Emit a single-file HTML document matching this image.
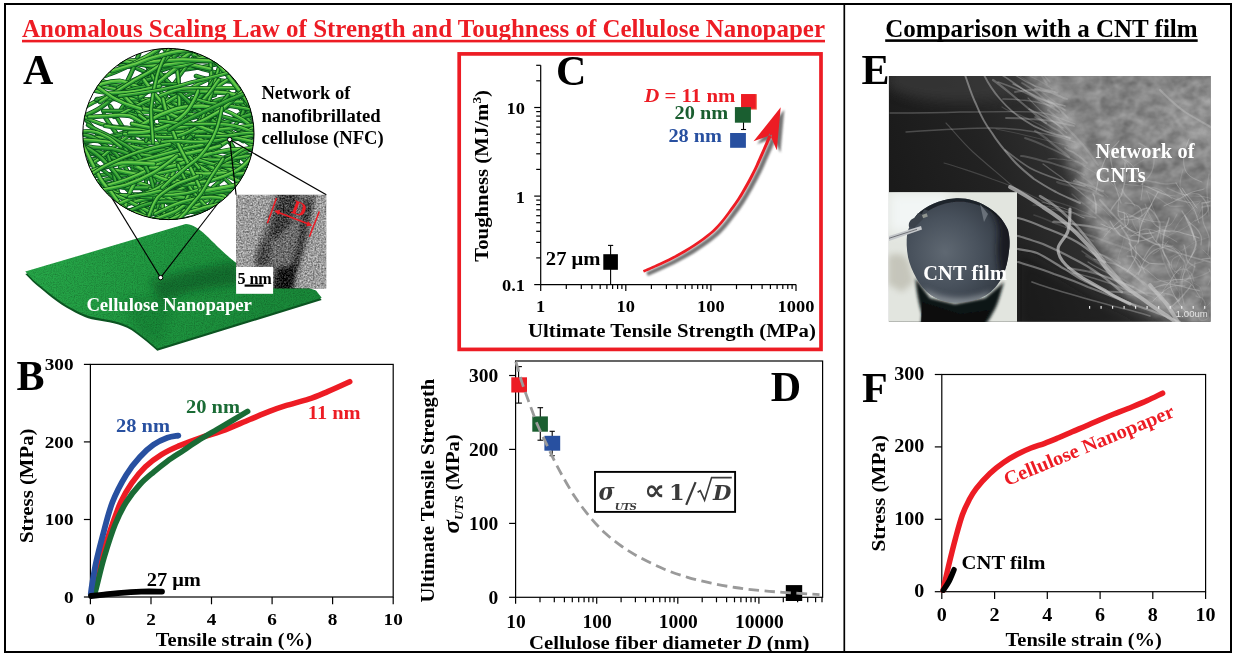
<!DOCTYPE html>
<html lang="en"><head><meta charset="utf-8"><title>Anomalous Scaling Law of Strength and Toughness of Cellulose Nanopaper</title>
<style>
html,body{margin:0;padding:0;background:#fff;}
body{width:1237px;height:656px;overflow:hidden;font-family:"Liberation Serif",serif;}
svg{display:block;}
text{font-family:"Liberation Serif",serif;}
.b{font-weight:bold;}
.bi{font-weight:bold;font-style:italic;}
.ax{stroke:#000;stroke-width:1.2;fill:none;}
</style></head><body>
<svg width="1237" height="656" viewBox="0 0 1237 656">
<!-- p0_head.py -->
<rect x="0" y="0" width="1237" height="656" fill="#fff"/>
<rect x="5" y="4" width="1226" height="648" fill="none" stroke="#000" stroke-width="2"/>
<line x1="844.3" y1="4" x2="844.3" y2="652" stroke="#000" stroke-width="1.7"/>
<text x="22" y="37" class="b" font-size="24.7" fill="#ED1C24" textLength="803" lengthAdjust="spacingAndGlyphs">Anomalous Scaling Law of Strength and Toughness of Cellulose Nanopaper</text>
<rect x="22" y="39.8" width="803" height="2.6" fill="#ED1C24"/>
<text x="885.2" y="37" class="b" font-size="24.7" fill="#000" textLength="312.5" lengthAdjust="spacingAndGlyphs">Comparison with a CNT film</text>
<rect x="885.2" y="39.3" width="312.5" height="2.6" fill="#000"/>

<!-- p1_A.py -->
<defs>
<clipPath id="circ"><circle cx="168.4" cy="134" r="85.6"/></clipPath>
<clipPath id="shc"><path d="M25.3 271.6L185.7 224.1C192 224.6 197 227.5 203 232.5C212 240.5 222 252 236.2 262.9L316 290.5L321.7 297.8L157.3 348.4C150 342 143 336 136.6 331.4C130 326.5 124 324 118.5 322.3C112 320.3 106 319.4 100.4 318.5C94 317.4 89 316.3 84.8 314.6C78 311.8 72 308.5 66.7 305.5C60 301.5 54 297 48.6 292.6C43 288 38 284 33.1 279.7Z"/></clipPath><clipPath id="temc"><rect x="236.1" y="194.8" width="90.2" height="93.8"/></clipPath>
<linearGradient id="shg" gradientUnits="userSpaceOnUse" x1="60" y1="240" x2="260" y2="330"><stop offset="0" stop-color="#26A648"/><stop offset="0.45" stop-color="#209A41"/><stop offset="1" stop-color="#1A8B3A"/></linearGradient>
<filter id="grain" x="0" y="0" width="100%" height="100%"><feTurbulence type="fractalNoise" baseFrequency="0.9" numOctaves="2" seed="3" result="n"/><feColorMatrix in="n" type="matrix" values="0 0 0 0 0  0 0 0 0 0  0 0 0 0 0  0.9 0.9 0 0 -0.75"/><feComposite in2="SourceGraphic" operator="in"/></filter>
<filter id="tem" x="0" y="0" width="100%" height="100%" color-interpolation-filters="sRGB"><feTurbulence type="fractalNoise" baseFrequency="0.6" numOctaves="2" seed="11" result="n"/><feColorMatrix in="n" type="matrix" values="1 0 0 0 0  1 0 0 0 0  1 0 0 0 0  0 0 0 0 1" result="g"/><feComposite in="SourceGraphic" in2="g" operator="arithmetic" k1="0" k2="1" k3="0.7" k4="-0.35"/></filter>
<filter id="b2"><feGaussianBlur stdDeviation="2.2"/></filter>
<filter id="b4"><feGaussianBlur stdDeviation="4"/></filter>
</defs>
<path d="M25.3 271.6L185.7 224.1C192 224.6 197 227.5 203 232.5C212 240.5 222 252 236.2 262.9L316 290.5L321.7 297.8L157.3 348.4C150 342 143 336 136.6 331.4C130 326.5 124 324 118.5 322.3C112 320.3 106 319.4 100.4 318.5C94 317.4 89 316.3 84.8 314.6C78 311.8 72 308.5 66.7 305.5C60 301.5 54 297 48.6 292.6C43 288 38 284 33.1 279.7Z" fill="#0B5421" transform="translate(0 2.3)"/>
<path d="M25.3 271.6L185.7 224.1C192 224.6 197 227.5 203 232.5C212 240.5 222 252 236.2 262.9L316 290.5L321.7 297.8L157.3 348.4C150 342 143 336 136.6 331.4C130 326.5 124 324 118.5 322.3C112 320.3 106 319.4 100.4 318.5C94 317.4 89 316.3 84.8 314.6C78 311.8 72 308.5 66.7 305.5C60 301.5 54 297 48.6 292.6C43 288 38 284 33.1 279.7Z" fill="url(#shg)"/>
<g clip-path="url(#shc)"><path d="M150 282C170 274 200 268 240 262L240 284C210 287 185 292 160 302Z" fill="#0B5A25" opacity="0.62" filter="url(#b4)"/><path d="M120 300C140 296 160 296 175 300L160 345L140 335Z" fill="#0E6A2B" opacity="0.3" filter="url(#b4)"/></g>
<path d="M25.3 271.6L185.7 224.1C192 224.6 197 227.5 203 232.5C212 240.5 222 252 236.2 262.9L316 290.5L321.7 297.8L157.3 348.4C150 342 143 336 136.6 331.4C130 326.5 124 324 118.5 322.3C112 320.3 106 319.4 100.4 318.5C94 317.4 89 316.3 84.8 314.6C78 311.8 72 308.5 66.7 305.5C60 301.5 54 297 48.6 292.6C43 288 38 284 33.1 279.7Z" fill="#0a4a1c" opacity="0.35" filter="url(#grain)"/>
<text x="86.4" y="311.4" class="b" font-size="18.8" fill="#fff" textLength="165.5">Cellulose Nanopaper</text>
<g stroke="#000" stroke-width="1.1"><line x1="160.6" y1="277.6" x2="110" y2="194.9"/><line x1="160.6" y1="277.6" x2="226" y2="193"/></g>
<circle cx="160.6" cy="277.6" r="2.2" fill="#fff" stroke="#000" stroke-width="1"/>
<circle cx="168.4" cy="134" r="85.6" fill="#fff"/>
<g clip-path="url(#circ)" fill="none" stroke-linecap="round">
<circle cx="168.4" cy="134" r="86" fill="#fff"/>
<path d="M91 55C95 56 106 60 113 63C120 65 128 66 136 68C143 71 150 74 157 78C163 82 172 89 176 92" stroke="#08481a" stroke-width="4.1"/><path d="M91 55C95 56 106 60 113 63C120 65 128 66 136 68C143 71 150 74 157 78C163 82 172 89 176 92" stroke="#1F8A2C" stroke-width="2.7"/><path d="M91 55C95 56 106 60 113 63C120 65 128 66 136 68C143 71 150 74 157 78C163 82 172 89 176 92" stroke="#48B03C" stroke-width="1.1" transform="translate(0 -.7)"/>
<path d="M70 148C74 149 85 152 93 154C101 156 109 156 117 158C125 160 132 162 140 164C147 167 158 172 162 173" stroke="#08481a" stroke-width="4.7"/><path d="M70 148C74 149 85 152 93 154C101 156 109 156 117 158C125 160 132 162 140 164C147 167 158 172 162 173" stroke="#1F8A2C" stroke-width="3.3"/><path d="M70 148C74 149 85 152 93 154C101 156 109 156 117 158C125 160 132 162 140 164C147 167 158 172 162 173" stroke="#48B03C" stroke-width="1.7" transform="translate(0 -.7)"/>
<path d="M130 152C134 152 148 154 157 155C166 157 175 159 184 160C193 162 202 163 211 165C220 167 233 171 237 172" stroke="#08481a" stroke-width="4.4"/><path d="M130 152C134 152 148 154 157 155C166 157 175 159 184 160C193 162 202 163 211 165C220 167 233 171 237 172" stroke="#1F8A2C" stroke-width="3.0"/><path d="M130 152C134 152 148 154 157 155C166 157 175 159 184 160C193 162 202 163 211 165C220 167 233 171 237 172" stroke="#48B03C" stroke-width="1.4" transform="translate(0 -.7)"/>
<path d="M191 128C193 133 196 147 201 154C207 162 215 170 224 171C232 173 243 169 251 164C258 160 268 149 271 145" stroke="#08481a" stroke-width="4.7"/><path d="M191 128C193 133 196 147 201 154C207 162 215 170 224 171C232 173 243 169 251 164C258 160 268 149 271 145" stroke="#1F8A2C" stroke-width="3.3"/><path d="M191 128C193 133 196 147 201 154C207 162 215 170 224 171C232 173 243 169 251 164C258 160 268 149 271 145" stroke="#48B03C" stroke-width="1.7" transform="translate(0 -.7)"/>
<path d="M108 20C113 22 127 30 137 35C146 40 157 47 166 47C176 47 188 41 196 35C204 28 213 14 216 10" stroke="#08481a" stroke-width="4.8"/><path d="M108 20C113 22 127 30 137 35C146 40 157 47 166 47C176 47 188 41 196 35C204 28 213 14 216 10" stroke="#1F8A2C" stroke-width="3.4"/><path d="M108 20C113 22 127 30 137 35C146 40 157 47 166 47C176 47 188 41 196 35C204 28 213 14 216 10" stroke="#48B03C" stroke-width="1.8" transform="translate(0 -.7)"/>
<path d="M104 180C109 179 124 175 134 173C144 170 155 170 164 165C172 160 178 150 183 141C187 132 189 116 191 111" stroke="#08481a" stroke-width="4.4"/><path d="M104 180C109 179 124 175 134 173C144 170 155 170 164 165C172 160 178 150 183 141C187 132 189 116 191 111" stroke="#1F8A2C" stroke-width="3.0"/><path d="M104 180C109 179 124 175 134 173C144 170 155 170 164 165C172 160 178 150 183 141C187 132 189 116 191 111" stroke="#48B03C" stroke-width="1.4" transform="translate(0 -.7)"/>
<path d="M172 72C176 71 187 69 195 68C203 67 211 65 219 64C227 63 234 63 242 62C250 61 262 60 266 59" stroke="#08481a" stroke-width="4.3"/><path d="M172 72C176 71 187 69 195 68C203 67 211 65 219 64C227 63 234 63 242 62C250 61 262 60 266 59" stroke="#1F8A2C" stroke-width="2.9"/><path d="M172 72C176 71 187 69 195 68C203 67 211 65 219 64C227 63 234 63 242 62C250 61 262 60 266 59" stroke="#48B03C" stroke-width="1.3" transform="translate(0 -.7)"/>
<path d="M117 234C119 232 126 225 130 221C134 216 139 212 142 206C145 201 146 194 146 188C147 182 144 172 144 169" stroke="#08481a" stroke-width="4.0"/><path d="M117 234C119 232 126 225 130 221C134 216 139 212 142 206C145 201 146 194 146 188C147 182 144 172 144 169" stroke="#1F8A2C" stroke-width="2.6"/><path d="M117 234C119 232 126 225 130 221C134 216 139 212 142 206C145 201 146 194 146 188C147 182 144 172 144 169" stroke="#48B03C" stroke-width="1.0" transform="translate(0 -.7)"/>
<path d="M110 106C113 110 119 122 124 129C130 135 136 143 144 146C152 150 162 150 170 150C179 151 192 152 197 152" stroke="#08481a" stroke-width="4.4"/><path d="M110 106C113 110 119 122 124 129C130 135 136 143 144 146C152 150 162 150 170 150C179 151 192 152 197 152" stroke="#1F8A2C" stroke-width="3.0"/><path d="M110 106C113 110 119 122 124 129C130 135 136 143 144 146C152 150 162 150 170 150C179 151 192 152 197 152" stroke="#48B03C" stroke-width="1.4" transform="translate(0 -.7)"/>
<path d="M64 172C66 171 74 168 79 166C84 164 89 161 94 159C99 157 105 155 110 153C115 152 123 149 125 148" stroke="#08481a" stroke-width="4.3"/><path d="M64 172C66 171 74 168 79 166C84 164 89 161 94 159C99 157 105 155 110 153C115 152 123 149 125 148" stroke="#1F8A2C" stroke-width="2.9"/><path d="M64 172C66 171 74 168 79 166C84 164 89 161 94 159C99 157 105 155 110 153C115 152 123 149 125 148" stroke="#48B03C" stroke-width="1.3" transform="translate(0 -.7)"/>
<path d="M199 144C202 145 212 148 218 150C225 152 232 155 239 155C245 156 252 155 259 154C266 154 276 153 280 153" stroke="#08481a" stroke-width="4.1"/><path d="M199 144C202 145 212 148 218 150C225 152 232 155 239 155C245 156 252 155 259 154C266 154 276 153 280 153" stroke="#1F8A2C" stroke-width="2.7"/><path d="M199 144C202 145 212 148 218 150C225 152 232 155 239 155C245 156 252 155 259 154C266 154 276 153 280 153" stroke="#48B03C" stroke-width="1.1" transform="translate(0 -.7)"/>
<path d="M119 114C121 112 126 106 129 102C133 98 136 94 139 90C143 86 147 83 151 79C154 76 160 71 162 69" stroke="#08481a" stroke-width="4.5"/><path d="M119 114C121 112 126 106 129 102C133 98 136 94 139 90C143 86 147 83 151 79C154 76 160 71 162 69" stroke="#1F8A2C" stroke-width="3.1"/><path d="M119 114C121 112 126 106 129 102C133 98 136 94 139 90C143 86 147 83 151 79C154 76 160 71 162 69" stroke="#48B03C" stroke-width="1.5" transform="translate(0 -.7)"/>
<path d="M172 178C178 177 194 178 205 177C215 175 226 173 236 171C247 169 257 166 268 164C279 162 295 160 300 159" stroke="#08481a" stroke-width="4.9"/><path d="M172 178C178 177 194 178 205 177C215 175 226 173 236 171C247 169 257 166 268 164C279 162 295 160 300 159" stroke="#1F8A2C" stroke-width="3.5"/><path d="M172 178C178 177 194 178 205 177C215 175 226 173 236 171C247 169 257 166 268 164C279 162 295 160 300 159" stroke="#48B03C" stroke-width="1.9" transform="translate(0 -.7)"/>
<path d="M187 230C190 227 199 217 205 211C212 205 219 200 226 194C232 188 239 182 245 176C252 170 262 162 266 159" stroke="#08481a" stroke-width="4.4"/><path d="M187 230C190 227 199 217 205 211C212 205 219 200 226 194C232 188 239 182 245 176C252 170 262 162 266 159" stroke="#1F8A2C" stroke-width="3.0"/><path d="M187 230C190 227 199 217 205 211C212 205 219 200 226 194C232 188 239 182 245 176C252 170 262 162 266 159" stroke="#48B03C" stroke-width="1.4" transform="translate(0 -.7)"/>
<path d="M119 112C121 109 126 101 130 96C134 91 138 86 143 81C148 77 154 74 160 71C166 69 175 66 178 65" stroke="#08481a" stroke-width="4.1"/><path d="M119 112C121 109 126 101 130 96C134 91 138 86 143 81C148 77 154 74 160 71C166 69 175 66 178 65" stroke="#1F8A2C" stroke-width="2.7"/><path d="M119 112C121 109 126 101 130 96C134 91 138 86 143 81C148 77 154 74 160 71C166 69 175 66 178 65" stroke="#48B03C" stroke-width="1.1" transform="translate(0 -.7)"/>
<path d="M156 156C161 155 176 150 186 145C196 141 206 135 215 130C225 124 234 118 243 112C251 105 263 94 267 90" stroke="#08481a" stroke-width="4.2"/><path d="M156 156C161 155 176 150 186 145C196 141 206 135 215 130C225 124 234 118 243 112C251 105 263 94 267 90" stroke="#1F8A2C" stroke-width="2.8"/><path d="M156 156C161 155 176 150 186 145C196 141 206 135 215 130C225 124 234 118 243 112C251 105 263 94 267 90" stroke="#48B03C" stroke-width="1.2" transform="translate(0 -.7)"/>
<path d="M217 9C218 13 220 28 222 38C223 48 223 58 226 67C229 77 235 85 240 94C245 102 253 115 256 119" stroke="#08481a" stroke-width="4.6"/><path d="M217 9C218 13 220 28 222 38C223 48 223 58 226 67C229 77 235 85 240 94C245 102 253 115 256 119" stroke="#1F8A2C" stroke-width="3.2"/><path d="M217 9C218 13 220 28 222 38C223 48 223 58 226 67C229 77 235 85 240 94C245 102 253 115 256 119" stroke="#48B03C" stroke-width="1.6" transform="translate(0 -.7)"/>
<path d="M226 90C228 92 234 100 238 105C242 111 246 116 250 122C253 127 258 132 262 137C266 142 272 150 274 153" stroke="#08481a" stroke-width="4.8"/><path d="M226 90C228 92 234 100 238 105C242 111 246 116 250 122C253 127 258 132 262 137C266 142 272 150 274 153" stroke="#1F8A2C" stroke-width="3.4"/><path d="M226 90C228 92 234 100 238 105C242 111 246 116 250 122C253 127 258 132 262 137C266 142 272 150 274 153" stroke="#48B03C" stroke-width="1.8" transform="translate(0 -.7)"/>
<path d="M90 160C96 159 114 156 125 155C137 153 149 152 161 150C172 147 184 144 195 141C207 139 224 136 230 135" stroke="#08481a" stroke-width="4.2"/><path d="M90 160C96 159 114 156 125 155C137 153 149 152 161 150C172 147 184 144 195 141C207 139 224 136 230 135" stroke="#1F8A2C" stroke-width="2.8"/><path d="M90 160C96 159 114 156 125 155C137 153 149 152 161 150C172 147 184 144 195 141C207 139 224 136 230 135" stroke="#48B03C" stroke-width="1.2" transform="translate(0 -.7)"/>
<path d="M182 60C185 62 195 67 202 69C209 71 218 74 224 72C231 71 238 66 244 61C249 56 256 47 258 44" stroke="#08481a" stroke-width="4.2"/><path d="M182 60C185 62 195 67 202 69C209 71 218 74 224 72C231 71 238 66 244 61C249 56 256 47 258 44" stroke="#1F8A2C" stroke-width="2.8"/><path d="M182 60C185 62 195 67 202 69C209 71 218 74 224 72C231 71 238 66 244 61C249 56 256 47 258 44" stroke="#48B03C" stroke-width="1.2" transform="translate(0 -.7)"/>
<path d="M170 131C174 131 186 133 194 134C203 135 212 138 219 135C227 133 235 127 239 120C244 114 246 101 247 97" stroke="#08481a" stroke-width="4.5"/><path d="M170 131C174 131 186 133 194 134C203 135 212 138 219 135C227 133 235 127 239 120C244 114 246 101 247 97" stroke="#1F8A2C" stroke-width="3.1"/><path d="M170 131C174 131 186 133 194 134C203 135 212 138 219 135C227 133 235 127 239 120C244 114 246 101 247 97" stroke="#48B03C" stroke-width="1.5" transform="translate(0 -.7)"/>
<path d="M104 115C105 117 110 125 114 130C117 135 121 140 124 145C126 150 129 156 131 162C133 167 134 176 135 179" stroke="#08481a" stroke-width="4.8"/><path d="M104 115C105 117 110 125 114 130C117 135 121 140 124 145C126 150 129 156 131 162C133 167 134 176 135 179" stroke="#1F8A2C" stroke-width="3.4"/><path d="M104 115C105 117 110 125 114 130C117 135 121 140 124 145C126 150 129 156 131 162C133 167 134 176 135 179" stroke="#48B03C" stroke-width="1.8" transform="translate(0 -.7)"/>
<path d="M149 199C154 196 170 189 180 183C190 177 199 169 209 164C219 159 230 155 242 152C253 149 270 148 276 148" stroke="#08481a" stroke-width="4.1"/><path d="M149 199C154 196 170 189 180 183C190 177 199 169 209 164C219 159 230 155 242 152C253 149 270 148 276 148" stroke="#1F8A2C" stroke-width="2.7"/><path d="M149 199C154 196 170 189 180 183C190 177 199 169 209 164C219 159 230 155 242 152C253 149 270 148 276 148" stroke="#48B03C" stroke-width="1.1" transform="translate(0 -.7)"/>
<path d="M128 112C131 111 142 108 150 107C157 106 164 105 171 104C179 103 186 102 193 101C201 99 211 96 215 95" stroke="#08481a" stroke-width="4.5"/><path d="M128 112C131 111 142 108 150 107C157 106 164 105 171 104C179 103 186 102 193 101C201 99 211 96 215 95" stroke="#1F8A2C" stroke-width="3.1"/><path d="M128 112C131 111 142 108 150 107C157 106 164 105 171 104C179 103 186 102 193 101C201 99 211 96 215 95" stroke="#48B03C" stroke-width="1.5" transform="translate(0 -.7)"/>
<path d="M174 103C178 101 188 94 196 92C204 90 213 89 221 91C228 93 236 98 242 104C247 109 254 120 256 123" stroke="#08481a" stroke-width="4.1"/><path d="M174 103C178 101 188 94 196 92C204 90 213 89 221 91C228 93 236 98 242 104C247 109 254 120 256 123" stroke="#1F8A2C" stroke-width="2.7"/><path d="M174 103C178 101 188 94 196 92C204 90 213 89 221 91C228 93 236 98 242 104C247 109 254 120 256 123" stroke="#48B03C" stroke-width="1.1" transform="translate(0 -.7)"/>
<path d="M136 144C141 142 158 135 169 131C181 127 193 126 204 120C214 114 223 106 232 98C241 89 253 76 257 71" stroke="#08481a" stroke-width="4.3"/><path d="M136 144C141 142 158 135 169 131C181 127 193 126 204 120C214 114 223 106 232 98C241 89 253 76 257 71" stroke="#1F8A2C" stroke-width="2.9"/><path d="M136 144C141 142 158 135 169 131C181 127 193 126 204 120C214 114 223 106 232 98C241 89 253 76 257 71" stroke="#48B03C" stroke-width="1.3" transform="translate(0 -.7)"/>
<path d="M65 148C68 147 77 145 82 143C88 142 94 141 99 139C105 138 110 136 116 135C122 133 130 132 133 131" stroke="#08481a" stroke-width="4.5"/><path d="M65 148C68 147 77 145 82 143C88 142 94 141 99 139C105 138 110 136 116 135C122 133 130 132 133 131" stroke="#1F8A2C" stroke-width="3.1"/><path d="M65 148C68 147 77 145 82 143C88 142 94 141 99 139C105 138 110 136 116 135C122 133 130 132 133 131" stroke="#48B03C" stroke-width="1.5" transform="translate(0 -.7)"/>
<path d="M165 164C169 163 181 158 189 154C196 151 204 146 212 144C220 141 229 139 237 138C246 136 258 136 263 135" stroke="#08481a" stroke-width="4.5"/><path d="M165 164C169 163 181 158 189 154C196 151 204 146 212 144C220 141 229 139 237 138C246 136 258 136 263 135" stroke="#1F8A2C" stroke-width="3.1"/><path d="M165 164C169 163 181 158 189 154C196 151 204 146 212 144C220 141 229 139 237 138C246 136 258 136 263 135" stroke="#48B03C" stroke-width="1.5" transform="translate(0 -.7)"/>
<path d="M184 185C188 184 200 182 207 179C215 177 223 175 231 173C238 170 246 167 253 165C261 162 272 157 276 156" stroke="#08481a" stroke-width="4.1"/><path d="M184 185C188 184 200 182 207 179C215 177 223 175 231 173C238 170 246 167 253 165C261 162 272 157 276 156" stroke="#1F8A2C" stroke-width="2.7"/><path d="M184 185C188 184 200 182 207 179C215 177 223 175 231 173C238 170 246 167 253 165C261 162 272 157 276 156" stroke="#48B03C" stroke-width="1.1" transform="translate(0 -.7)"/>
<path d="M198 156C202 157 211 161 218 163C224 165 231 165 238 166C245 167 251 167 258 168C265 169 275 169 279 169" stroke="#08481a" stroke-width="4.5"/><path d="M198 156C202 157 211 161 218 163C224 165 231 165 238 166C245 167 251 167 258 168C265 169 275 169 279 169" stroke="#1F8A2C" stroke-width="3.1"/><path d="M198 156C202 157 211 161 218 163C224 165 231 165 238 166C245 167 251 167 258 168C265 169 275 169 279 169" stroke="#48B03C" stroke-width="1.5" transform="translate(0 -.7)"/>
<path d="M108 138C111 137 121 135 127 134C134 132 140 131 146 129C153 128 159 126 165 124C171 122 181 119 184 118" stroke="#08481a" stroke-width="4.3"/><path d="M108 138C111 137 121 135 127 134C134 132 140 131 146 129C153 128 159 126 165 124C171 122 181 119 184 118" stroke="#1F8A2C" stroke-width="2.9"/><path d="M108 138C111 137 121 135 127 134C134 132 140 131 146 129C153 128 159 126 165 124C171 122 181 119 184 118" stroke="#48B03C" stroke-width="1.3" transform="translate(0 -.7)"/>
<path d="M129 112C133 114 147 121 157 126C166 130 175 135 185 139C194 144 203 149 212 154C221 159 235 165 240 167" stroke="#08481a" stroke-width="4.7"/><path d="M129 112C133 114 147 121 157 126C166 130 175 135 185 139C194 144 203 149 212 154C221 159 235 165 240 167" stroke="#1F8A2C" stroke-width="3.3"/><path d="M129 112C133 114 147 121 157 126C166 130 175 135 185 139C194 144 203 149 212 154C221 159 235 165 240 167" stroke="#48B03C" stroke-width="1.7" transform="translate(0 -.7)"/>
<path d="M220 129C222 131 227 139 231 144C234 149 237 154 242 158C246 162 252 165 258 167C263 169 272 172 275 173" stroke="#08481a" stroke-width="4.6"/><path d="M220 129C222 131 227 139 231 144C234 149 237 154 242 158C246 162 252 165 258 167C263 169 272 172 275 173" stroke="#1F8A2C" stroke-width="3.2"/><path d="M220 129C222 131 227 139 231 144C234 149 237 154 242 158C246 162 252 165 258 167C263 169 272 172 275 173" stroke="#48B03C" stroke-width="1.6" transform="translate(0 -.7)"/>
<path d="M35 127C41 126 58 124 69 121C79 118 91 114 100 108C109 102 118 94 125 85C131 76 137 59 139 54" stroke="#08481a" stroke-width="4.7"/><path d="M35 127C41 126 58 124 69 121C79 118 91 114 100 108C109 102 118 94 125 85C131 76 137 59 139 54" stroke="#1F8A2C" stroke-width="3.3"/><path d="M35 127C41 126 58 124 69 121C79 118 91 114 100 108C109 102 118 94 125 85C131 76 137 59 139 54" stroke="#48B03C" stroke-width="1.7" transform="translate(0 -.7)"/>
<path d="M112 161C117 161 133 162 144 162C154 163 165 164 175 164C186 164 196 163 207 162C217 162 233 161 238 161" stroke="#08481a" stroke-width="4.4"/><path d="M112 161C117 161 133 162 144 162C154 163 165 164 175 164C186 164 196 163 207 162C217 162 233 161 238 161" stroke="#1F8A2C" stroke-width="3.0"/><path d="M112 161C117 161 133 162 144 162C154 163 165 164 175 164C186 164 196 163 207 162C217 162 233 161 238 161" stroke="#48B03C" stroke-width="1.4" transform="translate(0 -.7)"/>
<path d="M106 160C111 160 126 160 136 162C146 163 155 169 165 169C174 168 185 165 193 160C200 154 207 140 210 136" stroke="#08481a" stroke-width="4.5"/><path d="M106 160C111 160 126 160 136 162C146 163 155 169 165 169C174 168 185 165 193 160C200 154 207 140 210 136" stroke="#1F8A2C" stroke-width="3.1"/><path d="M106 160C111 160 126 160 136 162C146 163 155 169 165 169C174 168 185 165 193 160C200 154 207 140 210 136" stroke="#48B03C" stroke-width="1.5" transform="translate(0 -.7)"/>
<path d="M153 188C157 186 169 182 177 179C185 176 192 171 201 170C209 169 218 170 226 172C234 174 246 179 250 181" stroke="#08481a" stroke-width="4.8"/><path d="M153 188C157 186 169 182 177 179C185 176 192 171 201 170C209 169 218 170 226 172C234 174 246 179 250 181" stroke="#1F8A2C" stroke-width="3.4"/><path d="M153 188C157 186 169 182 177 179C185 176 192 171 201 170C209 169 218 170 226 172C234 174 246 179 250 181" stroke="#48B03C" stroke-width="1.8" transform="translate(0 -.7)"/>
<path d="M119 197C122 196 133 194 140 194C147 193 154 193 161 194C168 195 175 196 181 198C188 200 198 205 201 206" stroke="#08481a" stroke-width="4.1"/><path d="M119 197C122 196 133 194 140 194C147 193 154 193 161 194C168 195 175 196 181 198C188 200 198 205 201 206" stroke="#1F8A2C" stroke-width="2.7"/><path d="M119 197C122 196 133 194 140 194C147 193 154 193 161 194C168 195 175 196 181 198C188 200 198 205 201 206" stroke="#48B03C" stroke-width="1.1" transform="translate(0 -.7)"/>
<path d="M124 260C128 255 139 242 147 233C154 224 162 215 170 207C178 198 187 190 194 181C202 172 213 158 216 154" stroke="#08481a" stroke-width="4.3"/><path d="M124 260C128 255 139 242 147 233C154 224 162 215 170 207C178 198 187 190 194 181C202 172 213 158 216 154" stroke="#1F8A2C" stroke-width="2.9"/><path d="M124 260C128 255 139 242 147 233C154 224 162 215 170 207C178 198 187 190 194 181C202 172 213 158 216 154" stroke="#48B03C" stroke-width="1.3" transform="translate(0 -.7)"/>
<path d="M132 163C132 157 133 141 134 131C136 120 137 110 139 99C142 89 145 79 149 69C153 59 161 45 163 41" stroke="#08481a" stroke-width="4.4"/><path d="M132 163C132 157 133 141 134 131C136 120 137 110 139 99C142 89 145 79 149 69C153 59 161 45 163 41" stroke="#1F8A2C" stroke-width="3.0"/><path d="M132 163C132 157 133 141 134 131C136 120 137 110 139 99C142 89 145 79 149 69C153 59 161 45 163 41" stroke="#48B03C" stroke-width="1.4" transform="translate(0 -.7)"/>
<path d="M143 109C146 109 157 108 164 107C171 107 178 107 185 108C192 109 199 111 205 114C212 116 222 121 225 123" stroke="#08481a" stroke-width="4.5"/><path d="M143 109C146 109 157 108 164 107C171 107 178 107 185 108C192 109 199 111 205 114C212 116 222 121 225 123" stroke="#1F8A2C" stroke-width="3.1"/><path d="M143 109C146 109 157 108 164 107C171 107 178 107 185 108C192 109 199 111 205 114C212 116 222 121 225 123" stroke="#48B03C" stroke-width="1.5" transform="translate(0 -.7)"/>
<path d="M131 210C136 210 152 208 162 209C172 209 183 209 193 212C203 214 212 220 221 225C230 230 242 241 246 244" stroke="#08481a" stroke-width="4.3"/><path d="M131 210C136 210 152 208 162 209C172 209 183 209 193 212C203 214 212 220 221 225C230 230 242 241 246 244" stroke="#1F8A2C" stroke-width="2.9"/><path d="M131 210C136 210 152 208 162 209C172 209 183 209 193 212C203 214 212 220 221 225C230 230 242 241 246 244" stroke="#48B03C" stroke-width="1.3" transform="translate(0 -.7)"/>
<path d="M122 98C126 99 136 103 142 104C149 105 157 107 163 105C169 102 175 95 177 89C180 83 178 72 178 68" stroke="#08481a" stroke-width="4.1"/><path d="M122 98C126 99 136 103 142 104C149 105 157 107 163 105C169 102 175 95 177 89C180 83 178 72 178 68" stroke="#1F8A2C" stroke-width="2.7"/><path d="M122 98C126 99 136 103 142 104C149 105 157 107 163 105C169 102 175 95 177 89C180 83 178 72 178 68" stroke="#48B03C" stroke-width="1.1" transform="translate(0 -.7)"/>
<path d="M199 112C203 113 215 118 222 121C230 125 237 130 244 133C252 137 260 140 269 140C277 141 289 138 293 137" stroke="#08481a" stroke-width="4.2"/><path d="M199 112C203 113 215 118 222 121C230 125 237 130 244 133C252 137 260 140 269 140C277 141 289 138 293 137" stroke="#1F8A2C" stroke-width="2.8"/><path d="M199 112C203 113 215 118 222 121C230 125 237 130 244 133C252 137 260 140 269 140C277 141 289 138 293 137" stroke="#48B03C" stroke-width="1.2" transform="translate(0 -.7)"/>
<path d="M134 217C138 216 150 214 158 212C166 210 174 210 182 207C189 204 197 200 203 196C210 191 218 182 222 180" stroke="#08481a" stroke-width="4.5"/><path d="M134 217C138 216 150 214 158 212C166 210 174 210 182 207C189 204 197 200 203 196C210 191 218 182 222 180" stroke="#1F8A2C" stroke-width="3.1"/><path d="M134 217C138 216 150 214 158 212C166 210 174 210 182 207C189 204 197 200 203 196C210 191 218 182 222 180" stroke="#48B03C" stroke-width="1.5" transform="translate(0 -.7)"/>
<path d="M196 76C199 77 209 80 216 80C223 81 230 82 236 81C243 80 250 77 256 75C263 73 272 69 276 68" stroke="#08481a" stroke-width="4.6"/><path d="M196 76C199 77 209 80 216 80C223 81 230 82 236 81C243 80 250 77 256 75C263 73 272 69 276 68" stroke="#1F8A2C" stroke-width="3.2"/><path d="M196 76C199 77 209 80 216 80C223 81 230 82 236 81C243 80 250 77 256 75C263 73 272 69 276 68" stroke="#48B03C" stroke-width="1.6" transform="translate(0 -.7)"/>
<path d="M116 158C120 157 132 156 140 155C148 154 156 150 164 150C171 151 180 153 187 156C193 160 200 171 203 173" stroke="#08481a" stroke-width="4.5"/><path d="M116 158C120 157 132 156 140 155C148 154 156 150 164 150C171 151 180 153 187 156C193 160 200 171 203 173" stroke="#1F8A2C" stroke-width="3.1"/><path d="M116 158C120 157 132 156 140 155C148 154 156 150 164 150C171 151 180 153 187 156C193 160 200 171 203 173" stroke="#48B03C" stroke-width="1.5" transform="translate(0 -.7)"/>
<path d="M142 189C146 188 160 185 169 184C178 183 187 182 196 184C205 186 214 190 221 196C228 201 235 213 238 217" stroke="#08481a" stroke-width="4.2"/><path d="M142 189C146 188 160 185 169 184C178 183 187 182 196 184C205 186 214 190 221 196C228 201 235 213 238 217" stroke="#1F8A2C" stroke-width="2.8"/><path d="M142 189C146 188 160 185 169 184C178 183 187 182 196 184C205 186 214 190 221 196C228 201 235 213 238 217" stroke="#48B03C" stroke-width="1.2" transform="translate(0 -.7)"/>
<path d="M152 61C157 61 170 60 179 60C188 59 197 62 206 61C214 60 223 58 232 56C240 53 253 48 257 46" stroke="#08481a" stroke-width="4.9"/><path d="M152 61C157 61 170 60 179 60C188 59 197 62 206 61C214 60 223 58 232 56C240 53 253 48 257 46" stroke="#1F8A2C" stroke-width="3.5"/><path d="M152 61C157 61 170 60 179 60C188 59 197 62 206 61C214 60 223 58 232 56C240 53 253 48 257 46" stroke="#48B03C" stroke-width="1.9" transform="translate(0 -.7)"/>
<path d="M199 127C203 127 213 126 220 127C227 127 234 127 240 129C247 132 253 135 258 140C263 144 269 153 271 156" stroke="#08481a" stroke-width="4.2"/><path d="M199 127C203 127 213 126 220 127C227 127 234 127 240 129C247 132 253 135 258 140C263 144 269 153 271 156" stroke="#1F8A2C" stroke-width="2.8"/><path d="M199 127C203 127 213 126 220 127C227 127 234 127 240 129C247 132 253 135 258 140C263 144 269 153 271 156" stroke="#48B03C" stroke-width="1.2" transform="translate(0 -.7)"/>
<path d="M88 177C94 176 110 174 121 173C132 172 143 172 154 168C164 165 173 158 183 154C193 149 208 142 213 140" stroke="#08481a" stroke-width="4.2"/><path d="M88 177C94 176 110 174 121 173C132 172 143 172 154 168C164 165 173 158 183 154C193 149 208 142 213 140" stroke="#1F8A2C" stroke-width="2.8"/><path d="M88 177C94 176 110 174 121 173C132 172 143 172 154 168C164 165 173 158 183 154C193 149 208 142 213 140" stroke="#48B03C" stroke-width="1.2" transform="translate(0 -.7)"/>
<path d="M121 88C125 87 136 84 144 81C152 79 161 79 168 75C175 71 181 65 186 59C191 53 197 42 199 39" stroke="#08481a" stroke-width="4.0"/><path d="M121 88C125 87 136 84 144 81C152 79 161 79 168 75C175 71 181 65 186 59C191 53 197 42 199 39" stroke="#1F8A2C" stroke-width="2.6"/><path d="M121 88C125 87 136 84 144 81C152 79 161 79 168 75C175 71 181 65 186 59C191 53 197 42 199 39" stroke="#48B03C" stroke-width="1.0" transform="translate(0 -.7)"/>
<path d="M91 161C96 165 111 176 121 184C130 192 139 201 149 209C158 217 168 224 178 232C188 239 204 249 209 253" stroke="#08481a" stroke-width="4.0"/><path d="M91 161C96 165 111 176 121 184C130 192 139 201 149 209C158 217 168 224 178 232C188 239 204 249 209 253" stroke="#1F8A2C" stroke-width="2.6"/><path d="M91 161C96 165 111 176 121 184C130 192 139 201 149 209C158 217 168 224 178 232C188 239 204 249 209 253" stroke="#48B03C" stroke-width="1.0" transform="translate(0 -.7)"/>
<path d="M103 111C107 111 117 111 125 111C132 111 139 111 146 110C153 110 160 107 167 106C174 106 185 106 188 106" stroke="#08481a" stroke-width="4.3"/><path d="M103 111C107 111 117 111 125 111C132 111 139 111 146 110C153 110 160 107 167 106C174 106 185 106 188 106" stroke="#1F8A2C" stroke-width="2.9"/><path d="M103 111C107 111 117 111 125 111C132 111 139 111 146 110C153 110 160 107 167 106C174 106 185 106 188 106" stroke="#48B03C" stroke-width="1.3" transform="translate(0 -.7)"/>
<path d="M161 143C166 141 183 136 195 132C206 128 217 125 229 121C240 118 251 114 263 111C274 108 292 106 298 105" stroke="#08481a" stroke-width="4.7"/><path d="M161 143C166 141 183 136 195 132C206 128 217 125 229 121C240 118 251 114 263 111C274 108 292 106 298 105" stroke="#1F8A2C" stroke-width="3.3"/><path d="M161 143C166 141 183 136 195 132C206 128 217 125 229 121C240 118 251 114 263 111C274 108 292 106 298 105" stroke="#48B03C" stroke-width="1.7" transform="translate(0 -.7)"/>
<path d="M82 192C86 191 96 188 103 186C110 184 116 182 123 180C130 179 137 178 144 178C151 178 161 181 165 182" stroke="#08481a" stroke-width="4.7"/><path d="M82 192C86 191 96 188 103 186C110 184 116 182 123 180C130 179 137 178 144 178C151 178 161 181 165 182" stroke="#1F8A2C" stroke-width="3.3"/><path d="M82 192C86 191 96 188 103 186C110 184 116 182 123 180C130 179 137 178 144 178C151 178 161 181 165 182" stroke="#48B03C" stroke-width="1.7" transform="translate(0 -.7)"/>
<path d="M154 227C158 226 167 222 174 221C180 219 187 220 194 217C200 215 206 211 210 205C214 200 217 190 218 187" stroke="#08481a" stroke-width="4.8"/><path d="M154 227C158 226 167 222 174 221C180 219 187 220 194 217C200 215 206 211 210 205C214 200 217 190 218 187" stroke="#1F8A2C" stroke-width="3.4"/><path d="M154 227C158 226 167 222 174 221C180 219 187 220 194 217C200 215 206 211 210 205C214 200 217 190 218 187" stroke="#48B03C" stroke-width="1.8" transform="translate(0 -.7)"/>
<path d="M181 142C185 145 196 154 203 160C211 166 218 172 225 179C232 185 239 192 245 199C251 207 258 219 261 223" stroke="#08481a" stroke-width="4.2"/><path d="M181 142C185 145 196 154 203 160C211 166 218 172 225 179C232 185 239 192 245 199C251 207 258 219 261 223" stroke="#1F8A2C" stroke-width="2.8"/><path d="M181 142C185 145 196 154 203 160C211 166 218 172 225 179C232 185 239 192 245 199C251 207 258 219 261 223" stroke="#48B03C" stroke-width="1.2" transform="translate(0 -.7)"/>
<path d="M11 120C17 122 34 127 46 131C58 135 70 139 81 144C93 148 104 154 115 159C127 164 144 171 150 173" stroke="#08481a" stroke-width="4.4"/><path d="M11 120C17 122 34 127 46 131C58 135 70 139 81 144C93 148 104 154 115 159C127 164 144 171 150 173" stroke="#1F8A2C" stroke-width="3.0"/><path d="M11 120C17 122 34 127 46 131C58 135 70 139 81 144C93 148 104 154 115 159C127 164 144 171 150 173" stroke="#48B03C" stroke-width="1.4" transform="translate(0 -.7)"/>
<path d="M95 170C99 169 114 165 124 162C133 160 144 160 153 157C162 154 172 149 180 144C188 138 197 126 201 122" stroke="#08481a" stroke-width="4.7"/><path d="M95 170C99 169 114 165 124 162C133 160 144 160 153 157C162 154 172 149 180 144C188 138 197 126 201 122" stroke="#1F8A2C" stroke-width="3.3"/><path d="M95 170C99 169 114 165 124 162C133 160 144 160 153 157C162 154 172 149 180 144C188 138 197 126 201 122" stroke="#48B03C" stroke-width="1.7" transform="translate(0 -.7)"/>
<path d="M80 71C83 72 93 78 100 80C107 83 114 86 121 86C129 86 136 83 143 81C150 79 161 76 165 75" stroke="#08481a" stroke-width="4.6"/><path d="M80 71C83 72 93 78 100 80C107 83 114 86 121 86C129 86 136 83 143 81C150 79 161 76 165 75" stroke="#1F8A2C" stroke-width="3.2"/><path d="M80 71C83 72 93 78 100 80C107 83 114 86 121 86C129 86 136 83 143 81C150 79 161 76 165 75" stroke="#48B03C" stroke-width="1.6" transform="translate(0 -.7)"/>
<path d="M35 92C41 94 58 99 68 105C78 112 87 120 94 129C101 139 106 150 110 161C114 172 117 190 119 196" stroke="#08481a" stroke-width="4.3"/><path d="M35 92C41 94 58 99 68 105C78 112 87 120 94 129C101 139 106 150 110 161C114 172 117 190 119 196" stroke="#1F8A2C" stroke-width="2.9"/><path d="M35 92C41 94 58 99 68 105C78 112 87 120 94 129C101 139 106 150 110 161C114 172 117 190 119 196" stroke="#48B03C" stroke-width="1.3" transform="translate(0 -.7)"/>
<path d="M143 58C144 61 148 68 151 73C154 79 156 84 159 89C162 94 166 98 171 101C176 105 184 108 187 109" stroke="#08481a" stroke-width="4.2"/><path d="M143 58C144 61 148 68 151 73C154 79 156 84 159 89C162 94 166 98 171 101C176 105 184 108 187 109" stroke="#2C9C33" stroke-width="2.8"/><path d="M143 58C144 61 148 68 151 73C154 79 156 84 159 89C162 94 166 98 171 101C176 105 184 108 187 109" stroke="#6ACB4A" stroke-width="1.2" transform="translate(0 -.7)"/>
<path d="M127 154C132 154 147 155 157 157C167 158 177 161 187 163C197 164 207 166 217 169C227 171 241 176 246 177" stroke="#08481a" stroke-width="4.1"/><path d="M127 154C132 154 147 155 157 157C167 158 177 161 187 163C197 164 207 166 217 169C227 171 241 176 246 177" stroke="#2C9C33" stroke-width="2.7"/><path d="M127 154C132 154 147 155 157 157C167 158 177 161 187 163C197 164 207 166 217 169C227 171 241 176 246 177" stroke="#6ACB4A" stroke-width="1.1" transform="translate(0 -.7)"/>
<path d="M88 136C93 137 108 139 119 140C129 141 139 142 149 143C159 144 169 144 179 146C190 147 205 151 210 151" stroke="#08481a" stroke-width="4.5"/><path d="M88 136C93 137 108 139 119 140C129 141 139 142 149 143C159 144 169 144 179 146C190 147 205 151 210 151" stroke="#2C9C33" stroke-width="3.1"/><path d="M88 136C93 137 108 139 119 140C129 141 139 142 149 143C159 144 169 144 179 146C190 147 205 151 210 151" stroke="#6ACB4A" stroke-width="1.5" transform="translate(0 -.7)"/>
<path d="M116 215C119 214 128 211 135 209C141 207 147 205 153 202C159 200 164 197 171 194C177 192 186 190 189 189" stroke="#08481a" stroke-width="4.8"/><path d="M116 215C119 214 128 211 135 209C141 207 147 205 153 202C159 200 164 197 171 194C177 192 186 190 189 189" stroke="#2C9C33" stroke-width="3.4"/><path d="M116 215C119 214 128 211 135 209C141 207 147 205 153 202C159 200 164 197 171 194C177 192 186 190 189 189" stroke="#6ACB4A" stroke-width="1.8" transform="translate(0 -.7)"/>
<path d="M154 213C156 209 162 196 167 187C171 178 175 170 178 160C181 151 183 142 184 132C185 123 185 108 186 103" stroke="#08481a" stroke-width="4.8"/><path d="M154 213C156 209 162 196 167 187C171 178 175 170 178 160C181 151 183 142 184 132C185 123 185 108 186 103" stroke="#2C9C33" stroke-width="3.4"/><path d="M154 213C156 209 162 196 167 187C171 178 175 170 178 160C181 151 183 142 184 132C185 123 185 108 186 103" stroke="#6ACB4A" stroke-width="1.8" transform="translate(0 -.7)"/>
<path d="M170 225C169 222 163 214 163 209C162 203 163 195 167 191C170 188 178 187 184 187C190 187 198 192 201 193" stroke="#08481a" stroke-width="4.6"/><path d="M170 225C169 222 163 214 163 209C162 203 163 195 167 191C170 188 178 187 184 187C190 187 198 192 201 193" stroke="#35AA38" stroke-width="3.2"/><path d="M170 225C169 222 163 214 163 209C162 203 163 195 167 191C170 188 178 187 184 187C190 187 198 192 201 193" stroke="#6ACB4A" stroke-width="1.6" transform="translate(0 -.7)"/>
<path d="M59 175C63 175 74 178 82 180C90 182 98 185 105 188C112 191 120 194 127 198C133 202 142 211 145 214" stroke="#08481a" stroke-width="4.1"/><path d="M59 175C63 175 74 178 82 180C90 182 98 185 105 188C112 191 120 194 127 198C133 202 142 211 145 214" stroke="#2C9C33" stroke-width="2.7"/><path d="M59 175C63 175 74 178 82 180C90 182 98 185 105 188C112 191 120 194 127 198C133 202 142 211 145 214" stroke="#6ACB4A" stroke-width="1.1" transform="translate(0 -.7)"/>
<path d="M157 220C161 219 174 215 183 213C192 211 201 210 211 209C220 207 229 206 238 205C247 204 261 202 265 202" stroke="#08481a" stroke-width="4.3"/><path d="M157 220C161 219 174 215 183 213C192 211 201 210 211 209C220 207 229 206 238 205C247 204 261 202 265 202" stroke="#2C9C33" stroke-width="2.9"/><path d="M157 220C161 219 174 215 183 213C192 211 201 210 211 209C220 207 229 206 238 205C247 204 261 202 265 202" stroke="#6ACB4A" stroke-width="1.3" transform="translate(0 -.7)"/>
<path d="M136 134C140 133 152 129 160 127C168 125 176 122 184 120C192 118 200 116 208 114C216 111 228 106 232 105" stroke="#08481a" stroke-width="4.4"/><path d="M136 134C140 133 152 129 160 127C168 125 176 122 184 120C192 118 200 116 208 114C216 111 228 106 232 105" stroke="#2C9C33" stroke-width="3.0"/><path d="M136 134C140 133 152 129 160 127C168 125 176 122 184 120C192 118 200 116 208 114C216 111 228 106 232 105" stroke="#6ACB4A" stroke-width="1.4" transform="translate(0 -.7)"/>
<path d="M125 91C128 88 138 81 144 75C151 70 156 64 163 60C171 56 179 54 187 53C195 51 207 50 212 50" stroke="#08481a" stroke-width="4.7"/><path d="M125 91C128 88 138 81 144 75C151 70 156 64 163 60C171 56 179 54 187 53C195 51 207 50 212 50" stroke="#2C9C33" stroke-width="3.3"/><path d="M125 91C128 88 138 81 144 75C151 70 156 64 163 60C171 56 179 54 187 53C195 51 207 50 212 50" stroke="#6ACB4A" stroke-width="1.7" transform="translate(0 -.7)"/>
<path d="M14 147C19 145 37 140 49 138C61 136 74 132 85 135C96 137 107 146 116 154C124 163 132 180 135 185" stroke="#08481a" stroke-width="4.4"/><path d="M14 147C19 145 37 140 49 138C61 136 74 132 85 135C96 137 107 146 116 154C124 163 132 180 135 185" stroke="#1F8A2C" stroke-width="3.0"/><path d="M14 147C19 145 37 140 49 138C61 136 74 132 85 135C96 137 107 146 116 154C124 163 132 180 135 185" stroke="#48B03C" stroke-width="1.4" transform="translate(0 -.7)"/>
<path d="M39 156C43 153 57 142 65 133C73 125 78 112 87 106C97 100 110 95 121 96C132 97 147 110 152 113" stroke="#08481a" stroke-width="4.2"/><path d="M39 156C43 153 57 142 65 133C73 125 78 112 87 106C97 100 110 95 121 96C132 97 147 110 152 113" stroke="#2C9C33" stroke-width="2.8"/><path d="M39 156C43 153 57 142 65 133C73 125 78 112 87 106C97 100 110 95 121 96C132 97 147 110 152 113" stroke="#6ACB4A" stroke-width="1.2" transform="translate(0 -.7)"/>
<path d="M97 99C104 99 122 99 134 99C146 99 158 100 170 100C182 100 194 101 206 101C218 102 236 102 242 102" stroke="#08481a" stroke-width="4.5"/><path d="M97 99C104 99 122 99 134 99C146 99 158 100 170 100C182 100 194 101 206 101C218 102 236 102 242 102" stroke="#35AA38" stroke-width="3.1"/><path d="M97 99C104 99 122 99 134 99C146 99 158 100 170 100C182 100 194 101 206 101C218 102 236 102 242 102" stroke="#6ACB4A" stroke-width="1.5" transform="translate(0 -.7)"/>
<path d="M113 223C116 221 123 216 128 213C132 210 138 208 142 204C147 201 151 197 155 193C159 188 164 181 165 178" stroke="#08481a" stroke-width="4.9"/><path d="M113 223C116 221 123 216 128 213C132 210 138 208 142 204C147 201 151 197 155 193C159 188 164 181 165 178" stroke="#2C9C33" stroke-width="3.5"/><path d="M113 223C116 221 123 216 128 213C132 210 138 208 142 204C147 201 151 197 155 193C159 188 164 181 165 178" stroke="#6ACB4A" stroke-width="1.9" transform="translate(0 -.7)"/>
<path d="M110 185C113 184 121 183 126 183C132 183 137 182 142 184C147 185 152 188 156 191C161 195 166 201 168 203" stroke="#08481a" stroke-width="4.6"/><path d="M110 185C113 184 121 183 126 183C132 183 137 182 142 184C147 185 152 188 156 191C161 195 166 201 168 203" stroke="#2C9C33" stroke-width="3.2"/><path d="M110 185C113 184 121 183 126 183C132 183 137 182 142 184C147 185 152 188 156 191C161 195 166 201 168 203" stroke="#6ACB4A" stroke-width="1.6" transform="translate(0 -.7)"/>
<path d="M74 177C76 175 84 170 88 166C93 163 98 160 103 156C108 152 112 148 117 144C121 141 129 135 131 134" stroke="#08481a" stroke-width="4.1"/><path d="M74 177C76 175 84 170 88 166C93 163 98 160 103 156C108 152 112 148 117 144C121 141 129 135 131 134" stroke="#2C9C33" stroke-width="2.7"/><path d="M74 177C76 175 84 170 88 166C93 163 98 160 103 156C108 152 112 148 117 144C121 141 129 135 131 134" stroke="#6ACB4A" stroke-width="1.1" transform="translate(0 -.7)"/>
<path d="M66 143C70 144 83 146 91 147C100 149 109 147 117 150C125 152 133 156 140 161C146 167 153 179 155 182" stroke="#08481a" stroke-width="4.6"/><path d="M66 143C70 144 83 146 91 147C100 149 109 147 117 150C125 152 133 156 140 161C146 167 153 179 155 182" stroke="#1F8A2C" stroke-width="3.2"/><path d="M66 143C70 144 83 146 91 147C100 149 109 147 117 150C125 152 133 156 140 161C146 167 153 179 155 182" stroke="#48B03C" stroke-width="1.6" transform="translate(0 -.7)"/>
<path d="M170 94C175 96 188 100 196 104C205 108 213 112 221 116C230 119 239 120 248 123C257 126 269 132 274 133" stroke="#08481a" stroke-width="4.2"/><path d="M170 94C175 96 188 100 196 104C205 108 213 112 221 116C230 119 239 120 248 123C257 126 269 132 274 133" stroke="#1F8A2C" stroke-width="2.8"/><path d="M170 94C175 96 188 100 196 104C205 108 213 112 221 116C230 119 239 120 248 123C257 126 269 132 274 133" stroke="#48B03C" stroke-width="1.2" transform="translate(0 -.7)"/>
<path d="M19 149C24 148 40 145 51 144C62 142 72 140 83 140C94 140 105 142 116 143C126 145 142 149 147 150" stroke="#08481a" stroke-width="4.5"/><path d="M19 149C24 148 40 145 51 144C62 142 72 140 83 140C94 140 105 142 116 143C126 145 142 149 147 150" stroke="#2C9C33" stroke-width="3.1"/><path d="M19 149C24 148 40 145 51 144C62 142 72 140 83 140C94 140 105 142 116 143C126 145 142 149 147 150" stroke="#6ACB4A" stroke-width="1.5" transform="translate(0 -.7)"/>
<path d="M163 199C166 198 174 196 179 195C184 194 190 193 195 193C200 193 206 194 211 195C216 196 224 198 227 198" stroke="#08481a" stroke-width="4.7"/><path d="M163 199C166 198 174 196 179 195C184 194 190 193 195 193C200 193 206 194 211 195C216 196 224 198 227 198" stroke="#2C9C33" stroke-width="3.3"/><path d="M163 199C166 198 174 196 179 195C184 194 190 193 195 193C200 193 206 194 211 195C216 196 224 198 227 198" stroke="#6ACB4A" stroke-width="1.7" transform="translate(0 -.7)"/>
<path d="M182 125C185 125 193 124 198 124C203 124 208 125 214 125C219 126 224 126 229 127C235 128 242 131 244 132" stroke="#08481a" stroke-width="4.2"/><path d="M182 125C185 125 193 124 198 124C203 124 208 125 214 125C219 126 224 126 229 127C235 128 242 131 244 132" stroke="#2C9C33" stroke-width="2.8"/><path d="M182 125C185 125 193 124 198 124C203 124 208 125 214 125C219 126 224 126 229 127C235 128 242 131 244 132" stroke="#6ACB4A" stroke-width="1.2" transform="translate(0 -.7)"/>
<path d="M84 178C90 179 108 185 120 187C132 189 144 187 157 188C169 190 182 192 192 197C202 203 214 218 219 222" stroke="#08481a" stroke-width="4.7"/><path d="M84 178C90 179 108 185 120 187C132 189 144 187 157 188C169 190 182 192 192 197C202 203 214 218 219 222" stroke="#1F8A2C" stroke-width="3.3"/><path d="M84 178C90 179 108 185 120 187C132 189 144 187 157 188C169 190 182 192 192 197C202 203 214 218 219 222" stroke="#48B03C" stroke-width="1.7" transform="translate(0 -.7)"/>
<path d="M195 136C196 133 198 122 201 117C204 111 209 105 215 101C220 98 228 98 234 97C241 96 251 97 255 97" stroke="#08481a" stroke-width="4.6"/><path d="M195 136C196 133 198 122 201 117C204 111 209 105 215 101C220 98 228 98 234 97C241 96 251 97 255 97" stroke="#1F8A2C" stroke-width="3.2"/><path d="M195 136C196 133 198 122 201 117C204 111 209 105 215 101C220 98 228 98 234 97C241 96 251 97 255 97" stroke="#48B03C" stroke-width="1.6" transform="translate(0 -.7)"/>
<path d="M113 170C117 170 128 173 135 174C142 175 150 175 157 176C164 177 171 178 178 181C185 183 195 188 198 190" stroke="#08481a" stroke-width="4.8"/><path d="M113 170C117 170 128 173 135 174C142 175 150 175 157 176C164 177 171 178 178 181C185 183 195 188 198 190" stroke="#2C9C33" stroke-width="3.4"/><path d="M113 170C117 170 128 173 135 174C142 175 150 175 157 176C164 177 171 178 178 181C185 183 195 188 198 190" stroke="#6ACB4A" stroke-width="1.8" transform="translate(0 -.7)"/>
<path d="M170 223C172 218 178 205 181 197C185 188 190 180 194 171C197 162 200 153 203 145C207 136 214 124 217 120" stroke="#08481a" stroke-width="4.8"/><path d="M170 223C172 218 178 205 181 197C185 188 190 180 194 171C197 162 200 153 203 145C207 136 214 124 217 120" stroke="#1F8A2C" stroke-width="3.4"/><path d="M170 223C172 218 178 205 181 197C185 188 190 180 194 171C197 162 200 153 203 145C207 136 214 124 217 120" stroke="#48B03C" stroke-width="1.8" transform="translate(0 -.7)"/>
<path d="M186 147C189 148 199 151 206 153C213 155 220 157 227 159C233 162 240 165 246 169C252 172 261 178 265 180" stroke="#08481a" stroke-width="4.2"/><path d="M186 147C189 148 199 151 206 153C213 155 220 157 227 159C233 162 240 165 246 169C252 172 261 178 265 180" stroke="#2C9C33" stroke-width="2.8"/><path d="M186 147C189 148 199 151 206 153C213 155 220 157 227 159C233 162 240 165 246 169C252 172 261 178 265 180" stroke="#6ACB4A" stroke-width="1.2" transform="translate(0 -.7)"/>
<path d="M136 113C142 113 160 111 172 110C184 109 197 112 209 109C220 106 232 99 240 91C249 82 257 65 260 59" stroke="#08481a" stroke-width="4.3"/><path d="M136 113C142 113 160 111 172 110C184 109 197 112 209 109C220 106 232 99 240 91C249 82 257 65 260 59" stroke="#35AA38" stroke-width="2.9"/><path d="M136 113C142 113 160 111 172 110C184 109 197 112 209 109C220 106 232 99 240 91C249 82 257 65 260 59" stroke="#6ACB4A" stroke-width="1.3" transform="translate(0 -.7)"/>
<path d="M146 141C148 135 153 119 158 109C163 99 169 90 176 81C182 72 189 63 196 54C204 46 217 35 221 32" stroke="#08481a" stroke-width="4.0"/><path d="M146 141C148 135 153 119 158 109C163 99 169 90 176 81C182 72 189 63 196 54C204 46 217 35 221 32" stroke="#2C9C33" stroke-width="2.6"/><path d="M146 141C148 135 153 119 158 109C163 99 169 90 176 81C182 72 189 63 196 54C204 46 217 35 221 32" stroke="#6ACB4A" stroke-width="1.0" transform="translate(0 -.7)"/>
<path d="M102 207C107 206 124 203 135 200C146 197 156 193 167 190C178 186 188 181 199 178C209 175 226 174 232 173" stroke="#08481a" stroke-width="4.4"/><path d="M102 207C107 206 124 203 135 200C146 197 156 193 167 190C178 186 188 181 199 178C209 175 226 174 232 173" stroke="#2C9C33" stroke-width="3.0"/><path d="M102 207C107 206 124 203 135 200C146 197 156 193 167 190C178 186 188 181 199 178C209 175 226 174 232 173" stroke="#6ACB4A" stroke-width="1.4" transform="translate(0 -.7)"/>
<path d="M150 7C153 12 162 26 169 34C176 42 185 50 194 55C203 60 215 63 225 65C236 67 252 67 258 68" stroke="#08481a" stroke-width="4.0"/><path d="M150 7C153 12 162 26 169 34C176 42 185 50 194 55C203 60 215 63 225 65C236 67 252 67 258 68" stroke="#2C9C33" stroke-width="2.6"/><path d="M150 7C153 12 162 26 169 34C176 42 185 50 194 55C203 60 215 63 225 65C236 67 252 67 258 68" stroke="#6ACB4A" stroke-width="1.0" transform="translate(0 -.7)"/>
<path d="M77 204C81 204 93 205 101 206C109 207 117 208 124 209C132 211 139 214 147 217C154 219 165 223 169 224" stroke="#08481a" stroke-width="4.3"/><path d="M77 204C81 204 93 205 101 206C109 207 117 208 124 209C132 211 139 214 147 217C154 219 165 223 169 224" stroke="#2C9C33" stroke-width="2.9"/><path d="M77 204C81 204 93 205 101 206C109 207 117 208 124 209C132 211 139 214 147 217C154 219 165 223 169 224" stroke="#6ACB4A" stroke-width="1.3" transform="translate(0 -.7)"/>
<path d="M155 203C158 201 169 194 177 191C184 187 192 184 199 179C206 175 213 170 220 167C227 163 239 158 243 156" stroke="#08481a" stroke-width="4.3"/><path d="M155 203C158 201 169 194 177 191C184 187 192 184 199 179C206 175 213 170 220 167C227 163 239 158 243 156" stroke="#35AA38" stroke-width="2.9"/><path d="M155 203C158 201 169 194 177 191C184 187 192 184 199 179C206 175 213 170 220 167C227 163 239 158 243 156" stroke="#6ACB4A" stroke-width="1.3" transform="translate(0 -.7)"/>
<path d="M53 72C57 73 70 78 78 80C87 83 96 84 104 87C113 89 122 90 130 94C138 97 150 104 154 106" stroke="#08481a" stroke-width="4.1"/><path d="M53 72C57 73 70 78 78 80C87 83 96 84 104 87C113 89 122 90 130 94C138 97 150 104 154 106" stroke="#2C9C33" stroke-width="2.7"/><path d="M53 72C57 73 70 78 78 80C87 83 96 84 104 87C113 89 122 90 130 94C138 97 150 104 154 106" stroke="#6ACB4A" stroke-width="1.1" transform="translate(0 -.7)"/>
<path d="M157 102C162 103 175 109 184 112C194 115 203 118 212 122C221 126 230 131 238 136C246 141 258 150 262 153" stroke="#08481a" stroke-width="4.5"/><path d="M157 102C162 103 175 109 184 112C194 115 203 118 212 122C221 126 230 131 238 136C246 141 258 150 262 153" stroke="#35AA38" stroke-width="3.1"/><path d="M157 102C162 103 175 109 184 112C194 115 203 118 212 122C221 126 230 131 238 136C246 141 258 150 262 153" stroke="#6ACB4A" stroke-width="1.5" transform="translate(0 -.7)"/>
<path d="M118 88C122 86 133 80 140 77C147 73 155 71 162 67C168 62 174 57 180 51C186 45 194 36 196 33" stroke="#08481a" stroke-width="4.6"/><path d="M118 88C122 86 133 80 140 77C147 73 155 71 162 67C168 62 174 57 180 51C186 45 194 36 196 33" stroke="#1F8A2C" stroke-width="3.2"/><path d="M118 88C122 86 133 80 140 77C147 73 155 71 162 67C168 62 174 57 180 51C186 45 194 36 196 33" stroke="#48B03C" stroke-width="1.6" transform="translate(0 -.7)"/>
<path d="M168 143C173 145 185 153 194 157C203 162 211 167 220 172C228 176 237 180 246 185C254 190 266 199 270 202" stroke="#08481a" stroke-width="4.7"/><path d="M168 143C173 145 185 153 194 157C203 162 211 167 220 172C228 176 237 180 246 185C254 190 266 199 270 202" stroke="#35AA38" stroke-width="3.3"/><path d="M168 143C173 145 185 153 194 157C203 162 211 167 220 172C228 176 237 180 246 185C254 190 266 199 270 202" stroke="#6ACB4A" stroke-width="1.7" transform="translate(0 -.7)"/>
<path d="M152 113C155 111 165 103 172 99C179 95 186 91 193 87C200 83 207 80 215 76C222 73 232 66 235 64" stroke="#08481a" stroke-width="4.3"/><path d="M152 113C155 111 165 103 172 99C179 95 186 91 193 87C200 83 207 80 215 76C222 73 232 66 235 64" stroke="#2C9C33" stroke-width="2.9"/><path d="M152 113C155 111 165 103 172 99C179 95 186 91 193 87C200 83 207 80 215 76C222 73 232 66 235 64" stroke="#6ACB4A" stroke-width="1.3" transform="translate(0 -.7)"/>
<path d="M147 26C149 30 158 40 163 47C168 54 174 62 177 70C179 79 179 88 179 97C180 106 179 119 179 123" stroke="#08481a" stroke-width="4.5"/><path d="M147 26C149 30 158 40 163 47C168 54 174 62 177 70C179 79 179 88 179 97C180 106 179 119 179 123" stroke="#2C9C33" stroke-width="3.1"/><path d="M147 26C149 30 158 40 163 47C168 54 174 62 177 70C179 79 179 88 179 97C180 106 179 119 179 123" stroke="#6ACB4A" stroke-width="1.5" transform="translate(0 -.7)"/>
<path d="M165 178C169 173 178 156 184 146C190 135 198 125 203 114C208 102 210 90 211 78C212 65 208 47 207 41" stroke="#08481a" stroke-width="4.4"/><path d="M165 178C169 173 178 156 184 146C190 135 198 125 203 114C208 102 210 90 211 78C212 65 208 47 207 41" stroke="#2C9C33" stroke-width="3.0"/><path d="M165 178C169 173 178 156 184 146C190 135 198 125 203 114C208 102 210 90 211 78C212 65 208 47 207 41" stroke="#6ACB4A" stroke-width="1.4" transform="translate(0 -.7)"/>
<path d="M141 137C146 134 161 123 171 118C182 113 194 106 206 106C217 106 230 112 240 118C250 123 263 137 268 141" stroke="#08481a" stroke-width="4.1"/><path d="M141 137C146 134 161 123 171 118C182 113 194 106 206 106C217 106 230 112 240 118C250 123 263 137 268 141" stroke="#35AA38" stroke-width="2.7"/><path d="M141 137C146 134 161 123 171 118C182 113 194 106 206 106C217 106 230 112 240 118C250 123 263 137 268 141" stroke="#6ACB4A" stroke-width="1.1" transform="translate(0 -.7)"/>
<path d="M155 174C161 173 178 169 190 166C202 164 215 163 226 159C238 156 249 149 260 145C271 140 288 133 294 131" stroke="#08481a" stroke-width="4.3"/><path d="M155 174C161 173 178 169 190 166C202 164 215 163 226 159C238 156 249 149 260 145C271 140 288 133 294 131" stroke="#2C9C33" stroke-width="2.9"/><path d="M155 174C161 173 178 169 190 166C202 164 215 163 226 159C238 156 249 149 260 145C271 140 288 133 294 131" stroke="#6ACB4A" stroke-width="1.3" transform="translate(0 -.7)"/>
<path d="M95 216C99 215 110 210 118 208C126 205 133 202 141 200C149 198 158 198 166 197C174 197 186 198 190 198" stroke="#08481a" stroke-width="4.3"/><path d="M95 216C99 215 110 210 118 208C126 205 133 202 141 200C149 198 158 198 166 197C174 197 186 198 190 198" stroke="#2C9C33" stroke-width="2.9"/><path d="M95 216C99 215 110 210 118 208C126 205 133 202 141 200C149 198 158 198 166 197C174 197 186 198 190 198" stroke="#6ACB4A" stroke-width="1.3" transform="translate(0 -.7)"/>
<path d="M122 218C124 213 127 195 133 186C138 176 146 164 155 160C165 156 179 159 189 162C200 165 214 176 219 179" stroke="#08481a" stroke-width="4.7"/><path d="M122 218C124 213 127 195 133 186C138 176 146 164 155 160C165 156 179 159 189 162C200 165 214 176 219 179" stroke="#35AA38" stroke-width="3.3"/><path d="M122 218C124 213 127 195 133 186C138 176 146 164 155 160C165 156 179 159 189 162C200 165 214 176 219 179" stroke="#6ACB4A" stroke-width="1.7" transform="translate(0 -.7)"/>
<path d="M69 100C71 99 79 94 85 91C90 88 96 86 102 84C108 82 114 81 120 81C126 82 135 86 138 87" stroke="#08481a" stroke-width="4.8"/><path d="M69 100C71 99 79 94 85 91C90 88 96 86 102 84C108 82 114 81 120 81C126 82 135 86 138 87" stroke="#35AA38" stroke-width="3.4"/><path d="M69 100C71 99 79 94 85 91C90 88 96 86 102 84C108 82 114 81 120 81C126 82 135 86 138 87" stroke="#6ACB4A" stroke-width="1.8" transform="translate(0 -.7)"/>
<path d="M186 106C190 103 201 96 209 92C217 87 224 82 232 77C239 72 247 67 254 62C262 57 274 51 277 48" stroke="#08481a" stroke-width="4.4"/><path d="M186 106C190 103 201 96 209 92C217 87 224 82 232 77C239 72 247 67 254 62C262 57 274 51 277 48" stroke="#2C9C33" stroke-width="3.0"/><path d="M186 106C190 103 201 96 209 92C217 87 224 82 232 77C239 72 247 67 254 62C262 57 274 51 277 48" stroke="#6ACB4A" stroke-width="1.4" transform="translate(0 -.7)"/>
<path d="M111 59C115 60 128 61 136 63C145 64 154 68 162 67C171 66 179 61 186 56C193 51 202 41 205 38" stroke="#08481a" stroke-width="4.8"/><path d="M111 59C115 60 128 61 136 63C145 64 154 68 162 67C171 66 179 61 186 56C193 51 202 41 205 38" stroke="#2C9C33" stroke-width="3.4"/><path d="M111 59C115 60 128 61 136 63C145 64 154 68 162 67C171 66 179 61 186 56C193 51 202 41 205 38" stroke="#6ACB4A" stroke-width="1.8" transform="translate(0 -.7)"/>
<path d="M98 239C102 238 116 232 125 229C134 226 144 223 153 221C163 218 172 215 181 212C190 209 204 202 208 200" stroke="#08481a" stroke-width="4.5"/><path d="M98 239C102 238 116 232 125 229C134 226 144 223 153 221C163 218 172 215 181 212C190 209 204 202 208 200" stroke="#2C9C33" stroke-width="3.1"/><path d="M98 239C102 238 116 232 125 229C134 226 144 223 153 221C163 218 172 215 181 212C190 209 204 202 208 200" stroke="#6ACB4A" stroke-width="1.5" transform="translate(0 -.7)"/>
<path d="M149 125C154 127 170 134 180 140C190 145 199 152 209 158C219 163 229 170 240 174C250 177 268 179 274 180" stroke="#08481a" stroke-width="4.5"/><path d="M149 125C154 127 170 134 180 140C190 145 199 152 209 158C219 163 229 170 240 174C250 177 268 179 274 180" stroke="#35AA38" stroke-width="3.1"/><path d="M149 125C154 127 170 134 180 140C190 145 199 152 209 158C219 163 229 170 240 174C250 177 268 179 274 180" stroke="#6ACB4A" stroke-width="1.5" transform="translate(0 -.7)"/>
<path d="M77 194C82 194 95 194 103 195C112 195 121 195 130 196C139 196 147 197 156 198C165 199 178 201 182 202" stroke="#08481a" stroke-width="4.3"/><path d="M77 194C82 194 95 194 103 195C112 195 121 195 130 196C139 196 147 197 156 198C165 199 178 201 182 202" stroke="#2C9C33" stroke-width="2.9"/><path d="M77 194C82 194 95 194 103 195C112 195 121 195 130 196C139 196 147 197 156 198C165 199 178 201 182 202" stroke="#6ACB4A" stroke-width="1.3" transform="translate(0 -.7)"/>
<path d="M135 166C140 168 154 176 163 179C173 183 184 185 194 187C204 190 214 192 224 196C233 201 246 210 250 213" stroke="#08481a" stroke-width="4.5"/><path d="M135 166C140 168 154 176 163 179C173 183 184 185 194 187C204 190 214 192 224 196C233 201 246 210 250 213" stroke="#35AA38" stroke-width="3.1"/><path d="M135 166C140 168 154 176 163 179C173 183 184 185 194 187C204 190 214 192 224 196C233 201 246 210 250 213" stroke="#6ACB4A" stroke-width="1.5" transform="translate(0 -.7)"/>
<path d="M142 117C146 120 158 130 165 137C173 143 180 152 189 156C198 160 210 160 220 160C230 160 245 156 250 156" stroke="#08481a" stroke-width="4.2"/><path d="M142 117C146 120 158 130 165 137C173 143 180 152 189 156C198 160 210 160 220 160C230 160 245 156 250 156" stroke="#2C9C33" stroke-width="2.8"/><path d="M142 117C146 120 158 130 165 137C173 143 180 152 189 156C198 160 210 160 220 160C230 160 245 156 250 156" stroke="#6ACB4A" stroke-width="1.2" transform="translate(0 -.7)"/>
<path d="M158 71C161 74 170 84 177 91C184 97 190 104 198 109C205 115 212 120 220 126C227 131 239 139 243 141" stroke="#08481a" stroke-width="4.6"/><path d="M158 71C161 74 170 84 177 91C184 97 190 104 198 109C205 115 212 120 220 126C227 131 239 139 243 141" stroke="#1F8A2C" stroke-width="3.2"/><path d="M158 71C161 74 170 84 177 91C184 97 190 104 198 109C205 115 212 120 220 126C227 131 239 139 243 141" stroke="#48B03C" stroke-width="1.6" transform="translate(0 -.7)"/>
<path d="M35 122C39 125 51 133 59 137C67 141 77 142 85 147C93 151 101 157 107 164C114 170 122 182 124 186" stroke="#08481a" stroke-width="4.8"/><path d="M35 122C39 125 51 133 59 137C67 141 77 142 85 147C93 151 101 157 107 164C114 170 122 182 124 186" stroke="#1F8A2C" stroke-width="3.4"/><path d="M35 122C39 125 51 133 59 137C67 141 77 142 85 147C93 151 101 157 107 164C114 170 122 182 124 186" stroke="#48B03C" stroke-width="1.8" transform="translate(0 -.7)"/>
<path d="M128 113C131 114 139 117 145 117C152 118 158 118 164 118C170 117 176 114 181 112C187 109 195 105 198 103" stroke="#08481a" stroke-width="4.1"/><path d="M128 113C131 114 139 117 145 117C152 118 158 118 164 118C170 117 176 114 181 112C187 109 195 105 198 103" stroke="#1F8A2C" stroke-width="2.7"/><path d="M128 113C131 114 139 117 145 117C152 118 158 118 164 118C170 117 176 114 181 112C187 109 195 105 198 103" stroke="#48B03C" stroke-width="1.1" transform="translate(0 -.7)"/>
<path d="M190 111C192 109 196 102 199 98C203 94 206 90 210 86C213 81 216 77 220 73C223 69 230 64 232 62" stroke="#08481a" stroke-width="4.4"/><path d="M190 111C192 109 196 102 199 98C203 94 206 90 210 86C213 81 216 77 220 73C223 69 230 64 232 62" stroke="#1F8A2C" stroke-width="3.0"/><path d="M190 111C192 109 196 102 199 98C203 94 206 90 210 86C213 81 216 77 220 73C223 69 230 64 232 62" stroke="#48B03C" stroke-width="1.4" transform="translate(0 -.7)"/>
<path d="M68 199C73 197 90 191 100 188C111 184 123 182 133 177C144 173 154 167 164 161C173 155 187 144 191 141" stroke="#08481a" stroke-width="4.7"/><path d="M68 199C73 197 90 191 100 188C111 184 123 182 133 177C144 173 154 167 164 161C173 155 187 144 191 141" stroke="#2C9C33" stroke-width="3.3"/><path d="M68 199C73 197 90 191 100 188C111 184 123 182 133 177C144 173 154 167 164 161C173 155 187 144 191 141" stroke="#6ACB4A" stroke-width="1.7" transform="translate(0 -.7)"/>
<path d="M150 168C154 168 165 168 173 166C181 164 188 161 196 158C203 156 211 153 218 152C226 150 238 149 242 149" stroke="#08481a" stroke-width="4.6"/><path d="M150 168C154 168 165 168 173 166C181 164 188 161 196 158C203 156 211 153 218 152C226 150 238 149 242 149" stroke="#35AA38" stroke-width="3.2"/><path d="M150 168C154 168 165 168 173 166C181 164 188 161 196 158C203 156 211 153 218 152C226 150 238 149 242 149" stroke="#6ACB4A" stroke-width="1.6" transform="translate(0 -.7)"/>
<path d="M88 125C92 128 105 134 113 138C121 143 131 147 137 154C143 161 148 170 151 179C154 188 155 202 155 207" stroke="#08481a" stroke-width="4.5"/><path d="M88 125C92 128 105 134 113 138C121 143 131 147 137 154C143 161 148 170 151 179C154 188 155 202 155 207" stroke="#1F8A2C" stroke-width="3.1"/><path d="M88 125C92 128 105 134 113 138C121 143 131 147 137 154C143 161 148 170 151 179C154 188 155 202 155 207" stroke="#48B03C" stroke-width="1.5" transform="translate(0 -.7)"/>
<path d="M170 90C174 90 188 91 198 91C207 92 217 92 226 93C235 95 245 97 254 99C263 101 276 106 281 108" stroke="#08481a" stroke-width="4.8"/><path d="M170 90C174 90 188 91 198 91C207 92 217 92 226 93C235 95 245 97 254 99C263 101 276 106 281 108" stroke="#2C9C33" stroke-width="3.4"/><path d="M170 90C174 90 188 91 198 91C207 92 217 92 226 93C235 95 245 97 254 99C263 101 276 106 281 108" stroke="#6ACB4A" stroke-width="1.8" transform="translate(0 -.7)"/>
<path d="M61 171C67 173 83 181 94 185C105 190 115 195 126 200C137 205 147 211 158 216C169 220 187 223 193 225" stroke="#08481a" stroke-width="4.2"/><path d="M61 171C67 173 83 181 94 185C105 190 115 195 126 200C137 205 147 211 158 216C169 220 187 223 193 225" stroke="#35AA38" stroke-width="2.8"/><path d="M61 171C67 173 83 181 94 185C105 190 115 195 126 200C137 205 147 211 158 216C169 220 187 223 193 225" stroke="#6ACB4A" stroke-width="1.2" transform="translate(0 -.7)"/>
<path d="M171 155C173 153 181 146 186 141C191 137 197 132 202 127C207 123 211 117 215 112C219 106 226 98 228 95" stroke="#08481a" stroke-width="4.5"/><path d="M171 155C173 153 181 146 186 141C191 137 197 132 202 127C207 123 211 117 215 112C219 106 226 98 228 95" stroke="#1F8A2C" stroke-width="3.1"/><path d="M171 155C173 153 181 146 186 141C191 137 197 132 202 127C207 123 211 117 215 112C219 106 226 98 228 95" stroke="#48B03C" stroke-width="1.5" transform="translate(0 -.7)"/>
<path d="M185 150C190 149 204 145 213 143C222 141 231 140 241 138C250 136 259 134 268 133C278 132 292 131 296 131" stroke="#08481a" stroke-width="4.5"/><path d="M185 150C190 149 204 145 213 143C222 141 231 140 241 138C250 136 259 134 268 133C278 132 292 131 296 131" stroke="#2C9C33" stroke-width="3.1"/><path d="M185 150C190 149 204 145 213 143C222 141 231 140 241 138C250 136 259 134 268 133C278 132 292 131 296 131" stroke="#6ACB4A" stroke-width="1.5" transform="translate(0 -.7)"/>
<path d="M81 52C86 53 102 60 112 61C123 62 134 60 145 60C156 60 167 61 178 62C188 64 204 68 210 69" stroke="#08481a" stroke-width="4.8"/><path d="M81 52C86 53 102 60 112 61C123 62 134 60 145 60C156 60 167 61 178 62C188 64 204 68 210 69" stroke="#2C9C33" stroke-width="3.4"/><path d="M81 52C86 53 102 60 112 61C123 62 134 60 145 60C156 60 167 61 178 62C188 64 204 68 210 69" stroke="#6ACB4A" stroke-width="1.8" transform="translate(0 -.7)"/>
<path d="M114 117C120 115 136 106 147 101C158 97 169 91 181 89C193 87 205 89 217 88C229 88 248 88 254 88" stroke="#08481a" stroke-width="4.2"/><path d="M114 117C120 115 136 106 147 101C158 97 169 91 181 89C193 87 205 89 217 88C229 88 248 88 254 88" stroke="#2C9C33" stroke-width="2.8"/><path d="M114 117C120 115 136 106 147 101C158 97 169 91 181 89C193 87 205 89 217 88C229 88 248 88 254 88" stroke="#6ACB4A" stroke-width="1.2" transform="translate(0 -.7)"/>
<path d="M150 189C152 190 160 193 165 196C170 198 174 202 179 204C184 206 190 207 195 208C201 209 209 208 212 208" stroke="#08481a" stroke-width="4.5"/><path d="M150 189C152 190 160 193 165 196C170 198 174 202 179 204C184 206 190 207 195 208C201 209 209 208 212 208" stroke="#35AA38" stroke-width="3.1"/><path d="M150 189C152 190 160 193 165 196C170 198 174 202 179 204C184 206 190 207 195 208C201 209 209 208 212 208" stroke="#6ACB4A" stroke-width="1.5" transform="translate(0 -.7)"/>
<path d="M122 94C125 97 132 104 136 109C141 114 144 120 149 124C153 129 159 133 164 137C170 140 179 145 182 146" stroke="#08481a" stroke-width="4.8"/><path d="M122 94C125 97 132 104 136 109C141 114 144 120 149 124C153 129 159 133 164 137C170 140 179 145 182 146" stroke="#2C9C33" stroke-width="3.4"/><path d="M122 94C125 97 132 104 136 109C141 114 144 120 149 124C153 129 159 133 164 137C170 140 179 145 182 146" stroke="#6ACB4A" stroke-width="1.8" transform="translate(0 -.7)"/>
<path d="M186 172C189 173 198 174 204 174C210 174 216 173 222 173C228 173 234 174 240 174C246 173 255 171 258 170" stroke="#08481a" stroke-width="4.7"/><path d="M186 172C189 173 198 174 204 174C210 174 216 173 222 173C228 173 234 174 240 174C246 173 255 171 258 170" stroke="#2C9C33" stroke-width="3.3"/><path d="M186 172C189 173 198 174 204 174C210 174 216 173 222 173C228 173 234 174 240 174C246 173 255 171 258 170" stroke="#6ACB4A" stroke-width="1.7" transform="translate(0 -.7)"/>
<path d="M96 100C100 99 109 95 116 94C122 92 129 90 136 88C142 87 149 86 156 85C162 84 173 84 176 84" stroke="#08481a" stroke-width="4.0"/><path d="M96 100C100 99 109 95 116 94C122 92 129 90 136 88C142 87 149 86 156 85C162 84 173 84 176 84" stroke="#1F8A2C" stroke-width="2.6"/><path d="M96 100C100 99 109 95 116 94C122 92 129 90 136 88C142 87 149 86 156 85C162 84 173 84 176 84" stroke="#48B03C" stroke-width="1.0" transform="translate(0 -.7)"/>
<path d="M51 96C55 98 66 107 75 112C83 117 92 121 101 124C110 127 120 127 130 128C140 128 154 127 159 126" stroke="#08481a" stroke-width="4.1"/><path d="M51 96C55 98 66 107 75 112C83 117 92 121 101 124C110 127 120 127 130 128C140 128 154 127 159 126" stroke="#2C9C33" stroke-width="2.7"/><path d="M51 96C55 98 66 107 75 112C83 117 92 121 101 124C110 127 120 127 130 128C140 128 154 127 159 126" stroke="#6ACB4A" stroke-width="1.1" transform="translate(0 -.7)"/>
<path d="M140 97C144 95 153 87 159 82C165 77 172 71 178 67C185 63 193 60 200 57C208 54 220 50 223 49" stroke="#08481a" stroke-width="4.8"/><path d="M140 97C144 95 153 87 159 82C165 77 172 71 178 67C185 63 193 60 200 57C208 54 220 50 223 49" stroke="#2C9C33" stroke-width="3.4"/><path d="M140 97C144 95 153 87 159 82C165 77 172 71 178 67C185 63 193 60 200 57C208 54 220 50 223 49" stroke="#6ACB4A" stroke-width="1.8" transform="translate(0 -.7)"/>
<path d="M192 158C196 159 208 163 217 165C225 166 234 166 242 166C251 166 260 165 268 164C277 164 289 163 294 162" stroke="#08481a" stroke-width="4.1"/><path d="M192 158C196 159 208 163 217 165C225 166 234 166 242 166C251 166 260 165 268 164C277 164 289 163 294 162" stroke="#2C9C33" stroke-width="2.7"/><path d="M192 158C196 159 208 163 217 165C225 166 234 166 242 166C251 166 260 165 268 164C277 164 289 163 294 162" stroke="#6ACB4A" stroke-width="1.1" transform="translate(0 -.7)"/>
<path d="M191 158C192 153 196 137 200 126C203 116 207 106 211 95C214 85 217 74 220 63C223 53 228 37 230 32" stroke="#08481a" stroke-width="4.2"/><path d="M191 158C192 153 196 137 200 126C203 116 207 106 211 95C214 85 217 74 220 63C223 53 228 37 230 32" stroke="#2C9C33" stroke-width="2.8"/><path d="M191 158C192 153 196 137 200 126C203 116 207 106 211 95C214 85 217 74 220 63C223 53 228 37 230 32" stroke="#6ACB4A" stroke-width="1.2" transform="translate(0 -.7)"/>
<path d="M143 61C147 61 156 64 162 65C169 66 176 67 182 66C188 65 194 62 200 59C205 55 212 48 214 46" stroke="#08481a" stroke-width="4.2"/><path d="M143 61C147 61 156 64 162 65C169 66 176 67 182 66C188 65 194 62 200 59C205 55 212 48 214 46" stroke="#35AA38" stroke-width="2.8"/><path d="M143 61C147 61 156 64 162 65C169 66 176 67 182 66C188 65 194 62 200 59C205 55 212 48 214 46" stroke="#6ACB4A" stroke-width="1.2" transform="translate(0 -.7)"/>
<path d="M144 193C150 193 165 193 176 192C186 192 197 193 207 193C218 192 228 190 239 190C249 190 265 192 270 192" stroke="#08481a" stroke-width="4.8"/><path d="M144 193C150 193 165 193 176 192C186 192 197 193 207 193C218 192 228 190 239 190C249 190 265 192 270 192" stroke="#1F8A2C" stroke-width="3.4"/><path d="M144 193C150 193 165 193 176 192C186 192 197 193 207 193C218 192 228 190 239 190C249 190 265 192 270 192" stroke="#48B03C" stroke-width="1.8" transform="translate(0 -.7)"/>
<path d="M213 150C216 148 224 144 229 140C235 137 240 133 245 130C251 126 256 122 261 119C267 116 276 113 279 112" stroke="#08481a" stroke-width="4.4"/><path d="M213 150C216 148 224 144 229 140C235 137 240 133 245 130C251 126 256 122 261 119C267 116 276 113 279 112" stroke="#2C9C33" stroke-width="3.0"/><path d="M213 150C216 148 224 144 229 140C235 137 240 133 245 130C251 126 256 122 261 119C267 116 276 113 279 112" stroke="#6ACB4A" stroke-width="1.4" transform="translate(0 -.7)"/>
<path d="M79 134C80 138 84 148 88 155C91 161 94 168 98 174C101 181 106 187 111 192C115 198 122 207 125 209" stroke="#08481a" stroke-width="4.9"/><path d="M79 134C80 138 84 148 88 155C91 161 94 168 98 174C101 181 106 187 111 192C115 198 122 207 125 209" stroke="#2C9C33" stroke-width="3.5"/><path d="M79 134C80 138 84 148 88 155C91 161 94 168 98 174C101 181 106 187 111 192C115 198 122 207 125 209" stroke="#6ACB4A" stroke-width="1.9" transform="translate(0 -.7)"/>
<path d="M139 115C142 117 150 123 155 128C160 132 166 135 171 140C176 144 181 148 186 153C191 158 197 166 199 168" stroke="#08481a" stroke-width="4.1"/><path d="M139 115C142 117 150 123 155 128C160 132 166 135 171 140C176 144 181 148 186 153C191 158 197 166 199 168" stroke="#35AA38" stroke-width="2.7"/><path d="M139 115C142 117 150 123 155 128C160 132 166 135 171 140C176 144 181 148 186 153C191 158 197 166 199 168" stroke="#6ACB4A" stroke-width="1.1" transform="translate(0 -.7)"/>
<path d="M120 167C126 165 143 160 154 157C165 154 176 151 187 148C198 146 210 144 221 140C232 137 248 130 253 128" stroke="#08481a" stroke-width="4.3"/><path d="M120 167C126 165 143 160 154 157C165 154 176 151 187 148C198 146 210 144 221 140C232 137 248 130 253 128" stroke="#2C9C33" stroke-width="2.9"/><path d="M120 167C126 165 143 160 154 157C165 154 176 151 187 148C198 146 210 144 221 140C232 137 248 130 253 128" stroke="#6ACB4A" stroke-width="1.3" transform="translate(0 -.7)"/>
<path d="M96 55C101 56 114 59 123 61C132 63 142 65 151 66C160 66 169 65 179 63C188 62 201 58 206 57" stroke="#08481a" stroke-width="4.4"/><path d="M96 55C101 56 114 59 123 61C132 63 142 65 151 66C160 66 169 65 179 63C188 62 201 58 206 57" stroke="#35AA38" stroke-width="3.0"/><path d="M96 55C101 56 114 59 123 61C132 63 142 65 151 66C160 66 169 65 179 63C188 62 201 58 206 57" stroke="#6ACB4A" stroke-width="1.4" transform="translate(0 -.7)"/>
<path d="M144 80C146 83 153 92 158 98C163 104 168 109 173 114C179 120 183 126 189 131C195 136 204 142 207 144" stroke="#08481a" stroke-width="4.8"/><path d="M144 80C146 83 153 92 158 98C163 104 168 109 173 114C179 120 183 126 189 131C195 136 204 142 207 144" stroke="#2C9C33" stroke-width="3.4"/><path d="M144 80C146 83 153 92 158 98C163 104 168 109 173 114C179 120 183 126 189 131C195 136 204 142 207 144" stroke="#6ACB4A" stroke-width="1.8" transform="translate(0 -.7)"/>
<path d="M128 242C132 240 143 236 150 232C158 228 166 225 172 220C178 215 182 207 186 200C190 193 193 181 195 177" stroke="#08481a" stroke-width="4.5"/><path d="M128 242C132 240 143 236 150 232C158 228 166 225 172 220C178 215 182 207 186 200C190 193 193 181 195 177" stroke="#2C9C33" stroke-width="3.1"/><path d="M128 242C132 240 143 236 150 232C158 228 166 225 172 220C178 215 182 207 186 200C190 193 193 181 195 177" stroke="#6ACB4A" stroke-width="1.5" transform="translate(0 -.7)"/>
<path d="M178 165C179 167 182 174 185 179C187 184 190 188 193 192C197 196 200 200 204 204C208 208 214 212 216 214" stroke="#08481a" stroke-width="4.2"/><path d="M178 165C179 167 182 174 185 179C187 184 190 188 193 192C197 196 200 200 204 204C208 208 214 212 216 214" stroke="#2C9C33" stroke-width="2.8"/><path d="M178 165C179 167 182 174 185 179C187 184 190 188 193 192C197 196 200 200 204 204C208 208 214 212 216 214" stroke="#6ACB4A" stroke-width="1.2" transform="translate(0 -.7)"/>
<path d="M115 234C118 233 129 229 136 226C142 224 149 221 156 219C163 216 170 214 176 211C183 207 191 200 194 198" stroke="#08481a" stroke-width="4.5"/><path d="M115 234C118 233 129 229 136 226C142 224 149 221 156 219C163 216 170 214 176 211C183 207 191 200 194 198" stroke="#2C9C33" stroke-width="3.1"/><path d="M115 234C118 233 129 229 136 226C142 224 149 221 156 219C163 216 170 214 176 211C183 207 191 200 194 198" stroke="#6ACB4A" stroke-width="1.5" transform="translate(0 -.7)"/>
<path d="M89 117C92 117 103 116 109 116C116 115 124 115 130 116C136 118 142 123 148 127C153 131 159 140 161 142" stroke="#08481a" stroke-width="4.6"/><path d="M89 117C92 117 103 116 109 116C116 115 124 115 130 116C136 118 142 123 148 127C153 131 159 140 161 142" stroke="#2C9C33" stroke-width="3.2"/><path d="M89 117C92 117 103 116 109 116C116 115 124 115 130 116C136 118 142 123 148 127C153 131 159 140 161 142" stroke="#6ACB4A" stroke-width="1.6" transform="translate(0 -.7)"/>
<path d="M135 164C138 164 149 162 156 161C163 159 170 157 177 155C185 154 192 153 199 151C206 150 217 147 220 146" stroke="#08481a" stroke-width="4.8"/><path d="M135 164C138 164 149 162 156 161C163 159 170 157 177 155C185 154 192 153 199 151C206 150 217 147 220 146" stroke="#2C9C33" stroke-width="3.4"/><path d="M135 164C138 164 149 162 156 161C163 159 170 157 177 155C185 154 192 153 199 151C206 150 217 147 220 146" stroke="#6ACB4A" stroke-width="1.8" transform="translate(0 -.7)"/>
<path d="M105 126C111 127 130 129 142 130C154 132 167 132 179 132C191 132 204 132 216 130C229 129 247 126 253 125" stroke="#08481a" stroke-width="4.3"/><path d="M105 126C111 127 130 129 142 130C154 132 167 132 179 132C191 132 204 132 216 130C229 129 247 126 253 125" stroke="#2C9C33" stroke-width="2.9"/><path d="M105 126C111 127 130 129 142 130C154 132 167 132 179 132C191 132 204 132 216 130C229 129 247 126 253 125" stroke="#6ACB4A" stroke-width="1.3" transform="translate(0 -.7)"/>
<path d="M140 63C146 63 164 60 176 60C188 59 200 61 213 61C225 60 237 58 249 57C261 55 279 52 285 51" stroke="#08481a" stroke-width="4.7"/><path d="M140 63C146 63 164 60 176 60C188 59 200 61 213 61C225 60 237 58 249 57C261 55 279 52 285 51" stroke="#2C9C33" stroke-width="3.3"/><path d="M140 63C146 63 164 60 176 60C188 59 200 61 213 61C225 60 237 58 249 57C261 55 279 52 285 51" stroke="#6ACB4A" stroke-width="1.7" transform="translate(0 -.7)"/>
<path d="M149 193C155 192 170 187 181 185C192 183 203 183 213 180C223 177 235 173 243 166C251 160 260 145 263 141" stroke="#08481a" stroke-width="4.7"/><path d="M149 193C155 192 170 187 181 185C192 183 203 183 213 180C223 177 235 173 243 166C251 160 260 145 263 141" stroke="#2C9C33" stroke-width="3.3"/><path d="M149 193C155 192 170 187 181 185C192 183 203 183 213 180C223 177 235 173 243 166C251 160 260 145 263 141" stroke="#6ACB4A" stroke-width="1.7" transform="translate(0 -.7)"/>
<path d="M114 264C119 261 132 250 141 243C150 235 158 227 168 221C178 215 189 212 200 209C211 205 229 203 234 201" stroke="#08481a" stroke-width="4.3"/><path d="M114 264C119 261 132 250 141 243C150 235 158 227 168 221C178 215 189 212 200 209C211 205 229 203 234 201" stroke="#2C9C33" stroke-width="2.9"/><path d="M114 264C119 261 132 250 141 243C150 235 158 227 168 221C178 215 189 212 200 209C211 205 229 203 234 201" stroke="#6ACB4A" stroke-width="1.3" transform="translate(0 -.7)"/>
<path d="M127 106C131 107 144 109 153 110C161 111 171 114 179 112C187 111 196 106 202 101C209 95 216 83 219 80" stroke="#08481a" stroke-width="4.5"/><path d="M127 106C131 107 144 109 153 110C161 111 171 114 179 112C187 111 196 106 202 101C209 95 216 83 219 80" stroke="#2C9C33" stroke-width="3.1"/><path d="M127 106C131 107 144 109 153 110C161 111 171 114 179 112C187 111 196 106 202 101C209 95 216 83 219 80" stroke="#6ACB4A" stroke-width="1.5" transform="translate(0 -.7)"/>
<path d="M201 44C205 49 217 63 225 72C232 81 240 91 247 101C254 111 260 122 266 132C271 143 279 160 282 165" stroke="#08481a" stroke-width="4.8"/><path d="M201 44C205 49 217 63 225 72C232 81 240 91 247 101C254 111 260 122 266 132C271 143 279 160 282 165" stroke="#35AA38" stroke-width="3.4"/><path d="M201 44C205 49 217 63 225 72C232 81 240 91 247 101C254 111 260 122 266 132C271 143 279 160 282 165" stroke="#6ACB4A" stroke-width="1.8" transform="translate(0 -.7)"/>
<path d="M124 134C128 134 140 136 148 136C156 137 164 138 172 137C179 136 187 133 194 129C201 126 210 117 213 115" stroke="#08481a" stroke-width="4.3"/><path d="M124 134C128 134 140 136 148 136C156 137 164 138 172 137C179 136 187 133 194 129C201 126 210 117 213 115" stroke="#2C9C33" stroke-width="2.9"/><path d="M124 134C128 134 140 136 148 136C156 137 164 138 172 137C179 136 187 133 194 129C201 126 210 117 213 115" stroke="#6ACB4A" stroke-width="1.3" transform="translate(0 -.7)"/>
<path d="M163 99C164 103 167 116 170 124C173 132 176 140 180 148C184 156 188 163 192 171C196 179 201 190 203 194" stroke="#08481a" stroke-width="4.7"/><path d="M163 99C164 103 167 116 170 124C173 132 176 140 180 148C184 156 188 163 192 171C196 179 201 190 203 194" stroke="#2C9C33" stroke-width="3.3"/><path d="M163 99C164 103 167 116 170 124C173 132 176 140 180 148C184 156 188 163 192 171C196 179 201 190 203 194" stroke="#6ACB4A" stroke-width="1.7" transform="translate(0 -.7)"/>
<path d="M167 113C172 115 187 122 198 126C208 130 219 134 229 136C240 139 251 142 262 143C273 144 290 141 296 141" stroke="#08481a" stroke-width="4.5"/><path d="M167 113C172 115 187 122 198 126C208 130 219 134 229 136C240 139 251 142 262 143C273 144 290 141 296 141" stroke="#2C9C33" stroke-width="3.1"/><path d="M167 113C172 115 187 122 198 126C208 130 219 134 229 136C240 139 251 142 262 143C273 144 290 141 296 141" stroke="#6ACB4A" stroke-width="1.5" transform="translate(0 -.7)"/>
<path d="M39 96C44 94 62 88 74 84C86 80 99 79 110 74C122 70 133 64 144 58C155 52 170 41 175 37" stroke="#08481a" stroke-width="4.6"/><path d="M39 96C44 94 62 88 74 84C86 80 99 79 110 74C122 70 133 64 144 58C155 52 170 41 175 37" stroke="#2C9C33" stroke-width="3.2"/><path d="M39 96C44 94 62 88 74 84C86 80 99 79 110 74C122 70 133 64 144 58C155 52 170 41 175 37" stroke="#6ACB4A" stroke-width="1.6" transform="translate(0 -.7)"/>
<path d="M83 218C87 216 99 211 108 208C116 205 124 202 132 198C140 195 148 193 156 189C164 185 175 178 179 175" stroke="#08481a" stroke-width="4.5"/><path d="M83 218C87 216 99 211 108 208C116 205 124 202 132 198C140 195 148 193 156 189C164 185 175 178 179 175" stroke="#2C9C33" stroke-width="3.1"/><path d="M83 218C87 216 99 211 108 208C116 205 124 202 132 198C140 195 148 193 156 189C164 185 175 178 179 175" stroke="#6ACB4A" stroke-width="1.5" transform="translate(0 -.7)"/>
<path d="M142 195C145 195 152 195 157 195C163 195 168 195 173 195C178 194 183 194 188 193C193 192 200 189 203 189" stroke="#08481a" stroke-width="4.2"/><path d="M142 195C145 195 152 195 157 195C163 195 168 195 173 195C178 194 183 194 188 193C193 192 200 189 203 189" stroke="#2C9C33" stroke-width="2.8"/><path d="M142 195C145 195 152 195 157 195C163 195 168 195 173 195C178 194 183 194 188 193C193 192 200 189 203 189" stroke="#6ACB4A" stroke-width="1.2" transform="translate(0 -.7)"/>
<path d="M216 166C218 165 225 160 230 158C235 155 239 151 244 149C249 148 255 147 260 146C265 145 273 144 276 143" stroke="#08481a" stroke-width="4.2"/><path d="M216 166C218 165 225 160 230 158C235 155 239 151 244 149C249 148 255 147 260 146C265 145 273 144 276 143" stroke="#2C9C33" stroke-width="2.8"/><path d="M216 166C218 165 225 160 230 158C235 155 239 151 244 149C249 148 255 147 260 146C265 145 273 144 276 143" stroke="#6ACB4A" stroke-width="1.2" transform="translate(0 -.7)"/>
<path d="M86 240C90 237 102 229 110 224C118 219 125 213 134 209C143 205 152 202 161 202C171 201 185 203 190 203" stroke="#08481a" stroke-width="4.3"/><path d="M86 240C90 237 102 229 110 224C118 219 125 213 134 209C143 205 152 202 161 202C171 201 185 203 190 203" stroke="#1F8A2C" stroke-width="2.9"/><path d="M86 240C90 237 102 229 110 224C118 219 125 213 134 209C143 205 152 202 161 202C171 201 185 203 190 203" stroke="#48B03C" stroke-width="1.3" transform="translate(0 -.7)"/>
<path d="M129 197C132 196 141 195 147 194C153 193 160 191 166 189C172 187 178 185 183 183C189 181 198 177 201 176" stroke="#08481a" stroke-width="4.3"/><path d="M129 197C132 196 141 195 147 194C153 193 160 191 166 189C172 187 178 185 183 183C189 181 198 177 201 176" stroke="#2C9C33" stroke-width="2.9"/><path d="M129 197C132 196 141 195 147 194C153 193 160 191 166 189C172 187 178 185 183 183C189 181 198 177 201 176" stroke="#6ACB4A" stroke-width="1.3" transform="translate(0 -.7)"/>
<path d="M192 98C195 99 204 102 210 103C217 104 223 105 229 106C236 107 242 108 248 109C255 110 264 113 267 114" stroke="#08481a" stroke-width="4.1"/><path d="M192 98C195 99 204 102 210 103C217 104 223 105 229 106C236 107 242 108 248 109C255 110 264 113 267 114" stroke="#2C9C33" stroke-width="2.7"/><path d="M192 98C195 99 204 102 210 103C217 104 223 105 229 106C236 107 242 108 248 109C255 110 264 113 267 114" stroke="#6ACB4A" stroke-width="1.1" transform="translate(0 -.7)"/>
<path d="M141 240C142 236 145 225 148 218C151 211 153 203 158 197C163 192 170 188 177 184C184 181 195 178 198 176" stroke="#08481a" stroke-width="4.5"/><path d="M141 240C142 236 145 225 148 218C151 211 153 203 158 197C163 192 170 188 177 184C184 181 195 178 198 176" stroke="#2C9C33" stroke-width="3.1"/><path d="M141 240C142 236 145 225 148 218C151 211 153 203 158 197C163 192 170 188 177 184C184 181 195 178 198 176" stroke="#6ACB4A" stroke-width="1.5" transform="translate(0 -.7)"/>
<path d="M100 102C105 99 120 89 130 83C140 77 151 72 160 65C168 57 176 47 183 38C189 28 197 12 200 7" stroke="#08481a" stroke-width="4.5"/><path d="M100 102C105 99 120 89 130 83C140 77 151 72 160 65C168 57 176 47 183 38C189 28 197 12 200 7" stroke="#2C9C33" stroke-width="3.1"/><path d="M100 102C105 99 120 89 130 83C140 77 151 72 160 65C168 57 176 47 183 38C189 28 197 12 200 7" stroke="#6ACB4A" stroke-width="1.5" transform="translate(0 -.7)"/>
<path d="M67 198C72 197 87 193 96 191C106 189 116 188 126 185C135 182 144 178 153 173C162 168 173 159 177 156" stroke="#08481a" stroke-width="4.6"/><path d="M67 198C72 197 87 193 96 191C106 189 116 188 126 185C135 182 144 178 153 173C162 168 173 159 177 156" stroke="#2C9C33" stroke-width="3.2"/><path d="M67 198C72 197 87 193 96 191C106 189 116 188 126 185C135 182 144 178 153 173C162 168 173 159 177 156" stroke="#6ACB4A" stroke-width="1.6" transform="translate(0 -.7)"/>
<path d="M141 125C144 124 153 118 160 115C166 113 173 109 180 108C187 106 195 106 202 106C209 107 220 109 223 109" stroke="#08481a" stroke-width="4.8"/><path d="M141 125C144 124 153 118 160 115C166 113 173 109 180 108C187 106 195 106 202 106C209 107 220 109 223 109" stroke="#35AA38" stroke-width="3.4"/><path d="M141 125C144 124 153 118 160 115C166 113 173 109 180 108C187 106 195 106 202 106C209 107 220 109 223 109" stroke="#6ACB4A" stroke-width="1.8" transform="translate(0 -.7)"/>
<path d="M43 71C47 73 61 79 71 83C80 86 90 90 100 92C110 94 120 93 130 92C140 91 155 87 160 86" stroke="#08481a" stroke-width="4.3"/><path d="M43 71C47 73 61 79 71 83C80 86 90 90 100 92C110 94 120 93 130 92C140 91 155 87 160 86" stroke="#35AA38" stroke-width="2.9"/><path d="M43 71C47 73 61 79 71 83C80 86 90 90 100 92C110 94 120 93 130 92C140 91 155 87 160 86" stroke="#6ACB4A" stroke-width="1.3" transform="translate(0 -.7)"/>
<path d="M87 78C89 79 95 84 99 88C103 91 108 94 112 97C117 100 122 102 126 104C131 106 139 108 141 109" stroke="#08481a" stroke-width="4.4"/><path d="M87 78C89 79 95 84 99 88C103 91 108 94 112 97C117 100 122 102 126 104C131 106 139 108 141 109" stroke="#35AA38" stroke-width="3.0"/><path d="M87 78C89 79 95 84 99 88C103 91 108 94 112 97C117 100 122 102 126 104C131 106 139 108 141 109" stroke="#6ACB4A" stroke-width="1.4" transform="translate(0 -.7)"/>
<path d="M200 191C202 191 210 190 215 189C221 188 226 187 231 186C236 185 241 183 247 183C252 183 260 184 263 184" stroke="#08481a" stroke-width="4.8"/><path d="M200 191C202 191 210 190 215 189C221 188 226 187 231 186C236 185 241 183 247 183C252 183 260 184 263 184" stroke="#35AA38" stroke-width="3.4"/><path d="M200 191C202 191 210 190 215 189C221 188 226 187 231 186C236 185 241 183 247 183C252 183 260 184 263 184" stroke="#6ACB4A" stroke-width="1.8" transform="translate(0 -.7)"/>
<path d="M28 179C33 179 49 178 60 176C70 175 81 173 91 171C101 168 112 164 122 163C132 162 149 164 154 164" stroke="#08481a" stroke-width="4.7"/><path d="M28 179C33 179 49 178 60 176C70 175 81 173 91 171C101 168 112 164 122 163C132 162 149 164 154 164" stroke="#35AA38" stroke-width="3.3"/><path d="M28 179C33 179 49 178 60 176C70 175 81 173 91 171C101 168 112 164 122 163C132 162 149 164 154 164" stroke="#6ACB4A" stroke-width="1.7" transform="translate(0 -.7)"/>
<path d="M132 124C137 125 152 129 162 129C172 129 183 128 192 125C202 122 211 116 220 111C228 105 239 94 243 91" stroke="#08481a" stroke-width="4.7"/><path d="M132 124C137 125 152 129 162 129C172 129 183 128 192 125C202 122 211 116 220 111C228 105 239 94 243 91" stroke="#2C9C33" stroke-width="3.3"/><path d="M132 124C137 125 152 129 162 129C172 129 183 128 192 125C202 122 211 116 220 111C228 105 239 94 243 91" stroke="#6ACB4A" stroke-width="1.7" transform="translate(0 -.7)"/>
<path d="M162 142C164 142 172 141 178 141C183 141 189 142 194 142C200 142 205 142 211 141C216 141 224 139 227 138" stroke="#08481a" stroke-width="4.2"/><path d="M162 142C164 142 172 141 178 141C183 141 189 142 194 142C200 142 205 142 211 141C216 141 224 139 227 138" stroke="#2C9C33" stroke-width="2.8"/><path d="M162 142C164 142 172 141 178 141C183 141 189 142 194 142C200 142 205 142 211 141C216 141 224 139 227 138" stroke="#6ACB4A" stroke-width="1.2" transform="translate(0 -.7)"/>
<path d="M129 133C133 133 144 133 151 131C158 129 165 127 171 124C178 120 184 115 188 110C192 104 197 94 198 91" stroke="#08481a" stroke-width="4.5"/><path d="M129 133C133 133 144 133 151 131C158 129 165 127 171 124C178 120 184 115 188 110C192 104 197 94 198 91" stroke="#35AA38" stroke-width="3.1"/><path d="M129 133C133 133 144 133 151 131C158 129 165 127 171 124C178 120 184 115 188 110C192 104 197 94 198 91" stroke="#6ACB4A" stroke-width="1.5" transform="translate(0 -.7)"/>
<path d="M49 200C53 197 68 189 78 183C88 177 97 170 107 165C117 160 127 156 138 152C148 149 165 145 170 144" stroke="#08481a" stroke-width="4.3"/><path d="M49 200C53 197 68 189 78 183C88 177 97 170 107 165C117 160 127 156 138 152C148 149 165 145 170 144" stroke="#2C9C33" stroke-width="2.9"/><path d="M49 200C53 197 68 189 78 183C88 177 97 170 107 165C117 160 127 156 138 152C148 149 165 145 170 144" stroke="#6ACB4A" stroke-width="1.3" transform="translate(0 -.7)"/>
<path d="M160 121C164 121 175 123 183 124C191 124 198 124 206 124C214 124 222 124 229 125C237 126 248 130 252 132" stroke="#08481a" stroke-width="4.1"/><path d="M160 121C164 121 175 123 183 124C191 124 198 124 206 124C214 124 222 124 229 125C237 126 248 130 252 132" stroke="#35AA38" stroke-width="2.7"/><path d="M160 121C164 121 175 123 183 124C191 124 198 124 206 124C214 124 222 124 229 125C237 126 248 130 252 132" stroke="#6ACB4A" stroke-width="1.1" transform="translate(0 -.7)"/>
<path d="M65 134C68 133 75 132 80 132C85 131 91 131 95 132C100 133 105 136 109 138C114 141 119 146 121 147" stroke="#08481a" stroke-width="4.2"/><path d="M65 134C68 133 75 132 80 132C85 131 91 131 95 132C100 133 105 136 109 138C114 141 119 146 121 147" stroke="#2C9C33" stroke-width="2.8"/><path d="M65 134C68 133 75 132 80 132C85 131 91 131 95 132C100 133 105 136 109 138C114 141 119 146 121 147" stroke="#6ACB4A" stroke-width="1.2" transform="translate(0 -.7)"/>
<path d="M155 214C160 212 175 203 186 201C197 198 209 196 220 198C231 200 241 206 251 212C260 218 272 231 276 234" stroke="#08481a" stroke-width="4.3"/><path d="M155 214C160 212 175 203 186 201C197 198 209 196 220 198C231 200 241 206 251 212C260 218 272 231 276 234" stroke="#2C9C33" stroke-width="2.9"/><path d="M155 214C160 212 175 203 186 201C197 198 209 196 220 198C231 200 241 206 251 212C260 218 272 231 276 234" stroke="#6ACB4A" stroke-width="1.3" transform="translate(0 -.7)"/>
<path d="M169 130C174 127 188 119 199 114C209 109 219 105 229 100C240 96 250 91 260 87C270 82 285 74 290 72" stroke="#08481a" stroke-width="4.6"/><path d="M169 130C174 127 188 119 199 114C209 109 219 105 229 100C240 96 250 91 260 87C270 82 285 74 290 72" stroke="#1F8A2C" stroke-width="3.2"/><path d="M169 130C174 127 188 119 199 114C209 109 219 105 229 100C240 96 250 91 260 87C270 82 285 74 290 72" stroke="#48B03C" stroke-width="1.6" transform="translate(0 -.7)"/>
<path d="M196 136C200 136 214 137 224 136C233 136 243 132 252 133C261 134 270 138 278 142C287 146 298 154 302 156" stroke="#08481a" stroke-width="4.1"/><path d="M196 136C200 136 214 137 224 136C233 136 243 132 252 133C261 134 270 138 278 142C287 146 298 154 302 156" stroke="#2C9C33" stroke-width="2.7"/><path d="M196 136C200 136 214 137 224 136C233 136 243 132 252 133C261 134 270 138 278 142C287 146 298 154 302 156" stroke="#6ACB4A" stroke-width="1.1" transform="translate(0 -.7)"/>
<path d="M153 143C153 138 151 121 151 109C152 98 154 87 157 76C160 65 165 55 171 45C177 35 187 22 191 17" stroke="#08481a" stroke-width="4.3"/><path d="M153 143C153 138 151 121 151 109C152 98 154 87 157 76C160 65 165 55 171 45C177 35 187 22 191 17" stroke="#2C9C33" stroke-width="2.9"/><path d="M153 143C153 138 151 121 151 109C152 98 154 87 157 76C160 65 165 55 171 45C177 35 187 22 191 17" stroke="#6ACB4A" stroke-width="1.3" transform="translate(0 -.7)"/>
<path d="M171 228C173 225 181 217 186 212C190 206 195 201 200 195C204 190 207 183 211 177C215 171 221 162 223 159" stroke="#08481a" stroke-width="4.3"/><path d="M171 228C173 225 181 217 186 212C190 206 195 201 200 195C204 190 207 183 211 177C215 171 221 162 223 159" stroke="#2C9C33" stroke-width="2.9"/><path d="M171 228C173 225 181 217 186 212C190 206 195 201 200 195C204 190 207 183 211 177C215 171 221 162 223 159" stroke="#6ACB4A" stroke-width="1.3" transform="translate(0 -.7)"/>
<path d="M162 188C165 185 175 176 182 171C188 165 196 161 201 155C207 148 212 141 215 133C219 125 221 112 222 108" stroke="#08481a" stroke-width="4.2"/><path d="M162 188C165 185 175 176 182 171C188 165 196 161 201 155C207 148 212 141 215 133C219 125 221 112 222 108" stroke="#35AA38" stroke-width="2.8"/><path d="M162 188C165 185 175 176 182 171C188 165 196 161 201 155C207 148 212 141 215 133C219 125 221 112 222 108" stroke="#6ACB4A" stroke-width="1.2" transform="translate(0 -.7)"/>
<path d="M112 71C116 70 128 66 136 64C143 61 151 58 159 56C166 54 174 52 182 51C190 50 203 51 207 51" stroke="#08481a" stroke-width="4.8"/><path d="M112 71C116 70 128 66 136 64C143 61 151 58 159 56C166 54 174 52 182 51C190 50 203 51 207 51" stroke="#2C9C33" stroke-width="3.4"/><path d="M112 71C116 70 128 66 136 64C143 61 151 58 159 56C166 54 174 52 182 51C190 50 203 51 207 51" stroke="#6ACB4A" stroke-width="1.8" transform="translate(0 -.7)"/>
<path d="M119 96C124 95 138 94 147 92C156 91 165 89 174 87C183 85 192 82 201 80C210 78 224 74 228 73" stroke="#08481a" stroke-width="4.1"/><path d="M119 96C124 95 138 94 147 92C156 91 165 89 174 87C183 85 192 82 201 80C210 78 224 74 228 73" stroke="#2C9C33" stroke-width="2.7"/><path d="M119 96C124 95 138 94 147 92C156 91 165 89 174 87C183 85 192 82 201 80C210 78 224 74 228 73" stroke="#6ACB4A" stroke-width="1.1" transform="translate(0 -.7)"/>
</g>
<circle cx="168.4" cy="134" r="85.6" fill="none" stroke="#000" stroke-width="1"/>
<g stroke="#000" stroke-width="1.2"><line x1="229.7" y1="139.6" x2="236.1" y2="194.8"/><line x1="229.7" y1="139.6" x2="326.3" y2="194.8"/></g>
<circle cx="229.7" cy="139.6" r="2.2" fill="#fff" stroke="#000" stroke-width="1"/>
<text class="b" font-size="17.9" x="261.4" y="99" textLength="89" lengthAdjust="spacingAndGlyphs">Network of</text>
<text class="b" font-size="17.9" x="261.4" y="121.8" textLength="119.2" lengthAdjust="spacingAndGlyphs">nanofibrillated</text>
<text class="b" font-size="17.9" x="261.4" y="144.3" textLength="122.2" lengthAdjust="spacingAndGlyphs">cellulose (NFC)</text>
<g clip-path="url(#temc)">
<g filter="url(#tem)"><rect x="236.1" y="194.8" width="90.2" height="93.8" fill="#9c9c9c"/><g filter="url(#b2)"><path d="M277 190L317 190L307.3 239.4L299.1 269L293 294L268 294L253 264L258 244Z" fill="#6c6c6c"/><path d="M280 192L300 192L292 222L276 240L268 236Z" fill="#3c3c3c"/><path d="M303 200L314 200L305 246L297 272L288 274L298 240Z" fill="#414141"/><path d="M262 242L272 234L270 262L262 268L255 262Z" fill="#484848"/><path d="M276 268L297 264L293 294L272 294Z" fill="#161616"/></g></g>
</g>
<rect x="236.1" y="266.9" width="37" height="26.9" fill="#fff"/>
<text x="237.6" y="284" class="b" font-size="16.2" textLength="34.2">5 nm</text>
<rect x="244.6" y="284.5" width="18.9" height="2.2" fill="#000"/>
<g stroke="#ED1C24" stroke-width="1.5" fill="none"><line x1="276.5" y1="197.9" x2="267.4" y2="223.3"/><line x1="319.3" y1="211.6" x2="309.4" y2="236.8"/><line x1="276" y1="211.5" x2="310.5" y2="224.8"/></g>
<path d="M274.2 210.8L280.3 210.1L278.4 215.1Z M312.2 225.5L306.1 226.2L308 221.2Z" fill="#ED1C24"/>
<text transform="translate(290.3 212.3) rotate(21)" class="b" font-size="20" fill="#ED1C24">D</text>
<!-- p2_B.py -->
<rect x="90.4" y="364.4" width="302.8" height="232.6" class="ax"/>
<line x1="83.9" y1="597.0" x2="90.4" y2="597.0" class="ax"/>
<text transform="translate(73.6 602.6) scale(1.105 1)" class="b" font-size="17.4" text-anchor="end">0</text>
<line x1="83.9" y1="519.5" x2="90.4" y2="519.5" class="ax"/>
<text transform="translate(73.6 525.1) scale(1.105 1)" class="b" font-size="17.4" text-anchor="end">100</text>
<line x1="83.9" y1="441.9" x2="90.4" y2="441.9" class="ax"/>
<text transform="translate(73.6 447.5) scale(1.105 1)" class="b" font-size="17.4" text-anchor="end">200</text>
<line x1="83.9" y1="364.4" x2="90.4" y2="364.4" class="ax"/>
<text transform="translate(73.6 370.0) scale(1.105 1)" class="b" font-size="17.4" text-anchor="end">300</text>
<line x1="90.4" y1="597.0" x2="90.4" y2="604.3" class="ax"/>
<text transform="translate(90.4 625.3) scale(1.105 1)" class="b" font-size="17.4" text-anchor="middle">0</text>
<line x1="151.0" y1="597.0" x2="151.0" y2="604.3" class="ax"/>
<text transform="translate(151.0 625.3) scale(1.105 1)" class="b" font-size="17.4" text-anchor="middle">2</text>
<line x1="211.5" y1="597.0" x2="211.5" y2="604.3" class="ax"/>
<text transform="translate(211.5 625.3) scale(1.105 1)" class="b" font-size="17.4" text-anchor="middle">4</text>
<line x1="272.1" y1="597.0" x2="272.1" y2="604.3" class="ax"/>
<text transform="translate(272.1 625.3) scale(1.105 1)" class="b" font-size="17.4" text-anchor="middle">6</text>
<line x1="332.6" y1="597.0" x2="332.6" y2="604.3" class="ax"/>
<text transform="translate(332.6 625.3) scale(1.105 1)" class="b" font-size="17.4" text-anchor="middle">8</text>
<line x1="393.2" y1="597.0" x2="393.2" y2="604.3" class="ax"/>
<text transform="translate(393.2 625.3) scale(1.105 1)" class="b" font-size="17.4" text-anchor="middle">10</text>
<text transform="translate(155.8 646.0) scale(1.045 1)" class="b" font-size="19.6">Tensile strain (%)</text>
<text transform="translate(33.2 543.0) rotate(-90) scale(1.05 1)" class="b" font-size="19.8">Stress (MPa)</text>
<path d="M92.2 595.0C92.5 593.8 92.2 594.3 93.8 588.0C95.3 581.7 98.4 567.8 101.5 557.2C104.6 546.6 109.2 533.4 112.4 524.3C115.6 515.1 117.5 509.2 120.7 502.3C123.9 495.4 127.6 489.0 131.7 483.1C135.8 477.2 140.4 471.5 145.4 466.7C150.4 461.9 156.3 457.7 161.8 454.3C167.3 450.9 171.9 448.9 178.3 446.1C184.7 443.4 193.0 440.3 200.3 437.8C207.6 435.3 214.0 434.1 222.2 431.0C230.4 427.9 241.7 422.8 249.7 419.5C257.7 416.2 264.0 413.5 270.0 411.2C276.0 408.9 279.3 407.7 285.7 405.7C292.1 403.7 301.6 401.5 308.6 399.2C315.6 396.9 320.8 394.5 327.6 391.6C334.5 388.7 346.0 383.4 349.7 381.7" fill="none" stroke="#ED1C24" stroke-width="5.6" stroke-linecap="round" stroke-linejoin="round"/>
<path d="M94.3 595.0C94.6 593.8 94.6 594.3 96.3 588.0C98.0 581.7 101.0 567.8 104.2 557.2C107.4 546.6 111.5 533.4 115.2 524.3C118.9 515.1 122.1 508.9 126.2 502.3C130.3 495.7 135.3 489.5 139.9 484.5C144.5 479.5 149.0 476.0 153.6 472.1C158.2 468.2 162.3 464.9 167.3 461.2C172.3 457.5 178.3 453.9 183.8 450.2C189.3 446.5 194.8 442.6 200.3 439.2C205.8 435.8 211.2 432.8 216.7 429.6C222.2 426.4 228.0 423.0 233.2 420.0C238.3 417.0 245.2 412.8 247.6 411.4" fill="none" stroke="#1A6B35" stroke-width="5.6" stroke-linecap="round" stroke-linejoin="round"/>
<path d="M90.8 594.0C91.0 592.5 91.1 590.2 92.0 585.0C92.9 579.8 94.2 571.0 96.0 562.7C97.8 554.4 100.1 545.4 102.8 535.3C105.5 525.2 108.5 512.4 112.4 502.3C116.3 492.2 121.6 482.4 126.2 474.9C130.8 467.3 135.3 462.0 139.9 457.0C144.5 452.0 149.0 447.9 153.6 444.7C158.2 441.5 163.2 439.3 167.3 437.8C171.4 436.3 176.5 436.0 178.3 435.6" fill="none" stroke="#2850A0" stroke-width="5.8" stroke-linecap="round" stroke-linejoin="round"/>
<path d="M91.0 596.0C93.2 595.8 99.5 595.1 104.0 594.6C108.5 594.1 111.8 593.6 118.0 593.1C124.2 592.6 133.7 591.9 141.0 591.6C148.3 591.4 158.5 591.6 162.0 591.6" fill="none" stroke="#000" stroke-width="5.8" stroke-linecap="round" stroke-linejoin="round"/>
<text transform="translate(116.0 432.4) scale(1.1 1)" class="b" font-size="18.6" fill="#2850A0">28 nm</text>
<text transform="translate(186.0 413.3) scale(1.1 1)" class="b" font-size="18.6" fill="#1A6B35">20 nm</text>
<text transform="translate(307.8 419.0) scale(1.1 1)" class="b" font-size="18.6" fill="#ED1C24">11 nm</text>
<text transform="translate(146.7 585.5) scale(1.1 1)" class="b" font-size="18.6">27 μm</text>
<!-- p3_C.py -->
<rect x="459.2" y="53.9" width="361.8" height="295.5" fill="#fff" stroke="#ED1C24" stroke-width="3.7"/>
<line x1="540.7" y1="65.3" x2="540.7" y2="284.6" class="ax"/>
<line x1="540.7" y1="284.6" x2="796.0" y2="284.6" class="ax"/>
<line x1="534.2" y1="284.6" x2="540.7" y2="284.6" class="ax"/>
<line x1="536.2" y1="257.9" x2="540.7" y2="257.9" class="ax"/>
<line x1="536.2" y1="242.4" x2="540.7" y2="242.4" class="ax"/>
<line x1="536.2" y1="231.3" x2="540.7" y2="231.3" class="ax"/>
<line x1="536.2" y1="222.7" x2="540.7" y2="222.7" class="ax"/>
<line x1="536.2" y1="215.7" x2="540.7" y2="215.7" class="ax"/>
<line x1="536.2" y1="209.8" x2="540.7" y2="209.8" class="ax"/>
<line x1="536.2" y1="204.6" x2="540.7" y2="204.6" class="ax"/>
<line x1="536.2" y1="200.1" x2="540.7" y2="200.1" class="ax"/>
<line x1="534.2" y1="196.1" x2="540.7" y2="196.1" class="ax"/>
<line x1="536.2" y1="169.4" x2="540.7" y2="169.4" class="ax"/>
<line x1="536.2" y1="153.8" x2="540.7" y2="153.8" class="ax"/>
<line x1="536.2" y1="142.7" x2="540.7" y2="142.7" class="ax"/>
<line x1="536.2" y1="134.2" x2="540.7" y2="134.2" class="ax"/>
<line x1="536.2" y1="127.1" x2="540.7" y2="127.1" class="ax"/>
<line x1="536.2" y1="121.2" x2="540.7" y2="121.2" class="ax"/>
<line x1="536.2" y1="116.1" x2="540.7" y2="116.1" class="ax"/>
<line x1="536.2" y1="111.6" x2="540.7" y2="111.6" class="ax"/>
<line x1="534.2" y1="107.5" x2="540.7" y2="107.5" class="ax"/>
<line x1="536.2" y1="80.8" x2="540.7" y2="80.8" class="ax"/>
<line x1="536.2" y1="65.3" x2="540.7" y2="65.3" class="ax"/>
<text transform="translate(525.0 291.0) scale(1.06 1)" class="b" font-size="17.4" text-anchor="end">0.1</text>
<text transform="translate(525.0 202.5) scale(1.06 1)" class="b" font-size="17.4" text-anchor="end">1</text>
<text transform="translate(525.0 113.9) scale(1.06 1)" class="b" font-size="17.4" text-anchor="end">10</text>
<line x1="540.7" y1="284.6" x2="540.7" y2="291.1" class="ax"/>
<line x1="566.3" y1="284.6" x2="566.3" y2="289.1" class="ax"/>
<line x1="581.3" y1="284.6" x2="581.3" y2="289.1" class="ax"/>
<line x1="591.9" y1="284.6" x2="591.9" y2="289.1" class="ax"/>
<line x1="600.2" y1="284.6" x2="600.2" y2="289.1" class="ax"/>
<line x1="606.9" y1="284.6" x2="606.9" y2="289.1" class="ax"/>
<line x1="612.6" y1="284.6" x2="612.6" y2="289.1" class="ax"/>
<line x1="617.6" y1="284.6" x2="617.6" y2="289.1" class="ax"/>
<line x1="621.9" y1="284.6" x2="621.9" y2="289.1" class="ax"/>
<line x1="625.8" y1="284.6" x2="625.8" y2="291.1" class="ax"/>
<line x1="651.4" y1="284.6" x2="651.4" y2="289.1" class="ax"/>
<line x1="666.4" y1="284.6" x2="666.4" y2="289.1" class="ax"/>
<line x1="677.0" y1="284.6" x2="677.0" y2="289.1" class="ax"/>
<line x1="685.3" y1="284.6" x2="685.3" y2="289.1" class="ax"/>
<line x1="692.0" y1="284.6" x2="692.0" y2="289.1" class="ax"/>
<line x1="697.7" y1="284.6" x2="697.7" y2="289.1" class="ax"/>
<line x1="702.7" y1="284.6" x2="702.7" y2="289.1" class="ax"/>
<line x1="707.0" y1="284.6" x2="707.0" y2="289.1" class="ax"/>
<line x1="710.9" y1="284.6" x2="710.9" y2="291.1" class="ax"/>
<line x1="736.5" y1="284.6" x2="736.5" y2="289.1" class="ax"/>
<line x1="751.5" y1="284.6" x2="751.5" y2="289.1" class="ax"/>
<line x1="762.1" y1="284.6" x2="762.1" y2="289.1" class="ax"/>
<line x1="770.4" y1="284.6" x2="770.4" y2="289.1" class="ax"/>
<line x1="777.1" y1="284.6" x2="777.1" y2="289.1" class="ax"/>
<line x1="782.8" y1="284.6" x2="782.8" y2="289.1" class="ax"/>
<line x1="787.8" y1="284.6" x2="787.8" y2="289.1" class="ax"/>
<line x1="792.1" y1="284.6" x2="792.1" y2="289.1" class="ax"/>
<line x1="796.0" y1="284.6" x2="796.0" y2="291.1" class="ax"/>
<text transform="translate(540.7 311.8) scale(1.06 1)" class="b" font-size="17.4" text-anchor="middle">1</text>
<text transform="translate(625.8 311.8) scale(1.06 1)" class="b" font-size="17.4" text-anchor="middle">10</text>
<text transform="translate(710.9 311.8) scale(1.06 1)" class="b" font-size="17.4" text-anchor="middle">100</text>
<text transform="translate(796.0 311.8) scale(1.06 1)" class="b" font-size="17.4" text-anchor="middle">1000</text>
<text transform="translate(528.0 337.2) scale(1.067 1)" class="b" font-size="19.5">Ultimate Tensile Strength (MPa)</text>
<text transform="translate(488.3 261.8) rotate(-90) scale(1.068 1)" class="b" font-size="19.5">Toughness (MJ/m<tspan font-size="12.5" dy="-7">3</tspan><tspan dy="7">)</tspan></text>
<g stroke="#000" stroke-width="1.1"><line x1="610.6" y1="245.4" x2="610.6" y2="284.6"/><line x1="608" y1="245.4" x2="613.2" y2="245.4"/><line x1="743.5" y1="120" x2="743.5" y2="129.5"/><line x1="741" y1="129.5" x2="746.1" y2="129.5"/></g>
<rect x="603.3" y="254.2" width="14.6" height="15.6" fill="#000"/>
<rect x="741.1" y="94.1" width="15.7" height="15.5" fill="#F1593F"/><rect x="741.1" y="94.1" width="14.6" height="14.5" fill="#ED1C24"/>
<rect x="734.9" y="107.1" width="16" height="15.6" fill="#1A5E30"/>
<rect x="730.1" y="133" width="15.8" height="14.8" fill="#2850A0"/>
<text transform="translate(644.2 101.8) scale(1.07 1)" class="b" font-size="19.5" fill="#ED1C24"><tspan class="bi">D</tspan> = 11 nm</text>
<text transform="translate(674.6 118.7) scale(1.043 1)" class="b" font-size="19.5" fill="#1A5E30">20 nm</text>
<text transform="translate(668.4 142.3) scale(1.043 1)" class="b" font-size="19.5" fill="#2850A0">28 nm</text>
<text transform="translate(545.8 264.6) scale(1.06 1)" class="b" font-size="19.5">27 μm</text>
<defs><filter id="ash" x="-20%" y="-20%" width="150%" height="150%"><feGaussianBlur stdDeviation="1.1"/></filter></defs>
<path d="M644.2 273.3C646.5 272.3 652.7 269.8 657.7 267.4C662.7 265.1 668.9 262.4 674.5 259.4C680.1 256.5 685.8 253.3 691.5 249.8C697.1 246.2 703.7 241.8 708.5 237.9C713.3 234.1 716.8 230.8 720.5 226.8C724.2 222.9 727.4 218.5 730.7 214.1C734.1 209.7 737.3 205.4 740.5 200.6C743.6 195.7 746.7 190.3 749.6 185.1C752.4 180.0 755.3 174.4 757.6 169.9C759.8 165.3 761.3 161.7 763.1 157.6C765.0 153.5 766.9 149.2 768.6 145.4C770.2 141.6 772.3 136.5 773.1 134.8L753.5 141.3L780.7 107.2L776.8 150.2L768.5 132.8L768.5 132.8C767.8 134.6 765.7 139.6 764.0 143.4C762.4 147.2 760.5 151.6 758.7 155.6C756.9 159.7 755.5 163.2 753.2 167.7C751.0 172.3 748.2 177.8 745.4 182.9C742.6 187.9 739.6 193.3 736.5 198.0C733.5 202.8 730.3 207.0 727.1 211.3C723.8 215.6 720.7 219.9 717.1 223.8C713.6 227.6 710.4 230.7 705.7 234.5C701.0 238.2 694.7 242.5 689.1 246.0C683.6 249.6 678.0 252.7 672.5 255.6C667.0 258.5 660.9 261.2 655.9 263.6C650.9 265.9 644.8 268.5 642.6 269.5Z" fill="#5c5c5c" opacity="0.85" transform="translate(3.6 2.6)" filter="url(#ash)"/>
<path d="M643.9 272.5C646.1 271.6 652.3 269.0 657.3 266.7C662.4 264.3 668.5 261.6 674.1 258.7C679.7 255.7 685.4 252.6 691.0 249.0C696.6 245.5 703.1 241.1 707.9 237.3C712.7 233.5 716.1 230.2 719.8 226.2C723.5 222.3 726.7 217.9 730.0 213.5C733.3 209.2 736.6 204.9 739.7 200.1C742.8 195.3 745.9 189.8 748.8 184.7C751.6 179.6 754.5 174.0 756.7 169.4C759.0 164.9 760.4 161.3 762.3 157.2C764.1 153.1 766.0 148.8 767.7 145.0C769.4 141.2 771.5 136.2 772.2 134.4L753.5 141.3L780.7 107.2L776.8 150.2L769.4 133.2L769.4 133.2C768.6 135.0 766.5 140.0 764.9 143.8C763.3 147.6 761.3 151.9 759.5 156.0C757.7 160.0 756.3 163.6 754.1 168.2C751.9 172.7 749.0 178.2 746.2 183.3C743.4 188.4 740.4 193.8 737.3 198.5C734.2 203.3 731.0 207.5 727.8 211.9C724.5 216.2 721.4 220.5 717.8 224.4C714.2 228.2 711.0 231.4 706.3 235.1C701.6 238.9 695.2 243.2 689.6 246.8C684.0 250.3 678.4 253.4 672.9 256.3C667.3 259.3 661.3 262.0 656.3 264.3C651.3 266.7 645.1 269.3 642.9 270.3Z" fill="#ED1C24"/>
<!-- p4_D.py -->
<rect x="515.6" y="361.0" width="307.0" height="236.3" class="ax"/>
<line x1="509.1" y1="597.3" x2="515.6" y2="597.3" class="ax"/>
<text transform="translate(498.3 603.5) scale(1.09 1)" class="b" font-size="17.9" text-anchor="end">0</text>
<line x1="509.1" y1="523.4" x2="515.6" y2="523.4" class="ax"/>
<text transform="translate(498.3 529.6) scale(1.09 1)" class="b" font-size="17.9" text-anchor="end">100</text>
<line x1="509.1" y1="449.4" x2="515.6" y2="449.4" class="ax"/>
<text transform="translate(498.3 455.6) scale(1.09 1)" class="b" font-size="17.9" text-anchor="end">200</text>
<line x1="509.1" y1="375.5" x2="515.6" y2="375.5" class="ax"/>
<text transform="translate(498.3 381.7) scale(1.09 1)" class="b" font-size="17.9" text-anchor="end">300</text>
<line x1="515.6" y1="597.3" x2="515.6" y2="603.8" class="ax"/>
<line x1="540.0" y1="597.3" x2="540.0" y2="602.3" class="ax"/>
<line x1="554.3" y1="597.3" x2="554.3" y2="602.3" class="ax"/>
<line x1="564.4" y1="597.3" x2="564.4" y2="602.3" class="ax"/>
<line x1="572.3" y1="597.3" x2="572.3" y2="602.3" class="ax"/>
<line x1="578.7" y1="597.3" x2="578.7" y2="602.3" class="ax"/>
<line x1="584.1" y1="597.3" x2="584.1" y2="602.3" class="ax"/>
<line x1="588.8" y1="597.3" x2="588.8" y2="602.3" class="ax"/>
<line x1="593.0" y1="597.3" x2="593.0" y2="602.3" class="ax"/>
<line x1="596.7" y1="597.3" x2="596.7" y2="603.8" class="ax"/>
<line x1="621.1" y1="597.3" x2="621.1" y2="602.3" class="ax"/>
<line x1="635.4" y1="597.3" x2="635.4" y2="602.3" class="ax"/>
<line x1="645.5" y1="597.3" x2="645.5" y2="602.3" class="ax"/>
<line x1="653.4" y1="597.3" x2="653.4" y2="602.3" class="ax"/>
<line x1="659.8" y1="597.3" x2="659.8" y2="602.3" class="ax"/>
<line x1="665.2" y1="597.3" x2="665.2" y2="602.3" class="ax"/>
<line x1="669.9" y1="597.3" x2="669.9" y2="602.3" class="ax"/>
<line x1="674.1" y1="597.3" x2="674.1" y2="602.3" class="ax"/>
<line x1="677.8" y1="597.3" x2="677.8" y2="603.8" class="ax"/>
<line x1="702.2" y1="597.3" x2="702.2" y2="602.3" class="ax"/>
<line x1="716.5" y1="597.3" x2="716.5" y2="602.3" class="ax"/>
<line x1="726.6" y1="597.3" x2="726.6" y2="602.3" class="ax"/>
<line x1="734.5" y1="597.3" x2="734.5" y2="602.3" class="ax"/>
<line x1="740.9" y1="597.3" x2="740.9" y2="602.3" class="ax"/>
<line x1="746.3" y1="597.3" x2="746.3" y2="602.3" class="ax"/>
<line x1="751.0" y1="597.3" x2="751.0" y2="602.3" class="ax"/>
<line x1="755.2" y1="597.3" x2="755.2" y2="602.3" class="ax"/>
<line x1="758.9" y1="597.3" x2="758.9" y2="603.8" class="ax"/>
<line x1="783.3" y1="597.3" x2="783.3" y2="602.3" class="ax"/>
<line x1="797.6" y1="597.3" x2="797.6" y2="602.3" class="ax"/>
<line x1="807.7" y1="597.3" x2="807.7" y2="602.3" class="ax"/>
<line x1="815.6" y1="597.3" x2="815.6" y2="602.3" class="ax"/>
<line x1="822.0" y1="597.3" x2="822.0" y2="602.3" class="ax"/>
<text transform="translate(516.0 628.0) scale(1.09 1)" class="b" font-size="17.9" text-anchor="middle">10</text>
<text transform="translate(597.1 628.0) scale(1.09 1)" class="b" font-size="17.9" text-anchor="middle">100</text>
<text transform="translate(678.2 628.0) scale(1.09 1)" class="b" font-size="17.9" text-anchor="middle">1000</text>
<text transform="translate(759.3 628.0) scale(1.09 1)" class="b" font-size="17.9" text-anchor="middle">10000</text>
<text transform="translate(529.1 648.9) scale(1.048 1)" class="b" font-size="19.8">Cellulose fiber diameter <tspan class="bi">D</tspan> (nm)</text>
<text transform="translate(433.7 602.5) rotate(-90) scale(1.04 1)" class="b" font-size="19.8">Ultimate Tensile Strength</text>
<text transform="translate(458.7 533.5) rotate(-90) scale(1.04 1)" class="b" font-size="19.8"><tspan class="bi" font-size="24">σ</tspan><tspan class="bi" font-size="12.5" dy="4">UTS</tspan><tspan dy="-4"> (MPa)</tspan></text>
<g stroke="#000" stroke-width="1.1"><line x1="518.6" y1="366.6" x2="518.6" y2="403.1"/><line x1="515.6" y1="366.6" x2="521.9" y2="366.6"/><line x1="515.6" y1="403.1" x2="521.9" y2="403.1"/><line x1="540.3" y1="407.7" x2="540.3" y2="440.2"/><line x1="537.5" y1="407.7" x2="543.1" y2="407.7"/><line x1="537.5" y1="440.2" x2="543.1" y2="440.2"/><line x1="552.2" y1="431.3" x2="552.2" y2="455.7"/><line x1="549.6" y1="431.3" x2="554.8" y2="431.3"/><line x1="549.6" y1="455.7" x2="554.8" y2="455.7"/></g>
<rect x="511.3" y="377.3" width="15.7" height="15.2" fill="#ED1C24"/>
<rect x="532.3" y="416.4" width="15.6" height="15.3" fill="#1A5E30"/>
<rect x="544.4" y="435.8" width="15.8" height="14.9" fill="#2850A0"/>
<rect x="785.8" y="585.1" width="16.4" height="15.9" fill="#000"/>
<path d="M515.8 361.5C516.8 365.0 519.6 375.4 522.0 382.6C524.4 389.9 527.3 397.8 530.0 405.0C532.7 412.2 535.1 419.3 538.0 426.0C540.9 432.7 544.3 439.4 547.1 445.4C549.9 451.4 552.5 457.1 555.0 462.0C557.5 466.9 558.7 469.3 562.0 475.1C565.3 480.9 570.3 490.0 575.0 497.0C579.7 504.0 585.0 511.0 590.0 517.0C595.0 523.0 599.7 528.1 605.0 533.0C610.3 537.9 616.2 542.4 622.0 546.5C627.8 550.6 633.0 553.8 640.0 557.5C647.0 561.2 655.9 565.7 663.8 569.0C671.7 572.3 679.7 574.9 687.6 577.3C695.5 579.7 703.4 581.5 711.3 583.2C719.2 584.9 727.2 586.3 735.1 587.5C743.0 588.7 751.0 589.6 758.9 590.4C766.8 591.2 772.6 591.6 782.7 592.3C792.8 593.0 813.4 594.2 819.5 594.6" fill="none" stroke="#9A9A9A" stroke-width="2.8" stroke-dasharray="10.5 5.5"/>
<rect x="595" y="471.9" width="140.1" height="40" fill="#fff" stroke="#000" stroke-width="1.9"/>
<g fill="#3a3a3a" font-family="DejaVu Serif, Liberation Serif, serif" font-weight="bold" font-style="italic"><text transform="translate(598.6 499.5) scale(0.87 1)" font-size="25" style="font-family:'DejaVu Serif',serif">σ</text><text x="614.8" y="510.4" font-size="10" style="font-family:'DejaVu Serif',serif" textLength="22">UTS</text><text x="644.3" y="500.2" font-size="29" font-style="normal" style="font-family:'DejaVu Sans',sans-serif;font-style:normal">∝</text><text x="669" y="499.5" font-size="22.5" style="font-family:'DejaVu Serif',serif;font-style:normal">1</text><text x="713" y="499.5" font-size="20.5" style="font-family:'DejaVu Serif',serif" textLength="18.5" lengthAdjust="spacingAndGlyphs">D</text></g>
<path d="M686.2 504.8L695.6 482.2" stroke="#3a3a3a" stroke-width="2.2" fill="none"/>
<path d="M697.6 492.2L700.3 490.6L704.6 500.2L711.6 477.6L731.8 477.6" stroke="#3a3a3a" stroke-width="1.6" fill="none" stroke-linejoin="miter"/>
<!-- p5_E.py -->
<defs>
<clipPath id="semc"><rect x="888.9" y="76" width="321.6" height="245.7"/></clipPath>
<clipPath id="phc"><rect x="888.9" y="192.2" width="128.1" height="129.5"/></clipPath>
<linearGradient id="semg" gradientUnits="userSpaceOnUse" x1="900" y1="210" x2="1080" y2="150"><stop offset="0" stop-color="#1a1a1a"/><stop offset="0.5" stop-color="#222"/><stop offset="0.85" stop-color="#2e2e2e"/><stop offset="1" stop-color="#383838"/></linearGradient>
<filter id="semn" filterUnits="userSpaceOnUse" x="880" y="66" width="340" height="266" color-interpolation-filters="sRGB"><feTurbulence type="fractalNoise" baseFrequency="0.06 0.08" numOctaves="3" seed="5" result="n"/><feColorMatrix in="n" type="matrix" values="1 0 0 0 0  1 0 0 0 0  1 0 0 0 0  0 0 0 0 1" result="g"/><feComposite in="SourceGraphic" in2="g" operator="arithmetic" k1="0.55" k2="0.72" k3="0" k4="0"/></filter>
<filter id="bl1"><feGaussianBlur stdDeviation="0.6"/></filter><filter id="bl6u" filterUnits="userSpaceOnUse" x="860" y="40" width="380" height="320"><feGaussianBlur stdDeviation="7"/></filter><filter id="bl15" x="-20%" y="-20%" width="140%" height="140%"><feGaussianBlur stdDeviation="1.5"/></filter><filter id="bl2" filterUnits="userSpaceOnUse" x="860" y="40" width="380" height="320"><feGaussianBlur stdDeviation="1.6"/></filter>
<filter id="bl6" x="-30%" y="-30%" width="160%" height="160%"><feGaussianBlur stdDeviation="6"/></filter>
<filter id="bl3" x="-30%" y="-30%" width="160%" height="160%"><feGaussianBlur stdDeviation="3"/></filter>
<radialGradient id="disc" gradientUnits="userSpaceOnUse" cx="945" cy="252" r="70"><stop offset="0" stop-color="#5f6872"/><stop offset="0.5" stop-color="#48515c"/><stop offset="1" stop-color="#2f363f"/></radialGradient>
</defs>
<g clip-path="url(#semc)">
<rect x="880" y="70" width="340" height="260" fill="url(#semg)"/>
<ellipse cx="960" cy="80" rx="75" ry="22" fill="#3c3c3c" opacity="0.7" filter="url(#bl6)"/>
<g filter="url(#semn)">
<path d="M1024 60L1027 68L1030 76L1034 84L1037 92L1041 100L1045 108L1048 116L1052 124L1056 132L1060 140L1065 148L1070 156L1074 164L1076 172L1080 180L1081 188L1082 196L1083 204L1085 212L1088 220L1091 228L1095 236L1100 244L1104 252L1109 260L1113 268L1117 276L1126 284L1134 292L1144 300L1158 308L1172 316L1189 324L1206 332L1230 332L1230 60Z" fill="#7e7e7e" filter="url(#bl6)"/>
<path d="M1032 60L1035 68L1038 76L1042 84L1045 92L1049 100L1053 108L1056 116L1060 124L1064 132L1068 140L1073 148L1078 156L1082 164L1084 172L1088 180L1089 188L1090 196L1091 204L1093 212L1096 220L1099 228L1103 236L1108 244L1112 252L1117 260L1121 268L1125 276L1134 284L1142 292L1152 300L1166 308L1180 316L1197 324L1214 332" fill="none" stroke="#a8a8a8" stroke-width="22" opacity="0.5" filter="url(#bl6u)"/>
<ellipse cx="1195" cy="115" rx="30" ry="28" fill="#9a9a9a" opacity="0.6" filter="url(#bl6)"/>
<ellipse cx="1150" cy="295" rx="40" ry="14" fill="#a0a0a0" opacity="0.5" filter="url(#bl6)" transform="rotate(32 1150 295)"/>
</g>
<path d="M1017 250L1060 275L1100 300L1140 318L1170 330L1017 330Z" fill="#141414" opacity="0.55" filter="url(#bl6u)"/>
<g fill="none" stroke="#d0d0d0" stroke-linecap="round" filter="url(#bl2)">
<path d="M1138 88C1139 86 1140 81 1142 79C1143 77 1146 75 1149 73C1151 71 1155 68 1156 67" stroke-width="2.8" opacity="0.17"/>
<path d="M1122 100C1123 101 1130 103 1131 107C1132 110 1131 115 1130 118C1128 120 1121 122 1120 122" stroke-width="2.2" opacity="0.17"/>
<path d="M1106 163C1104 163 1098 163 1095 161C1091 159 1088 156 1087 153C1085 150 1084 144 1084 142" stroke-width="2.6" opacity="0.22"/>
<path d="M1099 133C1101 133 1106 134 1107 135C1109 137 1110 140 1111 143C1111 145 1111 150 1110 151" stroke-width="2.8" opacity="0.11"/>
<path d="M1078 144C1076 144 1071 145 1069 144C1067 142 1067 139 1066 136C1064 134 1062 130 1061 129" stroke-width="2.6" opacity="0.16"/>
<path d="M1187 149C1186 148 1181 147 1177 147C1174 147 1170 146 1168 148C1165 149 1162 154 1161 155" stroke-width="1.5" opacity="0.17"/>
<path d="M1130 153C1128 152 1124 151 1121 150C1118 150 1115 150 1112 149C1109 148 1106 145 1104 144" stroke-width="2.3" opacity="0.11"/>
<path d="M1088 81C1087 82 1082 84 1079 86C1076 87 1073 90 1070 91C1067 92 1062 93 1060 93" stroke-width="2.9" opacity="0.11"/>
<path d="M1211 161C1209 163 1204 173 1199 176C1193 180 1186 181 1179 182C1173 182 1163 179 1160 179" stroke-width="2.6" opacity="0.15"/>
<path d="M1145 75C1143 74 1137 71 1134 70C1130 70 1126 72 1122 74C1118 76 1114 80 1112 81" stroke-width="1.6" opacity="0.15"/>
<path d="M1206 152C1204 154 1198 162 1193 164C1188 167 1181 169 1175 167C1170 166 1163 159 1161 157" stroke-width="1.9" opacity="0.15"/>
<path d="M1098 104C1099 102 1100 93 1100 87C1100 81 1100 75 1101 69C1102 64 1103 55 1104 52" stroke-width="2.3" opacity="0.13"/>
<path d="M1155 118C1155 119 1152 122 1151 123C1149 125 1147 125 1144 126C1142 127 1139 127 1138 128" stroke-width="1.7" opacity="0.11"/>
<path d="M1181 162C1182 163 1185 164 1187 165C1189 166 1191 167 1193 167C1195 167 1198 166 1199 165" stroke-width="1.8" opacity="0.11"/>
<path d="M1150 135C1149 136 1144 139 1143 143C1141 146 1141 150 1142 154C1143 158 1146 163 1147 164" stroke-width="1.6" opacity="0.20"/>
<path d="M1066 128C1066 125 1065 116 1062 111C1059 106 1053 104 1049 99C1046 95 1042 87 1040 84" stroke-width="2.2" opacity="0.16"/>
<path d="M1184 138C1183 136 1183 131 1182 128C1181 124 1178 122 1177 119C1175 116 1173 111 1172 110" stroke-width="1.8" opacity="0.18"/>
<path d="M1098 119C1099 120 1102 121 1104 122C1106 123 1108 125 1110 126C1111 128 1113 131 1113 132" stroke-width="2.5" opacity="0.10"/>
<path d="M1130 92C1129 94 1126 101 1125 105C1124 110 1124 115 1123 119C1122 124 1121 131 1121 134" stroke-width="2.3" opacity="0.18"/>
<path d="M1112 129C1111 132 1106 141 1106 146C1107 152 1112 159 1117 161C1122 164 1132 162 1135 162" stroke-width="2.3" opacity="0.14"/>
<path d="M1086 154C1088 157 1093 165 1097 170C1101 175 1105 180 1109 184C1114 188 1122 193 1125 195" stroke-width="2.8" opacity="0.14"/>
<path d="M1153 129C1152 128 1147 124 1143 123C1139 121 1135 120 1131 119C1127 117 1122 115 1120 114" stroke-width="2.4" opacity="0.20"/>
<path d="M1193 133C1194 132 1200 131 1202 128C1204 126 1205 121 1205 118C1205 115 1201 110 1200 108" stroke-width="2.4" opacity="0.13"/>
<path d="M1162 175C1159 176 1151 178 1146 178C1140 178 1135 177 1129 177C1124 178 1116 180 1114 180" stroke-width="3.0" opacity="0.13"/>
<path d="M1146 150C1146 147 1147 137 1149 132C1152 127 1157 123 1162 119C1166 116 1174 111 1176 109" stroke-width="2.4" opacity="0.20"/>
<path d="M1069 76C1069 75 1067 71 1066 69C1065 66 1063 63 1061 62C1059 61 1054 63 1053 63" stroke-width="2.4" opacity="0.12"/>
<path d="M1171 95C1172 94 1178 94 1181 92C1184 91 1186 88 1189 86C1192 84 1197 83 1198 82" stroke-width="2.8" opacity="0.19"/>
<path d="M1165 132C1165 134 1165 140 1167 142C1169 145 1173 147 1176 147C1179 148 1184 144 1186 143" stroke-width="2.9" opacity="0.21"/>
<path d="M1164 78C1164 79 1166 83 1167 85C1168 88 1168 91 1168 93C1169 96 1171 99 1171 101" stroke-width="2.9" opacity="0.15"/>
<path d="M1136 163C1134 163 1128 161 1125 162C1121 163 1118 166 1115 168C1113 171 1111 177 1110 179" stroke-width="2.6" opacity="0.13"/>
<path d="M1157 150C1154 151 1144 150 1141 154C1138 157 1137 166 1139 170C1141 174 1152 175 1155 175" stroke-width="1.9" opacity="0.18"/>
<path d="M1100 120C1100 117 1097 106 1099 100C1101 95 1108 90 1114 87C1119 83 1129 81 1132 79" stroke-width="2.4" opacity="0.21"/>
<path d="M1099 157C1099 158 1099 162 1100 164C1101 166 1102 168 1104 169C1105 171 1109 172 1109 173" stroke-width="2.0" opacity="0.20"/>
<path d="M1063 99C1063 100 1060 104 1061 106C1061 108 1064 111 1066 112C1068 113 1072 113 1074 113" stroke-width="2.2" opacity="0.11"/>
<path d="M1165 173C1163 169 1161 159 1157 154C1153 150 1146 147 1140 144C1135 140 1126 136 1123 135" stroke-width="2.0" opacity="0.11"/>
<path d="M1161 138C1159 138 1155 140 1152 141C1149 141 1145 140 1142 141C1139 142 1135 146 1134 147" stroke-width="2.7" opacity="0.15"/>
<path d="M1197 118C1196 121 1190 128 1190 134C1189 139 1193 144 1193 150C1194 156 1193 164 1193 167" stroke-width="1.6" opacity="0.13"/>
<path d="M1202 121C1201 119 1200 113 1199 108C1197 104 1195 100 1195 95C1195 91 1198 85 1199 83" stroke-width="2.6" opacity="0.12"/>
<path d="M1179 172C1181 170 1190 164 1194 159C1197 154 1199 147 1201 141C1202 135 1203 125 1203 122" stroke-width="1.8" opacity="0.12"/>
<path d="M1165 83C1163 83 1156 82 1151 81C1146 79 1142 77 1137 76C1133 75 1126 74 1123 73" stroke-width="1.6" opacity="0.17"/>
<path d="M1168 148C1167 147 1165 144 1164 141C1162 139 1161 137 1159 135C1158 133 1155 130 1154 129" stroke-width="2.8" opacity="0.15"/>
<path d="M1119 136C1120 135 1124 134 1126 133C1128 131 1130 129 1132 127C1134 125 1135 121 1136 120" stroke-width="1.8" opacity="0.21"/>
<path d="M1147 121C1150 121 1159 120 1165 118C1171 116 1176 114 1182 111C1187 108 1194 102 1196 101" stroke-width="2.1" opacity="0.21"/>
<path d="M1192 138C1190 139 1182 141 1179 144C1175 147 1172 152 1171 157C1170 161 1172 169 1173 172" stroke-width="1.7" opacity="0.10"/>
<path d="M1149 108C1152 107 1160 104 1163 106C1166 107 1166 114 1168 118C1169 122 1169 129 1169 131" stroke-width="2.1" opacity="0.13"/>
<path d="M1203 143C1205 142 1209 140 1211 138C1214 135 1216 132 1216 130C1217 127 1216 122 1215 120" stroke-width="2.6" opacity="0.14"/>
<path d="M1149 158C1148 157 1145 152 1143 149C1142 147 1140 143 1138 141C1135 139 1130 137 1129 136" stroke-width="1.6" opacity="0.12"/>
<path d="M1099 141C1100 139 1102 137 1102 134C1103 132 1102 130 1101 128C1100 125 1098 123 1097 122" stroke-width="2.2" opacity="0.11"/>
<path d="M1214 156C1215 158 1217 164 1217 168C1217 172 1217 177 1216 181C1214 184 1208 188 1207 190" stroke-width="2.9" opacity="0.11"/>
<path d="M1183 133C1182 132 1175 129 1173 126C1171 123 1169 118 1170 114C1170 110 1174 104 1175 102" stroke-width="2.9" opacity="0.20"/>
<path d="M1121 78C1118 78 1107 77 1103 80C1099 83 1096 91 1096 97C1096 102 1101 111 1102 114" stroke-width="2.0" opacity="0.13"/>
<path d="M1211 144C1213 144 1219 147 1222 145C1225 144 1227 139 1227 136C1227 133 1221 129 1220 128" stroke-width="2.8" opacity="0.13"/>
<path d="M1116 143C1116 144 1116 147 1116 149C1115 152 1114 154 1113 156C1112 158 1109 160 1108 161" stroke-width="2.6" opacity="0.15"/>
<path d="M1139 148C1141 147 1150 144 1155 141C1160 138 1165 135 1168 131C1172 126 1174 117 1175 115" stroke-width="2.8" opacity="0.17"/>
<path d="M1167 170C1168 169 1172 165 1173 162C1174 160 1175 156 1175 153C1174 150 1171 146 1170 145" stroke-width="2.3" opacity="0.15"/>
<path d="M1146 129C1146 126 1146 113 1150 110C1154 107 1165 108 1170 111C1175 114 1178 126 1180 129" stroke-width="1.6" opacity="0.16"/>
<path d="M1208 70C1210 68 1215 61 1220 58C1225 56 1232 55 1237 55C1242 56 1250 61 1252 62" stroke-width="2.3" opacity="0.14"/>
<path d="M1182 76C1184 76 1188 75 1191 74C1193 74 1196 74 1199 74C1202 74 1206 75 1208 75" stroke-width="2.7" opacity="0.15"/>
<path d="M1077 148C1079 145 1085 138 1090 134C1094 130 1099 125 1104 122C1109 119 1118 117 1121 116" stroke-width="2.7" opacity="0.11"/>
<path d="M1096 114C1095 111 1095 102 1093 96C1090 91 1084 87 1081 82C1078 76 1078 66 1077 63" stroke-width="1.6" opacity="0.12"/>
<path d="M1192 178C1192 177 1190 173 1188 171C1186 170 1183 170 1180 170C1178 171 1175 174 1174 175" stroke-width="2.8" opacity="0.14"/>
<path d="M1199 150C1198 149 1196 145 1194 144C1192 143 1188 143 1186 144C1184 145 1181 148 1180 149" stroke-width="3.0" opacity="0.22"/>
<path d="M1182 127C1184 128 1189 135 1193 137C1197 139 1202 139 1207 140C1212 140 1219 140 1222 141" stroke-width="1.9" opacity="0.20"/>
<path d="M1137 165C1138 164 1141 161 1144 160C1146 159 1149 158 1152 159C1154 159 1156 163 1157 164" stroke-width="2.5" opacity="0.11"/>
<path d="M1160 89C1158 87 1152 82 1150 78C1147 74 1146 69 1144 65C1143 60 1141 53 1141 50" stroke-width="2.5" opacity="0.15"/>
<path d="M1137 101C1139 101 1148 98 1153 99C1158 99 1163 102 1168 104C1173 106 1181 108 1183 109" stroke-width="2.9" opacity="0.16"/>
<path d="M1126 111C1127 112 1131 114 1133 114C1135 113 1136 110 1137 108C1137 105 1135 102 1135 100" stroke-width="2.6" opacity="0.20"/>
<path d="M1160 106C1157 105 1150 100 1144 99C1139 97 1132 97 1127 99C1123 102 1119 111 1117 113" stroke-width="2.6" opacity="0.12"/>
<path d="M1068 117C1070 119 1076 124 1081 125C1086 126 1093 126 1097 123C1101 121 1105 113 1107 111" stroke-width="2.6" opacity="0.21"/>
<path d="M1089 85C1092 85 1099 84 1104 84C1109 84 1114 85 1119 86C1123 86 1130 89 1133 90" stroke-width="2.5" opacity="0.13"/>
<path d="M1167 98C1166 98 1163 95 1160 94C1157 93 1154 92 1151 92C1148 93 1145 96 1143 97" stroke-width="1.5" opacity="0.17"/>
<path d="M1081 88C1081 90 1079 94 1080 97C1081 100 1082 103 1084 105C1086 107 1089 110 1090 112" stroke-width="2.3" opacity="0.17"/>
<path d="M1168 143C1168 141 1166 136 1164 135C1162 134 1157 134 1156 136C1154 138 1154 143 1154 144" stroke-width="2.0" opacity="0.13"/>
<path d="M1169 163C1170 161 1174 154 1177 149C1180 145 1183 140 1187 138C1192 136 1200 137 1203 136" stroke-width="2.2" opacity="0.11"/>
<path d="M1113 118C1114 119 1117 123 1118 126C1119 129 1121 133 1120 136C1119 138 1114 142 1113 143" stroke-width="2.1" opacity="0.17"/>
<path d="M1150 99C1147 98 1138 94 1133 90C1128 86 1123 81 1120 75C1116 70 1114 60 1113 57" stroke-width="1.9" opacity="0.14"/>
<path d="M1169 165C1168 163 1166 156 1163 152C1161 148 1157 145 1154 141C1151 137 1146 133 1144 131" stroke-width="2.3" opacity="0.15"/>
<path d="M1212 114C1214 114 1222 114 1225 116C1229 118 1233 123 1235 127C1236 131 1233 138 1233 140" stroke-width="2.2" opacity="0.19"/>
<path d="M1198 88C1201 87 1209 81 1215 78C1220 75 1225 72 1231 69C1237 66 1246 63 1249 62" stroke-width="1.7" opacity="0.16"/>
<path d="M1145 89C1145 86 1142 77 1140 71C1139 65 1138 59 1136 53C1135 47 1131 38 1130 35" stroke-width="2.1" opacity="0.16"/>
<path d="M1132 78C1134 79 1139 83 1143 86C1147 88 1150 90 1154 92C1158 94 1164 97 1166 98" stroke-width="2.7" opacity="0.12"/>
<path d="M1170 99C1172 97 1175 88 1179 85C1183 82 1190 81 1195 80C1201 79 1209 80 1212 80" stroke-width="2.4" opacity="0.20"/>
<path d="M1058 82C1058 80 1058 75 1059 72C1060 69 1061 66 1062 64C1063 61 1067 58 1068 56" stroke-width="1.8" opacity="0.11"/>
<path d="M1146 151C1147 150 1148 147 1149 145C1151 143 1154 143 1156 141C1158 140 1160 138 1161 137" stroke-width="3.0" opacity="0.16"/>
<path d="M1152 172C1150 170 1146 164 1143 162C1139 159 1133 158 1130 159C1126 160 1121 166 1120 168" stroke-width="1.9" opacity="0.22"/>
<path d="M1204 97C1203 98 1202 102 1202 105C1201 107 1202 110 1201 112C1201 115 1200 119 1200 120" stroke-width="2.2" opacity="0.14"/>
<path d="M1210 147C1208 149 1201 153 1197 156C1192 159 1187 161 1183 164C1178 167 1173 173 1171 175" stroke-width="1.6" opacity="0.14"/>
<path d="M1192 106C1190 105 1184 101 1181 98C1177 94 1175 90 1173 86C1170 82 1168 75 1167 73" stroke-width="2.6" opacity="0.21"/>
<path d="M1209 147C1208 149 1205 153 1205 156C1204 159 1205 163 1206 166C1207 169 1211 174 1211 175" stroke-width="2.3" opacity="0.21"/>
<path d="M1095 134C1096 132 1101 124 1105 121C1109 118 1115 117 1120 116C1125 115 1133 115 1136 115" stroke-width="1.5" opacity="0.19"/>
<path d="M1152 169C1153 166 1156 157 1155 152C1154 147 1149 142 1145 138C1141 134 1132 132 1129 131" stroke-width="1.9" opacity="0.19"/>
<path d="M1077 90C1078 91 1082 92 1085 93C1088 94 1091 95 1093 95C1096 95 1100 92 1101 91" stroke-width="2.1" opacity="0.12"/>
<path d="M1107 71C1108 73 1112 76 1114 79C1115 82 1116 86 1117 89C1118 92 1117 98 1117 100" stroke-width="2.8" opacity="0.21"/>
<path d="M1175 155C1173 158 1171 167 1167 171C1163 175 1156 176 1150 178C1144 180 1136 182 1133 183" stroke-width="1.8" opacity="0.12"/>
<path d="M1149 139C1151 139 1155 139 1156 140C1158 141 1158 145 1157 147C1157 149 1153 150 1152 151" stroke-width="2.4" opacity="0.15"/>
<path d="M1171 148C1173 146 1180 140 1181 135C1182 130 1180 124 1177 120C1175 116 1166 112 1164 111" stroke-width="1.5" opacity="0.15"/>
<path d="M1069 123C1071 122 1076 120 1080 119C1083 119 1087 120 1091 120C1095 121 1100 123 1102 124" stroke-width="2.2" opacity="0.20"/>
<path d="M1141 126C1141 125 1141 120 1142 118C1143 115 1145 113 1147 111C1149 109 1153 107 1154 106" stroke-width="2.7" opacity="0.12"/>
<path d="M1082 156C1083 158 1084 168 1086 173C1088 179 1090 185 1093 190C1097 195 1104 200 1107 202" stroke-width="1.5" opacity="0.15"/>
<path d="M1101 91C1099 92 1092 93 1088 94C1084 95 1080 96 1076 97C1072 98 1066 97 1064 97" stroke-width="2.6" opacity="0.22"/>
<path d="M1190 158C1192 158 1197 157 1199 154C1200 152 1200 148 1199 145C1198 142 1195 138 1194 137" stroke-width="2.7" opacity="0.15"/>
</g>
<g fill="none" stroke="#d8d8d8" stroke-linecap="round" filter="url(#bl1)">
<path d="M1147 192C1148 195 1151 203 1153 208C1155 214 1158 219 1159 224C1160 230 1161 239 1161 241" stroke-width="0.7" opacity="0.24"/>
<path d="M1093 194C1094 195 1095 198 1095 200C1096 202 1096 204 1096 206C1096 208 1096 212 1096 213" stroke-width="1.5" opacity="0.37"/>
<path d="M1170 265C1169 262 1164 255 1163 250C1162 245 1163 239 1164 234C1165 228 1169 221 1169 218" stroke-width="1.4" opacity="0.37"/>
<path d="M1122 195C1120 193 1115 187 1111 183C1107 180 1102 177 1097 174C1092 171 1085 167 1083 166" stroke-width="0.8" opacity="0.19"/>
<path d="M1156 242C1157 239 1161 229 1160 223C1158 218 1152 209 1148 208C1143 207 1133 216 1130 217" stroke-width="1.4" opacity="0.27"/>
<path d="M1127 256C1129 256 1134 256 1136 258C1138 259 1140 262 1141 265C1143 267 1144 272 1145 273" stroke-width="1.0" opacity="0.30"/>
<path d="M1162 293C1163 291 1168 282 1173 280C1178 278 1185 280 1190 283C1194 286 1198 295 1200 297" stroke-width="0.8" opacity="0.33"/>
<path d="M1141 200C1141 196 1144 186 1142 180C1140 174 1135 169 1131 164C1126 160 1117 155 1115 153" stroke-width="0.8" opacity="0.35"/>
<path d="M1181 255C1180 255 1175 257 1173 259C1171 261 1171 266 1172 268C1173 271 1178 273 1179 274" stroke-width="0.8" opacity="0.27"/>
<path d="M1159 244C1160 247 1162 256 1164 262C1167 268 1168 277 1173 279C1177 282 1188 278 1191 278" stroke-width="1.5" opacity="0.15"/>
<path d="M1167 188C1170 189 1179 194 1185 195C1191 197 1198 195 1205 197C1211 198 1220 202 1223 203" stroke-width="1.2" opacity="0.22"/>
<path d="M1204 189C1202 190 1194 191 1190 193C1185 195 1182 198 1177 200C1173 202 1166 205 1164 206" stroke-width="0.9" opacity="0.39"/>
<path d="M1203 250C1204 251 1210 256 1211 260C1213 264 1213 269 1212 273C1212 277 1209 283 1208 285" stroke-width="0.7" opacity="0.29"/>
<path d="M1168 264C1169 265 1170 268 1171 270C1172 272 1173 274 1174 276C1175 278 1177 281 1177 282" stroke-width="1.3" opacity="0.23"/>
<path d="M1202 207C1201 210 1198 217 1194 221C1191 224 1186 227 1181 230C1177 232 1169 235 1167 236" stroke-width="0.9" opacity="0.16"/>
<path d="M1179 301C1178 300 1175 297 1172 295C1170 294 1166 294 1163 293C1160 293 1156 291 1155 291" stroke-width="1.5" opacity="0.25"/>
<path d="M1204 309C1204 308 1206 305 1205 303C1205 301 1203 299 1202 298C1200 297 1197 297 1196 296" stroke-width="1.2" opacity="0.19"/>
<path d="M1202 207C1204 207 1208 205 1211 206C1214 206 1216 209 1218 211C1221 213 1224 216 1225 217" stroke-width="1.4" opacity="0.24"/>
<path d="M1202 203C1204 203 1210 202 1214 200C1219 199 1223 196 1227 196C1231 195 1238 197 1240 197" stroke-width="1.3" opacity="0.34"/>
<path d="M1138 275C1140 272 1142 264 1145 260C1148 255 1152 251 1157 249C1162 247 1170 246 1173 246" stroke-width="1.2" opacity="0.30"/>
<path d="M1175 272C1176 272 1180 269 1183 269C1186 269 1189 271 1191 273C1193 275 1193 280 1194 281" stroke-width="1.2" opacity="0.19"/>
<path d="M1164 222C1162 222 1155 222 1151 221C1147 220 1143 219 1138 218C1134 217 1128 214 1126 213" stroke-width="1.0" opacity="0.24"/>
<path d="M1170 232C1168 231 1161 230 1158 227C1154 224 1152 220 1150 216C1148 212 1146 206 1145 204" stroke-width="1.1" opacity="0.21"/>
<path d="M1139 219C1139 221 1140 227 1140 231C1140 236 1139 241 1137 244C1135 247 1129 251 1127 252" stroke-width="0.9" opacity="0.16"/>
<path d="M1195 267C1194 266 1190 264 1188 262C1186 259 1186 256 1186 253C1185 251 1185 246 1184 245" stroke-width="1.3" opacity="0.28"/>
<path d="M1153 237C1150 238 1142 242 1136 241C1131 241 1125 238 1120 235C1116 231 1111 223 1110 221" stroke-width="1.3" opacity="0.34"/>
<path d="M1158 192C1156 195 1152 203 1149 209C1146 214 1143 219 1141 225C1139 231 1139 240 1138 243" stroke-width="1.2" opacity="0.39"/>
<path d="M1143 260C1145 257 1149 247 1154 245C1159 243 1167 245 1172 248C1177 250 1182 259 1184 261" stroke-width="1.3" opacity="0.28"/>
<path d="M1209 237C1207 238 1200 240 1195 242C1190 245 1186 248 1182 250C1178 253 1171 257 1169 258" stroke-width="0.7" opacity="0.17"/>
<path d="M1211 205C1211 204 1214 201 1215 199C1217 197 1219 195 1220 193C1221 191 1221 187 1221 186" stroke-width="1.1" opacity="0.21"/>
<path d="M1149 230C1150 232 1152 236 1154 239C1156 242 1159 244 1161 247C1162 250 1164 254 1165 256" stroke-width="1.1" opacity="0.29"/>
<path d="M1209 269C1210 271 1213 277 1216 280C1218 282 1224 284 1227 283C1231 282 1235 277 1237 276" stroke-width="1.3" opacity="0.26"/>
<path d="M1163 242C1166 244 1176 248 1180 252C1184 257 1185 264 1187 270C1190 276 1193 285 1194 288" stroke-width="0.8" opacity="0.25"/>
<path d="M1182 188C1183 189 1185 193 1187 195C1189 197 1190 199 1192 201C1194 204 1196 207 1197 208" stroke-width="1.0" opacity="0.39"/>
<path d="M1104 237C1106 235 1111 228 1115 225C1119 221 1124 217 1129 216C1134 216 1142 221 1145 222" stroke-width="0.7" opacity="0.35"/>
<path d="M1153 301C1154 300 1159 295 1162 293C1165 290 1169 287 1173 286C1177 285 1183 286 1185 286" stroke-width="0.9" opacity="0.35"/>
<path d="M1201 245C1201 244 1202 239 1201 236C1200 233 1198 230 1196 228C1194 226 1190 223 1189 222" stroke-width="1.1" opacity="0.31"/>
<path d="M1132 220C1133 223 1136 230 1140 234C1143 238 1148 241 1153 243C1158 245 1166 246 1168 246" stroke-width="1.2" opacity="0.16"/>
<path d="M1127 272C1128 270 1131 267 1132 264C1134 261 1136 258 1136 255C1137 252 1135 247 1135 246" stroke-width="1.1" opacity="0.35"/>
<path d="M1142 216C1142 215 1142 210 1140 208C1139 206 1136 205 1133 204C1131 203 1126 203 1125 203" stroke-width="1.1" opacity="0.26"/>
<path d="M1121 225C1120 226 1117 228 1114 229C1112 229 1110 227 1108 227C1105 226 1102 224 1101 224" stroke-width="1.1" opacity="0.40"/>
<path d="M1121 226C1122 228 1127 235 1129 239C1131 244 1131 250 1132 255C1134 259 1139 266 1140 268" stroke-width="1.5" opacity="0.29"/>
<path d="M1148 187C1150 188 1157 191 1162 193C1166 195 1171 197 1175 199C1180 201 1188 202 1190 203" stroke-width="0.8" opacity="0.36"/>
<path d="M1132 180C1131 178 1131 169 1128 165C1126 160 1120 157 1116 155C1111 152 1104 149 1101 148" stroke-width="0.8" opacity="0.24"/>
<path d="M1141 184C1143 185 1148 187 1152 189C1156 191 1159 193 1163 194C1167 195 1173 196 1175 196" stroke-width="1.0" opacity="0.22"/>
<path d="M1130 237C1132 236 1140 230 1145 229C1151 229 1157 231 1162 234C1167 236 1174 240 1177 242" stroke-width="1.0" opacity="0.26"/>
<path d="M1200 313C1202 312 1205 308 1207 306C1210 303 1212 301 1214 298C1216 296 1219 291 1220 290" stroke-width="0.8" opacity="0.15"/>
<path d="M1142 182C1140 182 1129 184 1128 182C1126 180 1129 171 1132 168C1135 164 1142 161 1144 160" stroke-width="0.8" opacity="0.16"/>
<path d="M1139 266C1141 267 1146 269 1149 272C1152 274 1154 277 1157 279C1160 281 1166 282 1168 283" stroke-width="0.8" opacity="0.31"/>
<path d="M1153 254C1154 253 1157 252 1159 250C1160 249 1162 248 1164 247C1165 245 1167 242 1168 241" stroke-width="0.8" opacity="0.28"/>
<path d="M1135 206C1134 205 1132 202 1130 200C1129 199 1127 197 1125 195C1124 193 1122 190 1122 189" stroke-width="1.3" opacity="0.26"/>
<path d="M1152 204C1150 207 1144 215 1139 218C1133 220 1123 221 1120 218C1116 215 1119 202 1119 199" stroke-width="1.2" opacity="0.26"/>
<path d="M1189 315C1187 313 1180 306 1177 300C1174 295 1170 288 1170 283C1171 277 1179 270 1181 267" stroke-width="1.0" opacity="0.35"/>
<path d="M1195 262C1195 264 1194 270 1193 273C1191 276 1188 279 1185 281C1182 282 1176 282 1175 283" stroke-width="1.3" opacity="0.18"/>
<path d="M1200 305C1200 304 1203 299 1203 296C1203 293 1201 290 1200 287C1198 285 1193 283 1192 282" stroke-width="0.7" opacity="0.17"/>
<path d="M1149 264C1148 265 1146 266 1144 268C1142 269 1140 270 1139 272C1137 273 1135 276 1134 277" stroke-width="1.4" opacity="0.18"/>
<path d="M1177 214C1176 216 1173 223 1170 225C1166 227 1160 228 1156 226C1153 224 1149 217 1148 215" stroke-width="0.7" opacity="0.28"/>
<path d="M1208 310C1208 311 1209 316 1208 318C1207 320 1202 321 1200 320C1199 319 1198 314 1197 313" stroke-width="1.3" opacity="0.17"/>
<path d="M1202 182C1200 181 1190 178 1187 173C1184 169 1183 162 1184 156C1184 150 1188 142 1189 139" stroke-width="0.9" opacity="0.33"/>
<path d="M1176 183C1177 185 1182 192 1185 196C1188 200 1191 204 1194 209C1196 213 1198 221 1199 223" stroke-width="1.0" opacity="0.36"/>
<path d="M1096 191C1097 188 1098 179 1100 173C1102 167 1104 161 1107 155C1110 150 1117 144 1119 141" stroke-width="1.1" opacity="0.35"/>
<path d="M1182 211C1183 213 1186 217 1188 220C1190 223 1191 226 1192 230C1193 233 1194 239 1194 240" stroke-width="1.3" opacity="0.32"/>
<path d="M1195 221C1197 220 1207 215 1208 210C1209 206 1204 198 1200 195C1196 192 1186 195 1183 195" stroke-width="1.1" opacity="0.29"/>
<path d="M1159 231C1161 231 1168 231 1173 231C1177 231 1182 233 1186 234C1190 235 1197 237 1199 238" stroke-width="1.1" opacity="0.36"/>
<path d="M1184 304C1183 300 1181 291 1182 285C1182 278 1184 272 1186 266C1189 260 1194 252 1196 249" stroke-width="0.7" opacity="0.38"/>
<path d="M1179 301C1179 299 1180 293 1180 289C1180 285 1180 281 1181 276C1182 272 1184 267 1184 265" stroke-width="0.7" opacity="0.23"/>
<path d="M1177 198C1178 198 1182 201 1185 201C1187 202 1190 203 1193 202C1196 202 1200 201 1201 201" stroke-width="0.9" opacity="0.19"/>
<path d="M1185 216C1186 218 1189 225 1191 229C1192 234 1196 238 1196 243C1196 248 1192 255 1191 257" stroke-width="1.5" opacity="0.39"/>
<path d="M1202 204C1203 207 1202 216 1203 221C1204 227 1208 231 1209 237C1210 242 1208 251 1208 254" stroke-width="1.2" opacity="0.25"/>
<path d="M1200 202C1198 204 1193 208 1190 211C1187 214 1183 216 1181 220C1178 223 1175 229 1174 231" stroke-width="0.7" opacity="0.25"/>
<path d="M1127 235C1129 235 1135 236 1138 235C1142 235 1146 234 1149 233C1153 233 1158 231 1160 230" stroke-width="0.7" opacity="0.37"/>
<path d="M1177 183C1175 183 1169 184 1166 184C1162 184 1158 183 1155 182C1151 182 1146 180 1144 180" stroke-width="1.4" opacity="0.20"/>
<path d="M1202 259C1205 259 1215 258 1222 257C1228 256 1235 255 1242 256C1248 257 1258 259 1261 260" stroke-width="1.1" opacity="0.35"/>
<path d="M1181 285C1181 283 1182 277 1184 273C1186 270 1189 267 1192 265C1196 263 1202 262 1204 261" stroke-width="1.0" opacity="0.20"/>
<path d="M1171 307C1172 306 1176 303 1178 301C1181 298 1183 296 1185 293C1187 291 1190 287 1191 285" stroke-width="1.4" opacity="0.29"/>
<path d="M1121 229C1122 228 1128 226 1128 223C1129 221 1128 216 1126 214C1124 212 1119 212 1118 211" stroke-width="1.0" opacity="0.38"/>
<path d="M1172 199C1170 197 1163 191 1158 189C1153 187 1147 187 1141 186C1135 185 1126 185 1124 184" stroke-width="0.7" opacity="0.28"/>
<path d="M1200 291C1197 290 1190 289 1184 287C1179 286 1174 284 1169 284C1164 284 1156 287 1154 288" stroke-width="1.2" opacity="0.30"/>
<path d="M1194 211C1193 209 1187 204 1185 200C1182 195 1180 190 1180 185C1180 180 1182 173 1183 170" stroke-width="0.9" opacity="0.22"/>
<path d="M1121 203C1120 200 1117 191 1115 185C1113 179 1113 172 1112 166C1111 160 1109 151 1108 147" stroke-width="1.2" opacity="0.28"/>
<path d="M1154 233C1152 233 1144 234 1140 233C1135 232 1129 230 1126 227C1124 223 1125 215 1124 212" stroke-width="0.9" opacity="0.38"/>
<path d="M1185 246C1184 249 1180 257 1178 262C1176 268 1173 274 1173 279C1174 285 1179 293 1181 295" stroke-width="0.7" opacity="0.17"/>
<path d="M1183 206C1181 206 1174 207 1170 206C1165 204 1162 200 1158 198C1154 195 1148 192 1146 191" stroke-width="1.1" opacity="0.16"/>
<path d="M1164 264C1161 264 1154 264 1149 263C1145 261 1141 258 1138 254C1134 251 1131 245 1129 243" stroke-width="1.1" opacity="0.38"/>
<path d="M1209 216C1209 214 1208 207 1208 202C1207 197 1207 193 1207 188C1207 184 1209 177 1209 174" stroke-width="1.1" opacity="0.20"/>
<path d="M1154 282C1158 282 1167 280 1173 280C1180 279 1186 280 1193 278C1199 277 1208 273 1210 271" stroke-width="1.1" opacity="0.16"/>
<path d="M1111 210C1112 207 1118 201 1121 196C1123 191 1124 185 1125 180C1125 174 1125 166 1125 163" stroke-width="1.4" opacity="0.31"/>
<path d="M1141 185C1143 183 1150 177 1152 171C1154 166 1155 158 1153 154C1151 149 1141 144 1139 143" stroke-width="1.2" opacity="0.22"/>
<path d="M1132 226C1131 227 1127 232 1125 236C1123 239 1123 243 1122 247C1120 251 1118 257 1118 259" stroke-width="0.7" opacity="0.17"/>
</g>
<g fill="none" stroke="#c4c4c4" stroke-linecap="round" filter="url(#bl1)">
<path d="M1046 123C1043 121 1034 113 1029 109C1023 104 1017 99 1011 94C1005 89 996 82 993 80" stroke-width="2.2" opacity="0.35"/>
<path d="M1085 218C1082 217 1074 214 1068 212C1063 210 1057 209 1051 207C1045 206 1036 205 1033 205" stroke-width="0.9" opacity="0.23"/>
<path d="M1098 165C1096 162 1089 152 1083 145C1078 139 1072 133 1066 127C1061 121 1051 112 1048 110" stroke-width="2.0" opacity="0.24"/>
<path d="M1087 163C1086 162 1083 159 1080 157C1078 155 1075 154 1073 152C1070 151 1066 149 1065 148" stroke-width="1.7" opacity="0.32"/>
<path d="M1052 89C1050 87 1043 83 1038 80C1033 78 1028 75 1023 72C1018 69 1011 65 1009 64" stroke-width="1.3" opacity="0.19"/>
<path d="M1084 175C1081 173 1071 169 1064 167C1057 165 1050 162 1043 161C1036 159 1025 156 1021 156" stroke-width="1.9" opacity="0.26"/>
<path d="M1069 157C1067 155 1062 151 1058 148C1054 145 1050 142 1047 139C1043 136 1037 132 1035 131" stroke-width="2.2" opacity="0.27"/>
<path d="M1103 196C1100 195 1093 192 1088 191C1082 189 1077 188 1072 186C1067 185 1059 183 1057 182" stroke-width="2.0" opacity="0.20"/>
<path d="M1122 284C1120 283 1115 281 1111 279C1108 278 1104 276 1101 275C1097 273 1092 271 1090 270" stroke-width="1.5" opacity="0.23"/>
<path d="M1067 133C1064 131 1058 125 1054 122C1049 118 1045 114 1040 110C1036 106 1030 100 1028 98" stroke-width="1.1" opacity="0.31"/>
<path d="M1175 309C1172 307 1164 300 1159 296C1154 292 1148 288 1143 284C1138 279 1130 273 1128 271" stroke-width="1.3" opacity="0.25"/>
<path d="M1120 279C1118 278 1112 272 1108 269C1104 266 1100 263 1095 260C1091 257 1084 253 1082 251" stroke-width="1.5" opacity="0.25"/>
<path d="M1103 191C1101 191 1097 189 1093 187C1090 186 1087 185 1084 184C1081 183 1076 182 1074 181" stroke-width="2.1" opacity="0.35"/>
<path d="M1069 146C1065 145 1053 142 1045 140C1037 138 1028 136 1020 134C1012 132 1000 130 996 129" stroke-width="0.9" opacity="0.22"/>
<path d="M1110 232C1107 231 1098 228 1092 227C1086 226 1079 225 1073 224C1067 223 1058 222 1054 221" stroke-width="2.0" opacity="0.21"/>
<path d="M1097 205C1094 203 1085 196 1079 191C1073 187 1067 182 1061 177C1055 173 1046 166 1043 164" stroke-width="1.3" opacity="0.32"/>
<path d="M1131 292C1128 291 1119 287 1112 284C1106 282 1099 280 1093 278C1086 276 1076 273 1073 273" stroke-width="1.7" opacity="0.34"/>
<path d="M1159 295C1156 292 1147 285 1140 280C1134 275 1127 271 1121 267C1114 262 1104 256 1100 254" stroke-width="1.8" opacity="0.36"/>
<path d="M1084 218C1081 217 1075 213 1070 211C1066 209 1061 207 1056 206C1051 204 1044 203 1042 202" stroke-width="1.0" opacity="0.34"/>
<path d="M1093 241C1089 239 1080 234 1074 231C1067 228 1061 225 1054 223C1048 220 1037 216 1034 215" stroke-width="1.7" opacity="0.17"/>
<path d="M1063 108C1060 106 1053 100 1047 96C1042 92 1037 88 1032 84C1026 80 1018 75 1015 73" stroke-width="1.2" opacity="0.18"/>
<path d="M1152 302C1150 301 1143 298 1138 297C1133 295 1128 294 1123 293C1118 292 1111 291 1108 291" stroke-width="1.3" opacity="0.20"/>
<path d="M1067 99C1065 99 1060 96 1057 95C1053 94 1050 92 1046 91C1043 90 1037 89 1035 89" stroke-width="1.9" opacity="0.35"/>
<path d="M1107 229C1104 229 1095 227 1089 226C1083 225 1077 225 1071 224C1065 223 1056 222 1053 222" stroke-width="2.1" opacity="0.35"/>
<path d="M1138 297C1135 295 1128 288 1123 284C1117 280 1112 276 1106 272C1100 269 1091 264 1088 262" stroke-width="1.3" opacity="0.37"/>
<path d="M1055 133C1052 132 1044 127 1038 124C1032 121 1026 118 1020 115C1014 113 1005 109 1002 107" stroke-width="1.2" opacity="0.20"/>
<path d="M1096 218C1093 216 1085 212 1079 210C1073 207 1066 205 1060 203C1054 201 1044 199 1041 198" stroke-width="1.2" opacity="0.17"/>
<path d="M1057 93C1054 93 1048 91 1043 91C1038 90 1034 90 1029 90C1024 91 1018 91 1015 92" stroke-width="2.0" opacity="0.29"/>
<path d="M1074 126C1071 125 1059 123 1052 121C1044 120 1036 119 1029 119C1021 118 1009 118 1006 118" stroke-width="1.8" opacity="0.33"/>
<path d="M1070 139C1068 138 1062 134 1059 131C1055 129 1051 127 1047 124C1043 122 1037 118 1035 117" stroke-width="1.6" opacity="0.30"/>
<path d="M1164 295C1161 295 1151 293 1145 293C1138 292 1132 292 1125 292C1119 292 1109 292 1106 292" stroke-width="2.2" opacity="0.26"/>
<path d="M1050 82C1048 80 1042 73 1038 69C1033 65 1029 61 1025 57C1020 53 1014 48 1011 46" stroke-width="1.3" opacity="0.24"/>
<path d="M1052 106C1050 106 1042 103 1036 102C1031 101 1025 100 1020 100C1014 99 1006 99 1003 99" stroke-width="1.7" opacity="0.30"/>
<path d="M1120 263C1119 262 1114 260 1111 259C1108 258 1105 256 1102 255C1099 255 1094 253 1093 253" stroke-width="2.1" opacity="0.20"/>
<path d="M1131 271C1129 271 1123 268 1119 266C1115 264 1111 263 1106 262C1102 261 1096 260 1094 259" stroke-width="1.3" opacity="0.31"/>
<path d="M1047 84C1045 81 1039 71 1035 64C1030 57 1026 51 1022 44C1018 38 1011 28 1009 25" stroke-width="2.0" opacity="0.22"/>
<path d="M1076 162C1074 161 1070 160 1067 160C1063 159 1060 159 1057 159C1054 158 1049 159 1048 159" stroke-width="1.2" opacity="0.23"/>
<path d="M1085 166C1082 164 1072 159 1066 156C1059 152 1052 149 1045 146C1039 143 1028 139 1025 138" stroke-width="1.9" opacity="0.25"/>
<path d="M1131 250C1128 249 1117 245 1110 243C1102 240 1095 237 1088 235C1080 232 1069 228 1066 227" stroke-width="2.1" opacity="0.20"/>
<path d="M1065 110C1062 108 1053 104 1047 101C1041 99 1036 96 1030 93C1024 90 1016 85 1013 84" stroke-width="1.5" opacity="0.38"/>
<path d="M1102 196C1100 195 1096 192 1093 190C1090 188 1087 186 1084 184C1081 183 1076 180 1075 179" stroke-width="1.2" opacity="0.25"/>
<path d="M1120 235C1117 233 1109 226 1104 221C1098 216 1093 212 1088 207C1082 203 1074 196 1072 194" stroke-width="1.4" opacity="0.19"/>
<path d="M1147 295C1144 293 1134 287 1127 282C1120 278 1114 274 1107 269C1100 265 1090 258 1086 256" stroke-width="1.7" opacity="0.20"/>
<path d="M1099 193C1098 192 1093 190 1090 189C1087 188 1084 186 1080 185C1077 184 1073 182 1071 181" stroke-width="1.2" opacity="0.15"/>
<path d="M1063 128C1061 127 1056 123 1052 121C1049 119 1045 117 1041 115C1037 113 1031 110 1029 109" stroke-width="1.5" opacity="0.36"/>
<path d="M1138 277C1136 276 1129 272 1125 269C1120 267 1116 264 1111 262C1106 259 1099 256 1097 254" stroke-width="1.2" opacity="0.23"/>
<path d="M1054 107C1053 106 1048 101 1044 99C1041 96 1037 93 1033 90C1030 88 1024 84 1022 83" stroke-width="1.7" opacity="0.28"/>
<path d="M1096 218C1094 217 1086 216 1081 215C1076 213 1071 212 1066 212C1061 211 1054 210 1051 209" stroke-width="1.3" opacity="0.22"/>
<path d="M1144 293C1143 292 1138 290 1135 288C1132 287 1129 285 1126 284C1123 283 1118 281 1116 280" stroke-width="1.4" opacity="0.29"/>
<path d="M1108 197C1106 195 1101 191 1097 189C1094 186 1091 183 1087 180C1084 178 1078 173 1077 172" stroke-width="1.2" opacity="0.15"/>
<path d="M1059 112C1056 110 1046 104 1039 100C1033 96 1026 93 1019 90C1012 87 1001 83 998 82" stroke-width="1.7" opacity="0.33"/>
<path d="M1157 300C1156 299 1151 296 1147 295C1144 293 1140 291 1137 290C1133 289 1128 287 1126 286" stroke-width="1.2" opacity="0.17"/>
<path d="M1133 287C1130 286 1119 281 1112 279C1105 276 1098 274 1090 272C1083 270 1072 269 1068 268" stroke-width="2.1" opacity="0.38"/>
<path d="M1068 118C1067 117 1064 114 1062 112C1060 109 1057 107 1055 105C1053 103 1049 101 1048 100" stroke-width="1.7" opacity="0.32"/>
<path d="M1112 218C1111 216 1106 213 1104 210C1101 208 1098 205 1095 203C1092 200 1088 197 1086 195" stroke-width="1.0" opacity="0.16"/>
<path d="M965 75C967 80 971 94 976 104C980 114 985 124 992 133C998 143 1006 152 1013 160C1020 168 1027 173 1034 179C1042 184 1048 188 1056 192C1063 196 1076 201 1080 203" stroke-width="2.0" opacity="0.50"/>
<path d="M984 75C986 79 993 91 1000 99C1006 106 1016 115 1024 120C1031 125 1037 128 1045 131C1053 134 1066 137 1070 138" stroke-width="1.8" opacity="0.45"/>
<path d="M1002 75C1007 78 1022 89 1029 93C1036 98 1039 99 1045 101C1051 103 1062 105 1065 106" stroke-width="1.6" opacity="0.40"/>
<path d="M1015 75C1018 77 1028 83 1035 86C1042 89 1052 91 1055 92" stroke-width="1.4" opacity="0.35"/>
<path d="M890 113C902 113 936 113 960 112C984 112 1018 111 1034 112C1050 113 1049 115 1056 117C1063 119 1072 123 1075 124" stroke-width="1.3" opacity="0.30"/>
<path d="M906 132C921 131 968 128 992 128C1016 128 1037 132 1050 135C1064 137 1071 141 1075 142" stroke-width="1.3" opacity="0.28"/>
<path d="M946 123C951 128 962 142 973 152C984 162 1001 176 1010 184C1020 192 1022 193 1029 197C1036 202 1046 208 1050 210" stroke-width="1.1" opacity="0.25"/>
<path d="M944 163C952 165 979 174 992 179C1004 183 1009 185 1018 189C1028 194 1045 202 1050 205" stroke-width="1.1" opacity="0.22"/>
<path d="M1005 150C1009 153 1021 163 1030 168C1039 173 1051 177 1060 180C1069 183 1081 185 1085 186" stroke-width="1.6" opacity="0.40"/>
<path d="M1010 187C1016 190 1033 200 1043 207C1054 214 1064 221 1072 229C1081 237 1088 245 1095 253C1102 262 1106 270 1115 278C1123 286 1134 293 1144 300C1153 307 1163 313 1170 318C1177 323 1182 326 1185 328" stroke-width="3.9" opacity="0.72"/>
<path d="M1070 209C1070 213 1070 224 1068 231C1066 238 1058 243 1058 249C1058 255 1061 260 1066 265C1070 269 1077 274 1083 278C1090 282 1098 287 1106 291C1113 296 1126 302 1130 304" stroke-width="3.1" opacity="0.74"/>
<path d="M1018 218C1022 219 1034 223 1043 227C1053 231 1067 236 1077 242C1087 248 1095 255 1104 262C1112 270 1121 281 1125 285" stroke-width="2.3" opacity="0.54"/>
<path d="M1018 236C1022 237 1034 241 1043 244C1052 248 1063 253 1072 258C1082 263 1091 268 1099 274C1107 279 1118 289 1122 292" stroke-width="2.3" opacity="0.50"/>
<path d="M1018 249C1021 250 1029 250 1037 253C1044 256 1053 262 1061 267C1069 271 1075 276 1083 280C1092 285 1102 289 1110 294C1119 298 1131 304 1135 306" stroke-width="2.3" opacity="0.54"/>
<path d="M1018 262C1024 264 1043 269 1054 274C1066 278 1077 282 1088 287C1099 291 1111 296 1121 300C1132 304 1143 308 1152 311C1162 315 1175 320 1180 322" stroke-width="2.1" opacity="0.48"/>
<path d="M1032 282C1040 285 1063 292 1077 296C1091 300 1105 304 1117 307C1129 310 1144 314 1150 316" stroke-width="1.7" opacity="0.36"/>
<path d="M1040 196C1043 198 1052 203 1060 210C1068 217 1078 227 1085 236C1092 245 1102 258 1105 262" stroke-width="2.6" opacity="0.54"/>
<path d="M1150 285C1152 288 1160 296 1165 302C1170 308 1176 319 1178 322" stroke-width="3.9" opacity="0.66"/>
<path d="M1100 200C1105 205 1118 222 1130 230C1142 238 1157 245 1170 250C1183 255 1203 260 1210 262" stroke-width="1.8" opacity="0.36"/>
<path d="M1160 90C1164 94 1176 106 1185 112C1194 118 1208 125 1212 128" stroke-width="2.0" opacity="0.40"/>
</g>
</g>
<text x="1095.6" y="157.5" class="b" font-size="20.3" fill="#fff" textLength="99">Network of</text>
<text x="1095.6" y="182.2" class="b" font-size="20.3" fill="#fff" textLength="50">CNTs</text>
<g stroke="#ececec" stroke-width="1.2"><line x1="1089.6" y1="305.9" x2="1089.6" y2="308.7"/><line x1="1101.1" y1="305.9" x2="1101.1" y2="308.7"/><line x1="1112.6" y1="305.9" x2="1112.6" y2="308.7"/><line x1="1124.1" y1="305.9" x2="1124.1" y2="308.7"/><line x1="1135.6" y1="305.9" x2="1135.6" y2="308.7"/><line x1="1147.1" y1="305.9" x2="1147.1" y2="308.7"/><line x1="1158.7" y1="305.9" x2="1158.7" y2="308.7"/><line x1="1170.2" y1="305.9" x2="1170.2" y2="308.7"/><line x1="1181.7" y1="305.9" x2="1181.7" y2="308.7"/><line x1="1193.2" y1="305.9" x2="1193.2" y2="308.7"/><line x1="1204.7" y1="305.9" x2="1204.7" y2="308.7"/></g>
<text x="1175.8" y="317.4" font-size="9" fill="#e2e2e2" style="font-family:'Liberation Sans',sans-serif" textLength="32" lengthAdjust="spacingAndGlyphs">1.00um</text>
<g clip-path="url(#phc)">
<clipPath id="dcl"><path d="M954.4 198.5C966 197.5 977 201 985.9 205.9C996 211.5 1004 220 1008 230C1010 238 1010 245 1009 251.1C1008 261 1006 269 1002.7 276.3C998 285 993 291 985.9 295.2C977 300 968 302.4 958.6 302.6C948 302.5 939 300 931.2 295.2C925 291 920 285 916.5 278.4C912.5 271 909.5 264 908.1 257.4C906.5 249 906.3 241 907.1 234.2C908.5 227 912 220.5 916.5 215.3C921 210.5 927 206.5 933.4 203.8C940 200.8 947 199 954.4 198.5Z"/></clipPath>
<rect x="888.9" y="192.2" width="128.1" height="129.5" fill="#e2e5df"/>
<rect x="888.9" y="192.2" width="60" height="40" fill="#f2f6f5" filter="url(#bl6)"/>
<path d="M888 256C898 252 905 254 909 262L914 282L902 292L888 284Z" fill="#8a8470" opacity="0.32" filter="url(#bl3)"/>
<path d="M915.5 278C916 288 918 300 921.8 314L920.7 326L983.8 326C988 322 990 318 992.2 314C996 308 998 302 999.6 297L1004 282L985 298L955 304L930 298Z" fill="#111315" filter="url(#bl15)"/>
<path d="M922 302L921 326L982 326L990 310L960 314Z" fill="#0c0d0f" filter="url(#bl1)"/>
<path d="M954.4 198.5C966 197.5 977 201 985.9 205.9C996 211.5 1004 220 1008 230C1010 238 1010 245 1009 251.1C1008 261 1006 269 1002.7 276.3C998 285 993 291 985.9 295.2C977 300 968 302.4 958.6 302.6C948 302.5 939 300 931.2 295.2C925 291 920 285 916.5 278.4C912.5 271 909.5 264 908.1 257.4C906.5 249 906.3 241 907.1 234.2C908.5 227 912 220.5 916.5 215.3C921 210.5 927 206.5 933.4 203.8C940 200.8 947 199 954.4 198.5Z" fill="url(#disc)"/>
<g clip-path="url(#dcl)">
<path d="M912 222C920 208 940 199 958 198C975 198 992 205 1003 218" fill="none" stroke="#181b20" stroke-width="7" opacity="0.8" filter="url(#bl1)"/>
<path d="M986 206C996 214 1000 226 998 240C996 256 1000 270 1002 282L1016 270L1016 215Z" fill="#14171c" opacity="0.85" filter="url(#bl3)"/>
<path d="M922 288C940 299 965 303 992 291L986 302L958 308L930 302Z" fill="#a4aab0" opacity="0.75" filter="url(#bl3)"/>
<path d="M980 204L988 214L984 222Z" fill="#8a929a" opacity="0.6" filter="url(#bl1)"/>
</g>
<path d="M889 236L921 226L922 229.5L889 241Z" fill="#c4c7ca"/><path d="M889 238.3L917 229.3" stroke="#5a5d62" stroke-width="0.8"/>
<path d="M909 227C908 222 911 219 915 217.5L918 213L922 214L924 209.5L928 210.5L926 216L920 222L914 228Z" fill="#3b424b"/><rect x="922.5" y="214" width="5" height="3.4" fill="#8f948f" transform="rotate(-20 925 216)"/>
</g>
<text x="923.3" y="280.4" class="b" font-size="20.3" fill="#fff" textLength="83.5">CNT film</text>
<!-- p6_F.py -->
<rect x="941.8" y="374.5" width="263.8" height="217.2" class="ax"/>
<line x1="934.8" y1="591.7" x2="941.8" y2="591.7" class="ax"/>
<text transform="translate(924.3 597.2) scale(1.086 1)" class="b" font-size="18.5" text-anchor="end">0</text>
<line x1="934.8" y1="519.3" x2="941.8" y2="519.3" class="ax"/>
<text transform="translate(924.3 524.8) scale(1.086 1)" class="b" font-size="18.5" text-anchor="end">100</text>
<line x1="934.8" y1="446.9" x2="941.8" y2="446.9" class="ax"/>
<text transform="translate(924.3 452.4) scale(1.086 1)" class="b" font-size="18.5" text-anchor="end">200</text>
<line x1="934.8" y1="374.5" x2="941.8" y2="374.5" class="ax"/>
<text transform="translate(924.3 380.0) scale(1.086 1)" class="b" font-size="18.5" text-anchor="end">300</text>
<line x1="941.8" y1="591.7" x2="941.8" y2="599.0" class="ax"/>
<text transform="translate(941.8 621.0) scale(1.086 1)" class="b" font-size="18.5" text-anchor="middle">0</text>
<line x1="994.6" y1="591.7" x2="994.6" y2="599.0" class="ax"/>
<text transform="translate(994.6 621.0) scale(1.086 1)" class="b" font-size="18.5" text-anchor="middle">2</text>
<line x1="1047.3" y1="591.7" x2="1047.3" y2="599.0" class="ax"/>
<text transform="translate(1047.3 621.0) scale(1.086 1)" class="b" font-size="18.5" text-anchor="middle">4</text>
<line x1="1100.1" y1="591.7" x2="1100.1" y2="599.0" class="ax"/>
<text transform="translate(1100.1 621.0) scale(1.086 1)" class="b" font-size="18.5" text-anchor="middle">6</text>
<line x1="1152.8" y1="591.7" x2="1152.8" y2="599.0" class="ax"/>
<text transform="translate(1152.8 621.0) scale(1.086 1)" class="b" font-size="18.5" text-anchor="middle">8</text>
<line x1="1205.6" y1="591.7" x2="1205.6" y2="599.0" class="ax"/>
<text transform="translate(1205.6 621.0) scale(1.086 1)" class="b" font-size="18.5" text-anchor="middle">10</text>
<text transform="translate(1005.5 646.0) scale(1.036 1)" class="b" font-size="19.8">Tensile strain (%)</text>
<text transform="translate(885.3 551.5) rotate(-90) scale(1.07 1)" class="b" font-size="19.8">Stress (MPa)</text>
<path d="M943.2 590.3C943.4 589.1 943.7 587.1 944.6 583.0C945.5 578.9 946.9 572.9 948.7 565.4C950.5 557.9 953.3 546.5 955.6 538.0C957.9 529.5 960.1 521.1 962.4 514.7C964.7 508.3 967.0 504.0 969.3 499.6C971.6 495.2 972.8 493.0 976.2 488.6C979.6 484.2 985.3 477.9 989.9 473.5C994.5 469.1 999.0 465.7 1003.6 462.5C1008.2 459.3 1012.7 456.7 1017.3 454.3C1021.9 451.9 1026.4 449.8 1031.0 448.0C1035.6 446.2 1040.2 445.0 1044.8 443.3C1049.4 441.6 1053.9 439.7 1058.5 437.8C1063.1 435.9 1067.6 433.8 1072.2 431.8C1076.8 429.8 1081.3 428.0 1085.9 426.0C1090.5 424.0 1094.9 422.0 1099.6 420.0C1104.3 418.0 1109.2 415.9 1114.0 414.0C1118.8 412.1 1122.7 410.8 1128.2 408.5C1133.8 406.2 1141.6 403.1 1147.3 400.5C1153.0 397.9 1160.0 394.4 1162.6 393.2" fill="none" stroke="#ED1C24" stroke-width="5.5" stroke-linecap="round" stroke-linejoin="round"/>
<path d="M943.3 590.2C944.3 588.7 947.3 584.5 949.1 581.1C950.9 577.7 953.2 571.6 954.0 569.7" fill="none" stroke="#000" stroke-width="5.5" stroke-linecap="round" stroke-linejoin="round"/>
<text transform="translate(961.6 568.9) scale(1.042 1)" class="b" font-size="19.8">CNT film</text>
<text transform="translate(1006.9 486.2) rotate(-22.5) scale(1.035 1)" class="b" font-size="19.8" fill="#ED1C24">Cellulose Nanopaper</text>
<!-- p9_labels.py -->
<text x="23" y="83.5" class="b" font-size="42">A</text>
<text x="16.5" y="390" class="b" font-size="42">B</text>
<text x="556" y="85" class="b" font-size="42">C</text>
<text x="770.7" y="400.5" class="b" font-size="42">D</text>
<text x="861.5" y="83.5" class="b" font-size="42">E</text>
<text x="862" y="402" class="b" font-size="42">F</text>

</svg>
</body></html>
